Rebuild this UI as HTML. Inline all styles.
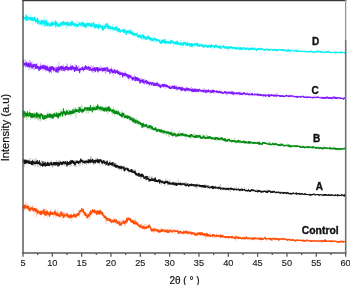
<!DOCTYPE html>
<html><head><meta charset="utf-8"><style>
html,body{margin:0;padding:0;background:#fff;width:350px;height:285px;overflow:hidden}
svg{position:absolute;left:0;top:0;display:block;will-change:transform}
.lbl{font-family:"Liberation Sans",sans-serif;font-weight:bold;fill:#111;stroke:#111;stroke-width:0.35px}
</style></head><body>
<svg width="350" height="285" viewBox="0 0 350 285">
<g fill="none" stroke-width="0.85" stroke-linejoin="round">
<path d="M23.0 14.3L23.2 11.6 23.5 17.8 23.8 18.5 24.0 16.3 24.2 18.2 24.5 21.6 24.8 20.3 25.0 19.5 25.2 19.7 25.5 16.4 25.8 20.6 26.0 14.2 26.2 17.2 26.5 16.9 26.8 13.9 27.0 17.6 27.2 21.8 27.5 17.3 27.8 15.3 28.0 18.0 28.2 20.3 28.5 19.3 28.8 18.9 29.0 15.7 29.2 20.2 29.5 19.8 29.8 21.6 30.0 22.1 30.2 20.1 30.5 14.6 30.8 15.3 31.0 15.9 31.2 19.1 31.5 16.7 31.8 21.7 32.0 19.8 32.2 20.6 32.5 22.0 32.8 21.3 33.0 17.4 33.2 25.8 33.5 23.1 33.8 22.9 34.0 17.6 34.2 14.8 34.5 15.6 34.8 16.5 35.0 20.7 35.2 20.8 35.5 22.2 35.8 23.8 36.0 20.8 36.2 20.8 36.5 19.9 36.8 20.4 37.0 18.9 37.2 22.8 37.5 22.5 37.8 21.2 38.0 20.5 38.2 23.4 38.5 25.5 38.8 23.0 39.0 23.4 39.2 21.6 39.5 22.2 39.8 22.0 40.0 22.1 40.2 21.1 40.5 23.2 40.8 25.0 41.0 20.3 41.2 26.0 41.5 22.3 41.8 22.9 42.0 19.6 42.2 19.5 42.5 26.4 42.8 22.1 43.0 26.1 43.2 24.3 43.5 24.7 43.8 26.5 44.0 23.5 44.2 16.4 44.5 19.6 44.8 25.4 45.0 27.6 45.2 23.3 45.5 22.3 45.8 21.2 46.0 25.7 46.2 20.8 46.5 22.3 46.8 25.1 47.0 24.8 47.2 23.8 47.5 26.9 47.8 22.1 48.0 22.3 48.2 23.9 48.5 24.7 48.8 23.8 49.0 28.3 49.2 22.5 49.5 25.1 49.8 22.2 50.0 24.3 50.2 22.9 50.5 22.7 50.8 26.7 51.0 22.3 51.2 26.8 51.5 21.8 51.8 22.9 52.0 26.6 52.2 19.4 52.5 21.3 52.8 24.7 53.0 25.5 53.2 25.5 53.5 23.5 53.8 20.9 54.0 25.9 54.2 24.9 54.5 21.7 54.8 24.7 55.0 28.1 55.2 24.4 55.5 21.5 55.8 23.4 56.0 23.7 56.2 25.1 56.5 26.2 56.8 22.3 57.0 22.9 57.2 26.3 57.5 25.5 57.8 27.0 58.0 21.2 58.2 22.4 58.5 26.7 58.8 22.8 59.0 25.8 59.2 25.3 59.5 23.9 59.8 28.4 60.0 25.2 60.2 24.0 60.5 25.0 60.8 25.6 61.0 21.6 61.2 23.4 61.5 22.5 61.8 21.1 62.0 27.8 62.2 28.8 62.5 28.3 62.8 21.9 63.0 25.9 63.2 26.2 63.5 23.3 63.8 25.9 64.0 21.4 64.2 21.5 64.5 22.0 64.8 22.4 65.0 22.4 65.2 27.0 65.5 22.8 65.8 24.4 66.0 24.0 66.2 29.8 66.5 23.2 66.8 25.7 67.0 28.2 67.2 21.6 67.5 22.3 67.8 23.1 68.0 21.2 68.2 26.5 68.5 22.8 68.8 26.2 69.0 25.4 69.2 24.4 69.5 26.5 69.8 24.3 70.0 26.9 70.2 22.1 70.5 23.1 70.8 26.9 71.0 20.1 71.2 25.1 71.5 23.1 71.8 22.6 72.0 22.3 72.2 26.3 72.5 20.7 72.8 25.7 73.0 25.0 73.2 23.3 73.5 24.2 73.8 25.9 74.0 23.5 74.2 21.7 74.5 25.4 74.8 23.3 75.0 24.5 75.2 25.5 75.5 26.9 75.8 29.0 76.0 25.9 76.2 25.3 76.5 26.4 76.8 25.0 77.0 20.6 77.2 22.7 77.5 21.3 77.8 25.2 78.0 26.2 78.2 24.5 78.5 21.8 78.8 25.7 79.0 22.2 79.2 24.8 79.5 22.0 79.8 21.5 80.0 21.6 80.2 24.4 80.5 23.3 80.8 25.6 81.0 22.3 81.2 25.5 81.5 23.3 81.8 27.0 82.0 26.4 82.2 23.9 82.5 24.5 82.8 24.8 83.0 25.4 83.2 24.2 83.5 27.2 83.8 24.2 84.0 21.6 84.2 25.8 84.5 25.1 84.8 27.0 85.0 26.3 85.2 25.3 85.5 25.1 85.8 25.1 86.0 23.5 86.2 22.6 86.5 23.2 86.8 24.4 87.0 20.3 87.2 23.8 87.5 23.1 87.8 25.0 88.0 23.5 88.2 25.2 88.5 24.8 88.8 27.6 89.0 24.5 89.2 24.8 89.5 25.5 89.8 21.9 90.0 23.2 90.2 27.9 90.5 26.0 90.8 25.0 91.0 26.9 91.2 24.8 91.5 24.9 91.8 24.7 92.0 22.1 92.2 27.5 92.5 25.3 92.8 25.4 93.0 25.0 93.2 24.4 93.5 21.1 93.8 25.8 94.0 29.4 94.2 27.2 94.5 24.9 94.8 23.7 95.0 25.7 95.2 26.5 95.5 25.8 95.8 27.8 96.0 24.2 96.2 28.0 96.5 26.5 96.8 25.3 97.0 25.9 97.2 26.9 97.5 27.6 97.8 26.2 98.0 27.0 98.2 30.2 98.5 22.8 98.8 22.0 99.0 26.0 99.2 24.0 99.5 26.1 99.8 23.1 100.0 26.4 100.2 28.8 100.5 28.7 100.8 24.7 101.0 26.7 101.2 29.0 101.5 30.5 101.8 25.4 102.0 25.4 102.2 29.0 102.5 26.0 102.8 24.7 103.0 28.4 103.2 23.5 103.5 25.2 103.8 28.2 104.0 25.3 104.2 28.0 104.5 24.2 104.8 27.5 105.0 26.7 105.2 28.5 105.5 24.9 105.8 24.6 106.0 25.1 106.2 27.4 106.5 24.5 106.8 25.6 107.0 29.6 107.2 27.5 107.5 27.5 107.8 25.3 108.0 28.0 108.2 24.7 108.5 24.3 108.8 25.6 109.0 30.4 109.2 28.5 109.5 26.7 109.8 28.1 110.0 29.6 110.2 30.9 110.5 25.7 110.8 30.6 111.0 29.4 111.2 26.1 111.5 26.3 111.8 27.9 112.0 26.6 112.2 27.5 112.5 25.5 112.8 24.4 113.0 32.2 113.2 28.4 113.5 28.8 113.8 29.6 114.0 31.1 114.2 30.6 114.5 27.3 114.8 28.8 115.0 29.0 115.2 30.1 115.5 27.6 115.8 29.6 116.0 29.5 116.2 31.7 116.5 25.0 116.8 29.8 117.0 30.5 117.2 30.9 117.5 29.6 117.8 28.2 118.0 31.0 118.2 30.6 118.5 28.5 118.8 27.6 119.0 31.1 119.2 28.3 119.5 30.9 119.8 32.3 120.0 30.0 120.2 30.0 120.5 29.8 120.8 32.2 121.0 32.3 121.2 30.1 121.5 31.3 121.8 30.2 122.0 29.3 122.2 31.8 122.5 30.7 122.8 29.5 123.0 28.7 123.2 33.2 123.5 30.0 123.8 29.6 124.0 31.0 124.2 32.6 124.5 28.2 124.8 32.4 125.0 32.1 125.2 29.3 125.5 29.5 125.8 31.1 126.0 35.0 126.2 31.4 126.5 33.9 126.8 33.8 127.0 29.9 127.2 32.6 127.5 34.7 127.8 32.5 128.0 35.2 128.2 31.4 128.5 30.5 128.8 32.2 129.0 33.9 129.2 32.0 129.5 34.1 129.8 29.6 130.0 31.0 130.2 34.2 130.5 27.8 130.8 32.7 131.0 30.7 131.2 31.1 131.5 32.1 131.8 30.4 132.0 34.6 132.2 34.4 132.5 35.5 132.8 34.0 133.0 32.5 133.2 35.2 133.5 32.2 133.8 32.9 134.0 37.6 134.2 35.8 134.5 34.3 134.8 35.8 135.0 32.9 135.2 34.5 135.5 32.4 135.8 33.1 136.0 34.0 136.2 36.1 136.5 32.6 136.8 35.7 137.0 34.3 137.2 31.8 137.5 31.9 137.8 34.2 138.0 37.4 138.2 36.1 138.5 38.6 138.8 35.8 139.0 37.7 139.2 35.6 139.5 33.6 139.8 36.5 140.0 34.2 140.2 33.0 140.5 34.3 140.8 35.3 141.0 36.7 141.2 38.1 141.5 37.8 141.8 40.2 142.0 33.7 142.2 36.5 142.5 40.8 142.8 36.1 143.0 34.5 143.2 35.5 143.5 35.3 143.8 36.4 144.0 40.1 144.2 35.2 144.5 36.4 144.8 39.6 145.0 37.5 145.2 37.7 145.5 36.5 145.8 38.4 146.0 35.3 146.2 38.3 146.5 36.8 146.8 36.4 147.0 35.9 147.2 38.4 147.5 38.0 147.8 37.2 148.0 38.3 148.2 36.6 148.5 40.4 148.8 40.7 149.0 40.5 149.2 39.2 149.5 39.7 149.8 36.8 150.0 38.6 150.2 39.0 150.5 39.2 150.8 40.5 151.0 39.1 151.2 38.9 151.5 42.1 151.8 40.1 152.0 39.7 152.2 37.6 152.5 38.6 152.8 40.5 153.0 41.3 153.2 38.2 153.5 41.1 153.8 41.6 154.0 40.3 154.2 41.3 154.5 43.2 154.8 39.8 155.0 38.0 155.2 39.8 155.5 39.0 155.8 40.4 156.0 41.4 156.2 41.8 156.5 41.0 156.8 42.6 157.0 41.0 157.2 42.1 157.5 41.0 157.8 40.9 158.0 39.8 158.2 40.5 158.5 39.7 158.8 40.5 159.0 41.3 159.2 43.1 159.5 41.3 159.8 42.9 160.0 40.2 160.2 41.7 160.5 43.9 160.8 42.3 161.0 38.9 161.2 41.3 161.5 41.1 161.8 39.7 162.0 39.0 162.2 40.2 162.5 40.2 162.8 42.8 163.0 42.6 163.2 42.9 163.5 43.6 163.8 38.7 164.0 41.6 164.2 42.6 164.5 41.1 164.8 41.0 165.0 40.5 165.2 41.8 165.5 41.6 165.8 43.6 166.0 42.4 166.2 42.3 166.5 41.8 166.8 40.8 167.0 42.1 167.2 43.0 167.5 42.4 167.8 40.0 168.0 39.5 168.2 42.7 168.5 42.4 168.8 42.7 169.0 41.0 169.2 43.3 169.5 43.1 169.8 41.6 170.0 42.8 170.2 40.5 170.5 41.6 170.8 38.6 171.0 41.1 171.2 45.1 171.5 42.4 171.8 43.9 172.0 42.5 172.2 42.2 172.5 42.4 172.8 41.7 173.0 43.5 173.2 41.6 173.5 42.7 173.8 47.2 174.0 43.3 174.2 41.9 174.5 44.1 174.8 43.1 175.0 42.0 175.2 41.0 175.5 42.4 175.8 42.2 176.0 43.0 176.2 43.6 176.5 43.9 176.8 42.2 177.0 44.4 177.2 44.3 177.5 41.7 177.8 44.1 178.0 43.6 178.2 44.4 178.5 42.4 178.8 43.8 179.0 44.1 179.2 42.8 179.5 45.0 179.8 43.7 180.0 44.5 180.2 42.2 180.5 41.3 180.8 41.5 181.0 39.9 181.2 41.8 181.5 43.6 181.8 45.1 182.0 44.8 182.2 45.3 182.5 45.5 182.8 46.9 183.0 44.3 183.2 45.2 183.5 44.6 183.8 39.7 184.0 43.4 184.2 43.1 184.5 43.4 184.8 42.3 185.0 42.2 185.2 42.8 185.5 45.0 185.8 44.8 186.0 46.3 186.2 42.6 186.5 45.8 186.8 46.8 187.0 43.0 187.2 44.2 187.5 42.1 187.8 40.6 188.0 42.6 188.2 44.8 188.5 45.2 188.8 44.4 189.0 45.8 189.2 45.5 189.5 47.8 189.8 43.3 190.0 44.0 190.2 44.3 190.5 44.3 190.8 44.3 191.0 48.2 191.2 44.6 191.5 45.9 191.8 43.1 192.0 44.2 192.2 46.4 192.5 46.4 192.8 42.7 193.0 47.7 193.2 45.4 193.5 43.7 193.8 45.5 194.0 43.8 194.2 42.8 194.5 45.1 194.8 46.0 195.0 46.5 195.2 42.9 195.5 43.7 195.8 44.7 196.0 46.5 196.2 46.9 196.5 44.7 196.8 43.6 197.0 45.9 197.2 44.5 197.5 45.8 197.8 46.7 198.0 45.9 198.2 43.7 198.5 43.5 198.8 43.1 199.0 46.2 199.2 46.6 199.5 43.5 199.8 44.1 200.0 43.4 200.2 44.5 200.5 43.7 200.8 43.7 201.0 46.5 201.2 46.1 201.5 45.0 201.8 46.7 202.0 44.6 202.2 46.0 202.5 44.3 202.8 44.4 203.0 46.6 203.2 43.7 203.5 44.7 203.8 43.8 204.0 43.8 204.2 45.6 204.5 45.7 204.8 43.7 205.0 48.4 205.2 47.6 205.5 44.5 205.8 46.4 206.0 46.0 206.2 44.9 206.5 44.1 206.8 45.7 207.0 45.5 207.2 47.5 207.5 46.1 207.8 44.9 208.0 45.5 208.2 46.4 208.5 47.6 208.8 44.8 209.0 46.5 209.2 47.5 209.5 44.2 209.8 47.9 210.0 45.5 210.2 46.2 210.5 45.6 210.8 46.7 211.0 46.9 211.2 47.1 211.5 49.9 211.8 43.5 212.0 46.1 212.2 45.0 212.5 46.5 212.8 46.0 213.0 46.7 213.2 47.1 213.5 46.5 213.8 48.7 214.0 45.7 214.2 47.1 214.5 47.7 214.8 49.2 215.0 45.7 215.2 45.7 215.5 47.6 215.8 46.9 216.0 45.0 216.2 48.2 216.5 47.1 216.8 46.5 217.0 46.5 217.2 47.1 217.5 46.7 217.8 47.4 218.0 47.2 218.2 45.6 218.5 44.9 218.8 48.7 219.0 46.3 219.2 49.0 219.5 47.2 219.8 43.9 220.0 47.5 220.2 46.2 220.5 44.7 220.8 47.5 221.0 46.2 221.2 47.2 221.5 49.0 221.8 48.5 222.0 47.7 222.2 47.7 222.5 47.4 222.8 46.4 223.0 45.9 223.2 46.5 223.5 47.3 223.8 46.4 224.0 47.0 224.2 47.3 224.5 46.3 224.8 48.7 225.0 48.9 225.2 47.6 225.5 46.2 225.8 45.1 226.0 44.3 226.2 48.5 226.5 47.6 226.8 46.8 227.0 45.9 227.2 47.5 227.5 48.9 227.8 48.5 228.0 47.1 228.2 51.6 228.5 48.6 228.8 46.3 229.0 48.1 229.2 48.0 229.5 48.2 229.8 47.4 230.0 45.6 230.2 47.4 230.5 46.1 230.8 47.0 231.0 46.9 231.2 47.9 231.5 47.4 231.8 46.9 232.0 50.4 232.2 47.3 232.5 47.6 232.8 48.7 233.0 48.9 233.2 49.5 233.5 46.7 233.8 47.6 234.0 49.5 234.2 48.5 234.5 48.4 234.8 46.6 235.0 46.6 235.2 47.2 235.5 48.4 235.8 49.1 236.0 49.3 236.2 46.2 236.5 48.2 236.8 48.6 237.0 48.2 237.2 48.2 237.5 47.5 237.8 48.2 238.0 45.9 238.2 49.7 238.5 48.6 238.8 50.0 239.0 47.6 239.2 46.7 239.5 50.6 239.8 46.4 240.0 47.4 240.2 49.5 240.5 50.2 240.8 47.8 241.0 48.4 241.2 48.3 241.5 49.2 241.8 47.6 242.0 49.0 242.2 49.5 242.5 48.3 242.8 48.4 243.0 50.8 243.2 48.7 243.5 48.0 243.8 49.6 244.0 49.6 244.2 47.5 244.5 47.0 244.8 49.5 245.0 49.4 245.2 49.6 245.5 50.1 245.8 47.4 246.0 47.0 246.2 49.7 246.5 49.7 246.8 48.9 247.0 49.3 247.2 47.8 247.5 47.4 247.8 48.5 248.0 49.1 248.2 49.3 248.5 48.4 248.8 49.0 249.0 49.8 249.2 49.2 249.5 48.3 249.8 50.5 250.0 47.5 250.2 48.8 250.5 50.4 250.8 51.0 251.0 50.2 251.2 48.1 251.5 46.8 251.8 48.1 252.0 48.6 252.2 48.8 252.5 47.9 252.8 48.3 253.0 49.2 253.2 49.1 253.5 50.4 253.8 49.8 254.0 49.7 254.2 48.6 254.5 49.2 254.8 47.3 255.0 48.8 255.2 47.5 255.5 49.1 255.8 49.3 256.0 48.8 256.2 50.2 256.5 48.2 256.8 48.9 257.0 48.6 257.2 48.8 257.5 50.3 257.8 47.9 258.0 50.6 258.2 50.4 258.5 49.6 258.8 48.7 259.0 49.2 259.2 48.6 259.5 50.4 259.8 48.0 260.0 48.1 260.2 49.2 260.5 46.9 260.8 50.6 261.0 49.0 261.2 50.1 261.5 49.6 261.8 47.8 262.0 49.4 262.2 49.8 262.5 48.3 262.8 48.4 263.0 48.4 263.2 50.0 263.5 48.3 263.8 48.7 264.0 49.5 264.2 49.8 264.5 49.1 264.8 51.0 265.0 51.0 265.2 48.3 265.5 50.9 265.8 49.7 266.0 50.0 266.2 49.9 266.5 47.9 266.8 48.1 267.0 49.6 267.2 48.6 267.5 51.7 267.8 49.1 268.0 50.3 268.2 48.6 268.5 51.4 268.8 51.2 269.0 48.4 269.2 50.0 269.5 49.8 269.8 51.2 270.0 47.7 270.2 49.7 270.5 50.7 270.8 49.6 271.0 49.2 271.2 48.5 271.5 50.2 271.8 49.6 272.0 48.6 272.2 49.9 272.5 49.3 272.8 49.9 273.0 50.2 273.2 50.5 273.5 49.9 273.8 48.7 274.0 49.5 274.2 49.4 274.5 50.6 274.8 49.0 275.0 50.8 275.2 49.5 275.5 50.1 275.8 49.2 276.0 50.7 276.2 49.1 276.5 50.9 276.8 49.8 277.0 50.1 277.2 49.9 277.5 48.8 277.8 50.7 278.0 48.4 278.2 49.8 278.5 50.4 278.8 50.8 279.0 49.5 279.2 49.7 279.5 49.9 279.8 49.4 280.0 50.1 280.2 49.6 280.5 50.9 280.8 50.4 281.0 49.9 281.2 50.1 281.5 50.9 281.8 50.2 282.0 49.7 282.2 49.9 282.5 50.8 282.8 49.2 283.0 50.7 283.2 51.3 283.5 50.3 283.8 50.4 284.0 49.5 284.2 49.8 284.5 50.2 284.8 50.9 285.0 50.2 285.2 49.7 285.5 50.0 285.8 49.5 286.0 51.8 286.2 50.1 286.5 51.8 286.8 49.4 287.0 49.8 287.2 51.7 287.5 50.4 287.8 52.2 288.0 51.2 288.2 51.6 288.5 49.4 288.8 50.8 289.0 50.4 289.2 51.9 289.5 50.4 289.8 50.8 290.0 50.3 290.2 49.8 290.5 51.6 290.8 51.0 291.0 51.6 291.2 50.5 291.5 51.2 291.8 50.7 292.0 51.0 292.2 51.5 292.5 51.1 292.8 51.9 293.0 50.5 293.2 51.1 293.5 52.4 293.8 50.8 294.0 50.0 294.2 52.2 294.5 51.2 294.8 50.6 295.0 50.6 295.2 52.0 295.5 50.8 295.8 50.5 296.0 52.1 296.2 51.9 296.5 52.1 296.8 51.3 297.0 51.9 297.2 50.9 297.5 51.2 297.8 51.5 298.0 51.6 298.2 52.0 298.5 51.6 298.8 50.4 299.0 50.6 299.2 51.5 299.5 51.8 299.8 51.3 300.0 50.6 300.2 51.1 300.5 51.8 300.8 52.0 301.0 50.8 301.2 50.6 301.5 51.4 301.8 50.9 302.0 51.4 302.2 50.8 302.5 51.6 302.8 51.7 303.0 52.3 303.2 52.2 303.5 51.5 303.8 50.8 304.0 52.0 304.2 51.0 304.5 50.5 304.8 51.3 305.0 50.5 305.2 52.8 305.5 52.3 305.8 52.6 306.0 51.4 306.2 51.8 306.5 52.0 306.8 51.7 307.0 52.0 307.2 52.2 307.5 51.5 307.8 51.9 308.0 53.0 308.2 52.3 308.5 51.0 308.8 51.7 309.0 51.7 309.2 51.8 309.5 52.2 309.8 51.4 310.0 53.0 310.2 51.8 310.5 52.3 310.8 51.3 311.0 50.4 311.2 52.1 311.5 52.2 311.8 52.3 312.0 51.5 312.2 51.8 312.5 51.1 312.8 50.8 313.0 52.1 313.2 52.4 313.5 52.4 313.8 52.5 314.0 52.5 314.2 52.4 314.5 52.4 314.8 52.0 315.0 51.5 315.2 50.5 315.5 52.0 315.8 52.8 316.0 52.1 316.2 53.1 316.5 52.3 316.8 50.4 317.0 52.5 317.2 51.1 317.5 51.6 317.8 51.4 318.0 51.5 318.2 52.6 318.5 52.3 318.8 50.5 319.0 51.9 319.2 51.1 319.5 52.5 319.8 52.8 320.0 51.5 320.2 52.6 320.5 52.7 320.8 52.5 321.0 52.9 321.2 52.2 321.5 52.6 321.8 52.3 322.0 52.3 322.2 52.2 322.5 50.8 322.8 52.1 323.0 53.0 323.2 51.4 323.5 51.9 323.8 50.2 324.0 52.5 324.2 52.3 324.5 52.8 324.8 53.2 325.0 51.5 325.2 51.5 325.5 52.3 325.8 51.7 326.0 52.6 326.2 51.0 326.5 52.0 326.8 51.5 327.0 51.3 327.2 52.4 327.5 51.7 327.8 52.0 328.0 52.1 328.2 50.4 328.5 52.9 328.8 52.7 329.0 52.6 329.2 52.3 329.5 53.5 329.8 52.8 330.0 51.9 330.2 52.9 330.5 53.4 330.8 52.4 331.0 52.3 331.2 52.7 331.5 52.8 331.8 52.6 332.0 52.0 332.2 52.8 332.5 52.1 332.8 52.0 333.0 53.0 333.2 52.1 333.5 51.7 333.8 52.6 334.0 51.6 334.2 53.1 334.5 52.3 334.8 53.1 335.0 52.5 335.2 51.8 335.5 50.5 335.8 51.8 336.0 53.3 336.2 52.1 336.5 53.1 336.8 53.2 337.0 51.3 337.2 52.1 337.5 52.3 337.8 53.4 338.0 53.4 338.2 51.7 338.5 52.5 338.8 52.4 339.0 51.4 339.2 52.9 339.5 53.4 339.8 51.4 340.0 52.6 340.2 51.8 340.5 53.0 340.8 53.2 341.0 52.2 341.2 52.5 341.5 53.8 341.8 52.5 342.0 53.4 342.2 51.4 342.5 51.5 342.8 53.2 343.0 52.6 343.2 52.2 343.5 51.7 343.8 52.6 344.0 51.5 344.2 52.4 344.5 53.0 344.8 52.4 345.0 51.5 345.2 51.4 345.5 52.2" stroke="#00eef2" stroke-width="0.5" opacity="0.3"/>
<path d="M23.0 64.6L23.2 68.2 23.5 65.7 23.8 61.1 24.0 62.4 24.2 65.9 24.5 63.6 24.8 66.4 25.0 59.0 25.2 68.3 25.5 67.5 25.8 59.7 26.0 62.6 26.2 62.1 26.5 62.4 26.8 65.3 27.0 61.9 27.2 61.0 27.5 65.5 27.8 67.0 28.0 63.6 28.2 65.7 28.5 61.5 28.8 67.3 29.0 70.5 29.2 66.5 29.5 65.1 29.8 60.2 30.0 64.1 30.2 60.1 30.5 67.4 30.8 69.8 31.0 69.1 31.2 66.3 31.5 67.3 31.8 65.0 32.0 67.7 32.2 68.0 32.5 67.5 32.8 61.6 33.0 68.6 33.2 69.3 33.5 66.7 33.8 69.7 34.0 70.5 34.2 63.3 34.5 70.2 34.8 66.5 35.0 64.7 35.2 67.2 35.5 64.4 35.8 65.0 36.0 63.7 36.2 64.5 36.5 63.4 36.8 65.1 37.0 63.5 37.2 62.8 37.5 68.5 37.8 66.2 38.0 67.8 38.2 71.7 38.5 69.7 38.8 68.8 39.0 66.5 39.2 70.8 39.5 69.8 39.8 70.7 40.0 67.4 40.2 66.8 40.5 62.6 40.8 68.7 41.0 63.9 41.2 66.8 41.5 69.2 41.8 68.2 42.0 68.1 42.2 69.5 42.5 64.4 42.8 68.5 43.0 71.1 43.2 70.7 43.5 64.6 43.8 70.1 44.0 68.9 44.2 65.7 44.5 64.8 44.8 67.9 45.0 71.6 45.2 69.5 45.5 66.4 45.8 69.0 46.0 71.4 46.2 68.7 46.5 68.0 46.8 70.0 47.0 64.2 47.2 70.0 47.5 65.8 47.8 68.8 48.0 69.8 48.2 68.6 48.5 67.1 48.8 68.1 49.0 70.7 49.2 65.7 49.5 66.8 49.8 69.7 50.0 71.0 50.2 69.2 50.5 68.2 50.8 71.1 51.0 68.5 51.2 74.0 51.5 72.3 51.8 73.4 52.0 66.7 52.2 67.6 52.5 68.1 52.8 66.1 53.0 67.8 53.2 71.1 53.5 66.7 53.8 68.2 54.0 72.5 54.2 69.9 54.5 70.4 54.8 69.0 55.0 67.5 55.2 68.0 55.5 68.9 55.8 66.7 56.0 68.4 56.2 67.2 56.5 68.2 56.8 72.4 57.0 70.3 57.2 65.8 57.5 68.3 57.8 72.6 58.0 72.2 58.2 65.4 58.5 68.8 58.8 67.6 59.0 61.9 59.2 68.1 59.5 72.1 59.8 66.1 60.0 66.8 60.2 69.5 60.5 66.7 60.8 66.9 61.0 68.4 61.2 64.9 61.5 69.4 61.8 65.2 62.0 68.4 62.2 70.2 62.5 72.0 62.8 66.6 63.0 68.9 63.2 68.8 63.5 64.0 63.8 67.5 64.0 68.1 64.2 68.7 64.5 71.9 64.8 67.9 65.0 67.5 65.2 67.8 65.5 67.8 65.8 68.7 66.0 71.2 66.2 65.5 66.5 67.9 66.8 62.9 67.0 64.7 67.2 69.1 67.5 64.1 67.8 69.5 68.0 71.5 68.2 67.1 68.5 67.6 68.8 69.4 69.0 68.1 69.2 69.2 69.5 67.5 69.8 70.6 70.0 69.4 70.2 68.2 70.5 63.4 70.8 66.9 71.0 68.5 71.2 69.9 71.5 67.2 71.8 70.0 72.0 70.6 72.2 67.4 72.5 70.3 72.8 68.4 73.0 66.5 73.2 68.4 73.5 70.8 73.8 68.6 74.0 68.1 74.2 69.8 74.5 70.0 74.8 69.3 75.0 65.0 75.2 63.7 75.5 65.4 75.8 71.8 76.0 69.6 76.2 64.8 76.5 69.5 76.8 65.0 77.0 68.7 77.2 70.3 77.5 68.4 77.8 70.4 78.0 70.5 78.2 65.1 78.5 68.6 78.8 69.9 79.0 67.5 79.2 65.7 79.5 71.4 79.8 68.9 80.0 67.4 80.2 67.1 80.5 69.3 80.8 72.1 81.0 68.6 81.2 70.6 81.5 70.4 81.8 69.2 82.0 69.5 82.2 69.7 82.5 67.6 82.8 66.4 83.0 70.4 83.2 71.9 83.5 70.1 83.8 67.2 84.0 68.9 84.2 67.7 84.5 65.8 84.8 66.4 85.0 67.1 85.2 68.9 85.5 65.1 85.8 69.3 86.0 67.0 86.2 69.1 86.5 68.4 86.8 66.9 87.0 66.8 87.2 67.1 87.5 67.1 87.8 68.1 88.0 70.4 88.2 68.1 88.5 70.2 88.8 68.9 89.0 66.5 89.2 68.3 89.5 68.7 89.8 69.0 90.0 66.3 90.2 68.7 90.5 65.3 90.8 66.3 91.0 67.9 91.2 67.4 91.5 65.9 91.8 65.4 92.0 67.3 92.2 67.3 92.5 73.0 92.8 66.6 93.0 66.0 93.2 72.9 93.5 65.3 93.8 67.4 94.0 69.5 94.2 68.4 94.5 68.9 94.8 71.3 95.0 72.8 95.2 69.0 95.5 69.2 95.8 67.7 96.0 67.5 96.2 67.6 96.5 68.8 96.8 67.7 97.0 69.2 97.2 67.9 97.5 67.0 97.8 68.6 98.0 68.7 98.2 68.5 98.5 68.6 98.8 70.2 99.0 66.8 99.2 71.2 99.5 68.1 99.8 69.2 100.0 71.7 100.2 71.0 100.5 65.6 100.8 69.5 101.0 71.2 101.2 66.6 101.5 67.5 101.8 71.0 102.0 66.3 102.2 72.5 102.5 67.0 102.8 68.4 103.0 69.1 103.2 69.1 103.5 71.4 103.8 71.0 104.0 70.4 104.2 70.5 104.5 67.4 104.8 69.4 105.0 73.0 105.2 68.9 105.5 74.1 105.8 71.3 106.0 69.6 106.2 73.2 106.5 73.1 106.8 70.1 107.0 70.0 107.2 69.0 107.5 69.1 107.8 65.7 108.0 68.3 108.2 71.9 108.5 68.3 108.8 69.7 109.0 70.6 109.2 69.8 109.5 68.6 109.8 68.7 110.0 68.7 110.2 70.4 110.5 68.8 110.8 70.6 111.0 72.3 111.2 69.9 111.5 66.6 111.8 70.3 112.0 69.5 112.2 69.4 112.5 68.9 112.8 69.7 113.0 76.1 113.2 75.8 113.5 73.2 113.8 68.4 114.0 70.3 114.2 71.8 114.5 69.4 114.8 71.2 115.0 72.3 115.2 73.2 115.5 71.1 115.8 71.2 116.0 70.2 116.2 70.0 116.5 70.8 116.8 70.5 117.0 72.4 117.2 71.9 117.5 71.3 117.8 74.5 118.0 71.5 118.2 73.4 118.5 73.3 118.8 71.5 119.0 72.5 119.2 73.1 119.5 71.8 119.8 70.7 120.0 77.8 120.2 72.1 120.5 72.7 120.8 72.9 121.0 73.3 121.2 75.0 121.5 74.7 121.8 72.2 122.0 74.1 122.2 74.7 122.5 73.3 122.8 76.0 123.0 74.9 123.2 76.3 123.5 73.0 123.8 78.0 124.0 74.9 124.2 73.5 124.5 73.5 124.8 73.7 125.0 75.6 125.2 71.0 125.5 73.4 125.8 77.1 126.0 77.5 126.2 73.7 126.5 76.3 126.8 76.6 127.0 76.1 127.2 75.7 127.5 78.2 127.8 76.4 128.0 77.1 128.2 77.9 128.5 74.9 128.8 75.0 129.0 80.4 129.2 75.0 129.5 79.0 129.8 79.4 130.0 77.7 130.2 77.4 130.5 77.8 130.8 76.8 131.0 78.1 131.2 77.6 131.5 76.9 131.8 77.2 132.0 78.9 132.2 77.8 132.5 77.3 132.8 80.9 133.0 77.6 133.2 78.8 133.5 76.5 133.8 76.4 134.0 79.3 134.2 80.4 134.5 73.9 134.8 80.3 135.0 80.7 135.2 79.5 135.5 80.8 135.8 77.9 136.0 80.6 136.2 78.0 136.5 79.4 136.8 79.2 137.0 80.2 137.2 77.6 137.5 80.6 137.8 80.8 138.0 82.1 138.2 79.3 138.5 81.0 138.8 79.1 139.0 81.0 139.2 78.9 139.5 78.1 139.8 79.0 140.0 82.4 140.2 82.2 140.5 79.9 140.8 80.0 141.0 80.5 141.2 77.5 141.5 83.2 141.8 78.6 142.0 78.3 142.2 79.7 142.5 78.5 142.8 81.0 143.0 81.9 143.2 80.5 143.5 81.5 143.8 80.5 144.0 78.7 144.2 79.6 144.5 85.0 144.8 81.6 145.0 78.8 145.2 80.0 145.5 80.6 145.8 83.4 146.0 82.4 146.2 84.7 146.5 85.4 146.8 83.0 147.0 82.9 147.2 84.2 147.5 81.7 147.8 81.9 148.0 79.6 148.2 83.8 148.5 81.4 148.8 83.5 149.0 87.2 149.2 81.6 149.5 83.3 149.8 82.6 150.0 82.7 150.2 85.7 150.5 81.9 150.8 85.0 151.0 84.7 151.2 86.1 151.5 81.7 151.8 82.7 152.0 86.0 152.2 81.5 152.5 84.6 152.8 86.1 153.0 82.1 153.2 82.8 153.5 85.9 153.8 82.5 154.0 85.8 154.2 86.3 154.5 84.4 154.8 84.4 155.0 84.2 155.2 83.1 155.5 85.5 155.8 85.3 156.0 84.3 156.2 85.1 156.5 82.5 156.8 83.6 157.0 82.0 157.2 84.6 157.5 87.2 157.8 86.4 158.0 85.1 158.2 85.4 158.5 85.2 158.8 87.4 159.0 83.8 159.2 87.3 159.5 86.1 159.8 82.9 160.0 86.2 160.2 86.7 160.5 85.2 160.8 88.7 161.0 84.7 161.2 85.4 161.5 86.4 161.8 86.8 162.0 85.9 162.2 87.7 162.5 85.2 162.8 87.1 163.0 86.1 163.2 86.0 163.5 84.4 163.8 85.4 164.0 83.0 164.2 83.0 164.5 84.9 164.8 86.4 165.0 83.9 165.2 86.4 165.5 89.4 165.8 87.1 166.0 87.5 166.2 86.5 166.5 83.9 166.8 86.2 167.0 86.6 167.2 84.8 167.5 86.8 167.8 85.2 168.0 87.6 168.2 86.7 168.5 86.9 168.8 87.2 169.0 86.4 169.2 88.9 169.5 84.9 169.8 85.3 170.0 86.5 170.2 86.9 170.5 84.7 170.8 88.3 171.0 86.7 171.2 88.1 171.5 86.6 171.8 86.9 172.0 88.4 172.2 87.3 172.5 87.1 172.8 88.5 173.0 89.1 173.2 87.5 173.5 88.6 173.8 86.6 174.0 88.4 174.2 86.7 174.5 88.3 174.8 86.5 175.0 88.4 175.2 89.5 175.5 88.3 175.8 85.8 176.0 90.4 176.2 87.4 176.5 85.2 176.8 91.0 177.0 87.3 177.2 89.1 177.5 88.4 177.8 90.6 178.0 90.1 178.2 85.4 178.5 88.3 178.8 86.4 179.0 87.9 179.2 87.7 179.5 88.1 179.8 86.7 180.0 89.6 180.2 90.0 180.5 90.2 180.8 92.0 181.0 89.0 181.2 88.2 181.5 89.6 181.8 85.9 182.0 89.1 182.2 87.7 182.5 87.9 182.8 87.6 183.0 87.8 183.2 89.9 183.5 87.3 183.8 88.1 184.0 89.5 184.2 89.1 184.5 91.3 184.8 89.6 185.0 92.1 185.2 90.5 185.5 87.9 185.8 89.3 186.0 91.7 186.2 87.7 186.5 88.1 186.8 86.9 187.0 89.1 187.2 90.7 187.5 91.0 187.8 89.4 188.0 88.0 188.2 90.2 188.5 89.9 188.8 91.5 189.0 90.8 189.2 91.9 189.5 89.1 189.8 89.7 190.0 89.3 190.2 88.8 190.5 90.0 190.8 87.1 191.0 87.5 191.2 86.3 191.5 89.8 191.8 91.0 192.0 90.6 192.2 92.0 192.5 89.8 192.8 88.3 193.0 89.7 193.2 89.4 193.5 89.3 193.8 90.6 194.0 87.9 194.2 88.3 194.5 89.3 194.8 91.2 195.0 88.8 195.2 91.8 195.5 92.0 195.8 89.9 196.0 89.6 196.2 90.4 196.5 88.6 196.8 92.6 197.0 90.9 197.2 92.3 197.5 90.1 197.8 91.0 198.0 90.5 198.2 92.7 198.5 88.9 198.8 91.6 199.0 90.0 199.2 89.9 199.5 87.9 199.8 90.1 200.0 90.0 200.2 91.3 200.5 89.9 200.8 89.6 201.0 91.8 201.2 90.7 201.5 89.8 201.8 90.5 202.0 90.9 202.2 90.2 202.5 90.4 202.8 92.6 203.0 90.7 203.2 88.1 203.5 92.0 203.8 92.8 204.0 92.5 204.2 92.3 204.5 88.3 204.8 89.8 205.0 91.0 205.2 91.1 205.5 91.0 205.8 89.5 206.0 90.1 206.2 90.6 206.5 92.3 206.8 93.9 207.0 89.3 207.2 91.2 207.5 89.8 207.8 92.0 208.0 91.2 208.2 91.3 208.5 90.7 208.8 89.7 209.0 89.7 209.2 90.5 209.5 92.3 209.8 93.7 210.0 92.7 210.2 91.1 210.5 93.4 210.8 91.9 211.0 91.6 211.2 91.5 211.5 90.2 211.8 89.6 212.0 90.5 212.2 91.2 212.5 92.0 212.8 90.4 213.0 91.8 213.2 90.0 213.5 93.8 213.8 91.5 214.0 90.8 214.2 92.8 214.5 91.9 214.8 90.5 215.0 93.9 215.2 90.9 215.5 92.4 215.8 91.2 216.0 92.7 216.2 92.9 216.5 91.0 216.8 91.0 217.0 93.2 217.2 92.1 217.5 92.7 217.8 92.1 218.0 92.9 218.2 92.4 218.5 91.0 218.8 93.5 219.0 91.8 219.2 92.0 219.5 92.2 219.8 93.5 220.0 91.3 220.2 92.4 220.5 92.3 220.8 92.4 221.0 91.6 221.2 89.7 221.5 92.1 221.8 94.1 222.0 92.9 222.2 92.5 222.5 92.8 222.8 93.9 223.0 92.7 223.2 92.6 223.5 93.6 223.8 94.2 224.0 93.2 224.2 93.1 224.5 91.0 224.8 90.9 225.0 92.7 225.2 91.9 225.5 91.9 225.8 92.6 226.0 93.2 226.2 95.6 226.5 91.5 226.8 92.9 227.0 95.5 227.2 92.2 227.5 93.8 227.8 92.0 228.0 94.5 228.2 92.4 228.5 93.7 228.8 93.8 229.0 92.5 229.2 91.2 229.5 91.9 229.8 93.2 230.0 93.7 230.2 94.1 230.5 92.1 230.8 94.7 231.0 93.7 231.2 93.1 231.5 92.5 231.8 91.9 232.0 90.3 232.2 92.0 232.5 92.5 232.8 94.2 233.0 93.3 233.2 91.2 233.5 93.4 233.8 91.8 234.0 95.5 234.2 96.2 234.5 94.0 234.8 93.1 235.0 95.3 235.2 94.2 235.5 94.3 235.8 93.9 236.0 92.7 236.2 94.0 236.5 94.5 236.8 93.5 237.0 93.0 237.2 93.0 237.5 94.3 237.8 94.8 238.0 93.4 238.2 92.5 238.5 94.3 238.8 93.5 239.0 94.0 239.2 95.9 239.5 95.3 239.8 91.8 240.0 92.8 240.2 93.9 240.5 92.1 240.8 91.9 241.0 93.5 241.2 93.6 241.5 93.8 241.8 94.4 242.0 93.6 242.2 94.2 242.5 94.2 242.8 95.5 243.0 92.5 243.2 95.0 243.5 92.6 243.8 93.1 244.0 95.0 244.2 95.1 244.5 95.1 244.8 94.7 245.0 94.7 245.2 93.9 245.5 94.9 245.8 95.9 246.0 92.4 246.2 93.9 246.5 93.4 246.8 92.5 247.0 93.9 247.2 94.2 247.5 91.7 247.8 92.4 248.0 94.7 248.2 94.7 248.5 96.4 248.8 94.5 249.0 96.0 249.2 94.3 249.5 93.4 249.8 94.7 250.0 94.1 250.2 94.2 250.5 91.7 250.8 94.5 251.0 94.0 251.2 94.6 251.5 94.9 251.8 96.3 252.0 94.7 252.2 94.7 252.5 95.8 252.8 96.0 253.0 95.1 253.2 94.4 253.5 94.1 253.8 93.9 254.0 93.8 254.2 95.3 254.5 94.1 254.8 95.2 255.0 93.9 255.2 95.6 255.5 94.7 255.8 96.0 256.0 95.4 256.2 95.1 256.5 94.3 256.8 94.6 257.0 94.9 257.2 95.0 257.5 94.5 257.8 95.6 258.0 95.7 258.2 94.8 258.5 96.6 258.8 95.1 259.0 93.9 259.2 95.1 259.5 95.5 259.8 95.0 260.0 95.5 260.2 94.3 260.5 95.1 260.8 95.0 261.0 95.4 261.2 94.6 261.5 94.4 261.8 94.9 262.0 95.4 262.2 95.0 262.5 95.2 262.8 94.3 263.0 96.7 263.2 94.4 263.5 97.7 263.8 94.9 264.0 96.3 264.2 94.6 264.5 95.4 264.8 95.3 265.0 94.7 265.2 93.8 265.5 94.4 265.8 93.7 266.0 96.3 266.2 94.3 266.5 96.8 266.8 95.3 267.0 93.9 267.2 97.1 267.5 96.3 267.8 94.9 268.0 94.7 268.2 94.5 268.5 96.0 268.8 94.0 269.0 94.8 269.2 96.3 269.5 97.1 269.8 94.9 270.0 95.1 270.2 94.8 270.5 96.2 270.8 94.5 271.0 94.9 271.2 95.5 271.5 95.7 271.8 95.9 272.0 94.5 272.2 95.5 272.5 95.7 272.8 96.1 273.0 96.6 273.2 96.1 273.5 94.6 273.8 95.4 274.0 94.2 274.2 96.5 274.5 95.1 274.8 95.1 275.0 95.5 275.2 94.9 275.5 96.0 275.8 96.2 276.0 95.9 276.2 95.8 276.5 93.1 276.8 95.5 277.0 96.4 277.2 96.3 277.5 93.0 277.8 96.5 278.0 96.7 278.2 95.4 278.5 95.2 278.8 96.1 279.0 95.2 279.2 95.1 279.5 95.0 279.8 97.1 280.0 96.1 280.2 95.5 280.5 95.1 280.8 96.6 281.0 95.7 281.2 95.8 281.5 95.9 281.8 95.7 282.0 96.3 282.2 96.8 282.5 94.9 282.8 95.3 283.0 96.3 283.2 95.2 283.5 95.9 283.8 97.0 284.0 96.2 284.2 96.6 284.5 96.6 284.8 96.5 285.0 95.9 285.2 96.9 285.5 95.2 285.8 95.3 286.0 96.2 286.2 94.9 286.5 95.7 286.8 95.3 287.0 96.7 287.2 96.4 287.5 97.0 287.8 95.8 288.0 95.0 288.2 97.3 288.5 97.6 288.8 95.8 289.0 95.4 289.2 94.8 289.5 96.8 289.8 95.1 290.0 96.3 290.2 96.3 290.5 95.7 290.8 95.9 291.0 95.8 291.2 96.8 291.5 97.1 291.8 97.1 292.0 95.0 292.2 95.4 292.5 95.9 292.8 96.7 293.0 97.0 293.2 95.0 293.5 96.6 293.8 97.1 294.0 96.6 294.2 96.6 294.5 95.4 294.8 97.8 295.0 97.1 295.2 96.5 295.5 96.5 295.8 97.4 296.0 97.6 296.2 96.4 296.5 95.6 296.8 96.9 297.0 96.0 297.2 96.3 297.5 96.4 297.8 95.8 298.0 97.5 298.2 95.6 298.5 97.5 298.8 95.8 299.0 96.3 299.2 96.3 299.5 96.6 299.8 95.7 300.0 97.7 300.2 96.3 300.5 97.6 300.8 97.1 301.0 96.4 301.2 96.0 301.5 96.8 301.8 96.8 302.0 96.0 302.2 96.6 302.5 97.1 302.8 97.5 303.0 96.8 303.2 96.9 303.5 96.6 303.8 96.3 304.0 97.9 304.2 97.4 304.5 97.0 304.8 98.0 305.0 97.8 305.2 95.9 305.5 95.5 305.8 97.2 306.0 96.7 306.2 97.7 306.5 96.2 306.8 97.5 307.0 97.4 307.2 96.3 307.5 98.7 307.8 96.7 308.0 97.3 308.2 96.9 308.5 96.9 308.8 96.5 309.0 96.7 309.2 97.5 309.5 96.1 309.8 97.1 310.0 97.2 310.2 97.3 310.5 97.2 310.8 98.5 311.0 97.0 311.2 96.8 311.5 96.4 311.8 97.9 312.0 97.9 312.2 96.3 312.5 96.4 312.8 96.6 313.0 98.2 313.2 97.7 313.5 98.1 313.8 97.0 314.0 97.6 314.2 97.6 314.5 98.3 314.8 96.9 315.0 95.4 315.2 97.0 315.5 97.9 315.8 98.6 316.0 95.8 316.2 97.8 316.5 98.0 316.8 97.6 317.0 97.1 317.2 97.7 317.5 97.2 317.8 98.3 318.0 96.7 318.2 98.4 318.5 97.2 318.8 96.7 319.0 97.8 319.2 97.0 319.5 97.6 319.8 97.4 320.0 96.7 320.2 96.8 320.5 98.6 320.8 96.4 321.0 97.7 321.2 98.3 321.5 97.9 321.8 98.4 322.0 96.8 322.2 98.0 322.5 98.3 322.8 96.4 323.0 97.9 323.2 97.3 323.5 97.2 323.8 98.3 324.0 98.1 324.2 98.8 324.5 98.2 324.8 96.6 325.0 97.5 325.2 98.2 325.5 98.3 325.8 97.4 326.0 98.2 326.2 97.2 326.5 98.7 326.8 98.0 327.0 98.3 327.2 96.1 327.5 98.0 327.8 98.2 328.0 97.5 328.2 97.6 328.5 98.6 328.8 97.7 329.0 98.3 329.2 96.7 329.5 98.7 329.8 96.9 330.0 96.9 330.2 98.4 330.5 97.8 330.8 97.4 331.0 98.6 331.2 98.2 331.5 99.4 331.8 98.4 332.0 99.2 332.2 97.6 332.5 98.3 332.8 100.1 333.0 98.3 333.2 97.3 333.5 97.4 333.8 97.5 334.0 98.1 334.2 96.3 334.5 98.5 334.8 98.3 335.0 97.8 335.2 98.7 335.5 96.4 335.8 99.3 336.0 98.0 336.2 98.5 336.5 97.1 336.8 98.0 337.0 97.7 337.2 98.5 337.5 97.0 337.8 99.5 338.0 98.3 338.2 99.2 338.5 98.2 338.8 98.1 339.0 98.1 339.2 98.7 339.5 98.5 339.8 97.3 340.0 97.6 340.2 98.4 340.5 97.3 340.8 98.5 341.0 97.8 341.2 99.0 341.5 98.6 341.8 98.6 342.0 98.0 342.2 99.0 342.5 97.9 342.8 99.2 343.0 97.3 343.2 98.2 343.5 97.7 343.8 99.0 344.0 98.5 344.2 98.5 344.5 97.5 344.8 98.0 345.0 97.4 345.2 97.7 345.5 99.4" stroke="#8018ff" stroke-width="0.5" opacity="0.3"/>
<path d="M23.0 117.2L23.2 111.6 23.5 116.6 23.8 112.2 24.0 117.8 24.2 111.7 24.5 113.6 24.8 114.0 25.0 110.6 25.2 117.8 25.5 112.0 25.8 112.8 26.0 114.3 26.2 117.5 26.5 113.3 26.8 120.2 27.0 115.1 27.2 114.7 27.5 116.3 27.8 114.5 28.0 112.1 28.2 112.8 28.5 114.4 28.8 117.7 29.0 114.8 29.2 115.6 29.5 109.6 29.8 114.6 30.0 115.4 30.2 119.8 30.5 119.5 30.8 115.7 31.0 116.7 31.2 115.3 31.5 113.9 31.8 116.0 32.0 115.1 32.2 116.6 32.5 117.3 32.8 115.3 33.0 118.5 33.2 113.2 33.5 116.0 33.8 116.3 34.0 111.7 34.2 117.4 34.5 117.6 34.8 120.0 35.0 116.2 35.2 117.6 35.5 117.6 35.8 112.2 36.0 116.6 36.2 112.6 36.5 116.5 36.8 117.5 37.0 116.8 37.2 111.6 37.5 120.0 37.8 117.4 38.0 119.0 38.2 115.1 38.5 115.2 38.8 120.9 39.0 115.4 39.2 114.9 39.5 115.1 39.8 118.4 40.0 112.1 40.2 114.9 40.5 113.5 40.8 121.5 41.0 118.0 41.2 115.5 41.5 115.8 41.8 114.8 42.0 114.2 42.2 114.9 42.5 119.9 42.8 115.2 43.0 115.5 43.2 117.1 43.5 120.2 43.8 118.1 44.0 114.7 44.2 117.5 44.5 117.5 44.8 114.4 45.0 115.6 45.2 118.2 45.5 116.3 45.8 121.0 46.0 117.5 46.2 115.5 46.5 116.1 46.8 113.7 47.0 114.2 47.2 117.6 47.5 115.7 47.8 111.4 48.0 112.9 48.2 117.4 48.5 113.5 48.8 115.1 49.0 118.2 49.2 115.0 49.5 114.7 49.8 114.6 50.0 118.2 50.2 114.4 50.5 113.1 50.8 115.8 51.0 119.3 51.2 116.1 51.5 118.6 51.8 118.0 52.0 112.6 52.2 115.5 52.5 115.2 52.8 115.7 53.0 118.3 53.2 118.6 53.5 116.9 53.8 118.2 54.0 113.9 54.2 117.1 54.5 112.8 54.8 114.1 55.0 111.8 55.2 117.2 55.5 113.4 55.8 116.2 56.0 111.6 56.2 115.2 56.5 116.8 56.8 115.2 57.0 115.6 57.2 115.4 57.5 114.8 57.8 113.5 58.0 112.4 58.2 116.3 58.5 114.2 58.8 114.3 59.0 114.8 59.2 111.5 59.5 111.0 59.8 111.0 60.0 117.9 60.2 113.0 60.5 114.9 60.8 109.2 61.0 112.7 61.2 113.9 61.5 112.5 61.8 116.4 62.0 113.3 62.2 114.0 62.5 116.5 62.8 117.7 63.0 115.0 63.2 113.3 63.5 113.4 63.8 116.5 64.0 111.3 64.2 111.1 64.5 111.0 64.8 115.1 65.0 113.6 65.2 110.9 65.5 111.5 65.8 113.3 66.0 112.2 66.2 111.3 66.5 111.8 66.8 113.0 67.0 112.0 67.2 113.0 67.5 112.3 67.8 111.6 68.0 114.2 68.2 114.2 68.5 108.9 68.8 113.8 69.0 111.9 69.2 110.7 69.5 114.4 69.8 113.2 70.0 113.9 70.2 111.3 70.5 116.2 70.8 113.3 71.0 110.6 71.2 115.6 71.5 109.8 71.8 114.7 72.0 110.7 72.2 110.0 72.5 109.8 72.8 109.2 73.0 109.1 73.2 112.3 73.5 111.1 73.8 107.5 74.0 111.7 74.2 108.1 74.5 112.8 74.8 110.6 75.0 111.1 75.2 114.1 75.5 107.2 75.8 116.2 76.0 118.0 76.2 113.8 76.5 112.3 76.8 109.5 77.0 112.7 77.2 109.7 77.5 109.1 77.8 107.6 78.0 112.3 78.2 111.0 78.5 106.4 78.8 109.7 79.0 107.1 79.2 111.7 79.5 107.8 79.8 109.8 80.0 110.7 80.2 108.9 80.5 106.5 80.8 108.0 81.0 106.0 81.2 111.5 81.5 110.4 81.8 104.4 82.0 105.9 82.2 113.4 82.5 110.3 82.8 108.7 83.0 111.5 83.2 110.2 83.5 111.1 83.8 108.6 84.0 112.9 84.2 110.0 84.5 106.6 84.8 108.9 85.0 108.6 85.2 110.3 85.5 110.4 85.8 110.3 86.0 108.5 86.2 111.0 86.5 109.1 86.8 113.9 87.0 108.0 87.2 109.6 87.5 109.1 87.8 108.3 88.0 111.5 88.2 111.3 88.5 111.1 88.8 113.5 89.0 108.8 89.2 110.6 89.5 109.7 89.8 109.7 90.0 106.1 90.2 105.9 90.5 109.9 90.8 105.6 91.0 110.2 91.2 111.0 91.5 106.8 91.8 108.4 92.0 108.0 92.2 110.4 92.5 111.7 92.8 108.8 93.0 108.8 93.2 109.6 93.5 105.1 93.8 107.1 94.0 109.2 94.2 106.4 94.5 110.8 94.8 105.7 95.0 107.6 95.2 108.7 95.5 110.0 95.8 106.8 96.0 108.1 96.2 109.5 96.5 108.9 96.8 110.1 97.0 107.3 97.2 106.9 97.5 103.5 97.8 106.5 98.0 108.1 98.2 106.3 98.5 108.1 98.8 110.6 99.0 107.8 99.2 110.5 99.5 110.2 99.8 108.7 100.0 110.1 100.2 110.4 100.5 105.9 100.8 112.1 101.0 105.3 101.2 109.5 101.5 107.8 101.8 108.1 102.0 109.7 102.2 108.8 102.5 109.1 102.8 109.6 103.0 108.0 103.2 110.1 103.5 107.8 103.8 110.6 104.0 107.0 104.2 109.6 104.5 108.0 104.8 111.9 105.0 107.0 105.2 111.2 105.5 107.9 105.8 105.5 106.0 111.3 106.2 110.4 106.5 111.8 106.8 107.4 107.0 110.1 107.2 111.3 107.5 108.9 107.8 114.5 108.0 108.8 108.2 111.4 108.5 107.9 108.8 108.6 109.0 109.4 109.2 110.2 109.5 111.0 109.8 111.7 110.0 106.8 110.2 111.1 110.5 110.1 110.8 107.9 111.0 110.2 111.2 113.3 111.5 113.1 111.8 109.3 112.0 111.1 112.2 111.5 112.5 114.9 112.8 111.6 113.0 110.7 113.2 112.0 113.5 107.1 113.8 112.1 114.0 113.8 114.2 112.8 114.5 108.6 114.8 116.6 115.0 113.2 115.2 112.0 115.5 112.1 115.8 113.8 116.0 111.9 116.2 111.6 116.5 113.0 116.8 109.7 117.0 113.1 117.2 109.9 117.5 112.9 117.8 114.5 118.0 113.7 118.2 114.6 118.5 112.6 118.8 112.1 119.0 115.6 119.2 113.4 119.5 112.1 119.8 112.7 120.0 112.1 120.2 115.0 120.5 115.0 120.8 116.5 121.0 112.1 121.2 114.2 121.5 113.9 121.8 110.4 122.0 114.2 122.2 115.6 122.5 112.9 122.8 111.9 123.0 118.8 123.2 112.0 123.5 117.3 123.8 114.9 124.0 115.1 124.2 113.4 124.5 112.6 124.8 117.4 125.0 118.5 125.2 113.8 125.5 117.8 125.8 116.3 126.0 118.0 126.2 116.5 126.5 115.8 126.8 114.4 127.0 114.2 127.2 117.1 127.5 117.3 127.8 115.8 128.0 115.1 128.2 116.8 128.5 119.1 128.8 120.1 129.0 120.3 129.2 118.5 129.5 119.7 129.8 116.1 130.0 121.3 130.2 119.1 130.5 117.6 130.8 117.4 131.0 117.1 131.2 118.3 131.5 120.2 131.8 117.6 132.0 120.7 132.2 119.7 132.5 116.6 132.8 118.0 133.0 118.6 133.2 119.5 133.5 123.4 133.8 124.3 134.0 120.7 134.2 120.8 134.5 118.9 134.8 122.4 135.0 119.0 135.2 119.9 135.5 121.1 135.8 122.5 136.0 121.8 136.2 117.5 136.5 122.4 136.8 121.2 137.0 122.7 137.2 124.5 137.5 119.5 137.8 122.8 138.0 124.2 138.2 120.2 138.5 125.4 138.8 124.4 139.0 123.8 139.2 122.1 139.5 124.4 139.8 125.1 140.0 122.8 140.2 123.0 140.5 122.7 140.8 124.9 141.0 125.0 141.2 126.4 141.5 125.6 141.8 124.3 142.0 125.0 142.2 123.6 142.5 126.9 142.8 123.6 143.0 123.8 143.2 125.5 143.5 122.3 143.8 126.3 144.0 127.9 144.2 127.0 144.5 127.2 144.8 126.9 145.0 126.0 145.2 126.0 145.5 124.0 145.8 126.3 146.0 127.0 146.2 128.7 146.5 125.0 146.8 126.6 147.0 127.0 147.2 125.8 147.5 126.0 147.8 126.2 148.0 126.6 148.2 129.6 148.5 124.2 148.8 125.1 149.0 124.9 149.2 127.6 149.5 128.0 149.8 125.6 150.0 129.0 150.2 125.9 150.5 130.3 150.8 128.2 151.0 129.9 151.2 126.0 151.5 129.7 151.8 128.5 152.0 127.5 152.2 126.1 152.5 130.2 152.8 130.3 153.0 128.6 153.2 130.8 153.5 130.8 153.8 131.0 154.0 127.3 154.2 129.9 154.5 129.1 154.8 127.8 155.0 129.0 155.2 128.0 155.5 130.7 155.8 128.7 156.0 129.7 156.2 130.7 156.5 132.5 156.8 130.4 157.0 127.6 157.2 132.2 157.5 130.4 157.8 132.1 158.0 130.6 158.2 130.0 158.5 128.4 158.8 130.9 159.0 132.1 159.2 129.9 159.5 129.8 159.8 129.6 160.0 130.6 160.2 131.1 160.5 132.3 160.8 130.5 161.0 131.1 161.2 129.1 161.5 132.4 161.8 131.1 162.0 128.8 162.2 129.7 162.5 131.1 162.8 133.3 163.0 131.7 163.2 134.1 163.5 132.1 163.8 130.1 164.0 130.1 164.2 134.3 164.5 130.7 164.8 131.0 165.0 131.1 165.2 130.7 165.5 134.2 165.8 134.5 166.0 131.4 166.2 135.6 166.5 134.3 166.8 132.3 167.0 130.6 167.2 132.2 167.5 132.4 167.8 134.1 168.0 132.4 168.2 134.5 168.5 136.8 168.8 131.8 169.0 132.3 169.2 135.4 169.5 136.7 169.8 131.2 170.0 133.5 170.2 131.9 170.5 135.0 170.8 134.5 171.0 132.9 171.2 134.5 171.5 135.9 171.8 129.1 172.0 131.7 172.2 133.2 172.5 134.3 172.8 135.1 173.0 134.6 173.2 137.2 173.5 134.6 173.8 133.3 174.0 133.3 174.2 131.6 174.5 134.5 174.8 135.7 175.0 133.1 175.2 136.2 175.5 132.9 175.8 136.0 176.0 134.7 176.2 137.5 176.5 135.3 176.8 135.0 177.0 134.0 177.2 133.0 177.5 133.6 177.8 132.8 178.0 132.0 178.2 136.0 178.5 135.7 178.8 135.0 179.0 135.3 179.2 132.4 179.5 130.4 179.8 135.5 180.0 135.6 180.2 135.8 180.5 136.3 180.8 136.0 181.0 133.8 181.2 135.8 181.5 135.6 181.8 137.0 182.0 135.5 182.2 134.8 182.5 134.9 182.8 133.5 183.0 134.4 183.2 136.4 183.5 132.4 183.8 133.8 184.0 136.5 184.2 134.4 184.5 133.1 184.8 136.2 185.0 136.4 185.2 136.1 185.5 135.9 185.8 133.4 186.0 139.7 186.2 134.5 186.5 134.6 186.8 136.8 187.0 136.8 187.2 136.1 187.5 136.4 187.8 137.1 188.0 136.6 188.2 134.9 188.5 136.0 188.8 136.2 189.0 136.0 189.2 135.4 189.5 134.1 189.8 136.6 190.0 137.1 190.2 136.8 190.5 134.1 190.8 137.3 191.0 139.0 191.2 137.4 191.5 136.2 191.8 137.2 192.0 136.5 192.2 136.0 192.5 137.2 192.8 136.7 193.0 135.1 193.2 138.6 193.5 137.5 193.8 133.8 194.0 136.2 194.2 136.5 194.5 133.0 194.8 135.0 195.0 138.3 195.2 136.7 195.5 137.2 195.8 136.8 196.0 136.8 196.2 136.0 196.5 134.7 196.8 134.0 197.0 135.4 197.2 137.6 197.5 137.6 197.8 138.3 198.0 136.1 198.2 135.1 198.5 138.2 198.8 137.3 199.0 136.4 199.2 136.2 199.5 134.9 199.8 137.5 200.0 133.6 200.2 135.8 200.5 137.5 200.8 136.9 201.0 139.1 201.2 137.5 201.5 136.1 201.8 136.0 202.0 134.1 202.2 138.9 202.5 137.6 202.8 138.4 203.0 136.0 203.2 136.3 203.5 138.4 203.8 136.7 204.0 137.0 204.2 138.9 204.5 137.1 204.8 136.9 205.0 136.6 205.2 135.6 205.5 137.5 205.8 136.7 206.0 139.6 206.2 137.3 206.5 134.1 206.8 135.9 207.0 135.4 207.2 138.6 207.5 136.5 207.8 135.1 208.0 136.3 208.2 138.3 208.5 138.0 208.8 137.4 209.0 137.6 209.2 135.8 209.5 137.0 209.8 137.3 210.0 136.6 210.2 138.1 210.5 136.4 210.8 139.3 211.0 137.2 211.2 137.1 211.5 137.0 211.8 138.3 212.0 139.5 212.2 139.5 212.5 138.3 212.8 139.6 213.0 138.0 213.2 139.0 213.5 139.8 213.8 139.0 214.0 137.8 214.2 137.4 214.5 138.7 214.8 138.4 215.0 136.1 215.2 137.3 215.5 138.3 215.8 139.0 216.0 138.7 216.2 140.8 216.5 137.8 216.8 141.3 217.0 139.0 217.2 140.0 217.5 138.9 217.8 139.4 218.0 137.0 218.2 140.7 218.5 138.0 218.8 138.5 219.0 135.8 219.2 138.5 219.5 138.0 219.8 139.9 220.0 139.7 220.2 138.7 220.5 137.7 220.8 141.1 221.0 139.1 221.2 140.7 221.5 140.7 221.8 141.1 222.0 137.6 222.2 137.8 222.5 138.8 222.8 138.4 223.0 140.1 223.2 139.6 223.5 140.1 223.8 139.3 224.0 139.5 224.2 139.6 224.5 139.3 224.8 138.6 225.0 140.9 225.2 139.3 225.5 138.1 225.8 138.0 226.0 141.1 226.2 140.1 226.5 140.1 226.8 139.0 227.0 140.8 227.2 141.6 227.5 140.8 227.8 139.2 228.0 140.3 228.2 140.6 228.5 139.1 228.8 138.9 229.0 139.0 229.2 142.6 229.5 141.9 229.8 140.1 230.0 140.6 230.2 141.8 230.5 141.6 230.8 141.2 231.0 139.2 231.2 138.9 231.5 139.8 231.8 140.6 232.0 140.7 232.2 140.2 232.5 139.6 232.8 142.5 233.0 139.7 233.2 140.9 233.5 141.1 233.8 141.3 234.0 142.3 234.2 138.5 234.5 137.7 234.8 141.8 235.0 142.6 235.2 142.6 235.5 142.5 235.8 141.6 236.0 141.4 236.2 143.9 236.5 140.7 236.8 142.8 237.0 141.2 237.2 141.4 237.5 140.2 237.8 141.1 238.0 140.8 238.2 139.8 238.5 140.5 238.8 139.6 239.0 142.9 239.2 140.7 239.5 141.5 239.8 143.9 240.0 142.8 240.2 141.5 240.5 143.1 240.8 142.3 241.0 142.6 241.2 141.0 241.5 142.9 241.8 142.3 242.0 141.8 242.2 141.2 242.5 142.1 242.8 141.6 243.0 142.7 243.2 142.8 243.5 141.7 243.8 144.1 244.0 143.6 244.2 141.1 244.5 144.1 244.8 141.5 245.0 140.5 245.2 142.0 245.5 143.1 245.8 143.4 246.0 141.1 246.2 142.0 246.5 141.8 246.8 143.2 247.0 142.6 247.2 142.3 247.5 142.1 247.8 141.9 248.0 141.8 248.2 141.4 248.5 140.9 248.8 143.3 249.0 142.1 249.2 142.4 249.5 142.2 249.8 143.1 250.0 142.2 250.2 143.3 250.5 142.7 250.8 144.2 251.0 140.9 251.2 144.2 251.5 143.0 251.8 141.6 252.0 143.2 252.2 142.2 252.5 143.0 252.8 142.4 253.0 142.9 253.2 142.8 253.5 142.6 253.8 142.2 254.0 143.6 254.2 143.6 254.5 143.6 254.8 142.4 255.0 142.9 255.2 143.1 255.5 143.1 255.8 142.9 256.0 143.4 256.2 142.3 256.5 143.2 256.8 141.5 257.0 142.4 257.2 142.3 257.5 142.4 257.8 144.0 258.0 141.7 258.2 142.8 258.5 143.1 258.8 143.8 259.0 142.3 259.2 142.0 259.5 142.4 259.8 142.9 260.0 143.2 260.2 144.4 260.5 144.5 260.8 143.5 261.0 143.1 261.2 143.8 261.5 143.5 261.8 142.9 262.0 142.8 262.2 144.9 262.5 143.7 262.8 142.7 263.0 144.6 263.2 142.6 263.5 143.2 263.8 143.7 264.0 143.3 264.2 143.2 264.5 142.8 264.8 142.6 265.0 142.2 265.2 143.6 265.5 144.4 265.8 142.6 266.0 144.1 266.2 144.5 266.5 142.7 266.8 145.0 267.0 144.9 267.2 144.1 267.5 143.4 267.8 144.5 268.0 144.3 268.2 143.3 268.5 141.6 268.8 145.2 269.0 141.6 269.2 144.0 269.5 141.8 269.8 143.8 270.0 143.7 270.2 144.3 270.5 144.8 270.8 145.0 271.0 143.4 271.2 145.0 271.5 144.8 271.8 143.1 272.0 144.2 272.2 143.1 272.5 144.0 272.8 142.9 273.0 144.5 273.2 145.5 273.5 144.1 273.8 144.8 274.0 146.5 274.2 147.3 274.5 143.8 274.8 144.5 275.0 142.7 275.2 143.3 275.5 146.1 275.8 144.0 276.0 144.0 276.2 143.9 276.5 145.2 276.8 143.1 277.0 143.7 277.2 144.1 277.5 143.7 277.8 144.5 278.0 145.7 278.2 143.9 278.5 144.6 278.8 145.9 279.0 144.7 279.2 143.7 279.5 145.2 279.8 145.2 280.0 145.9 280.2 144.4 280.5 145.5 280.8 145.8 281.0 142.9 281.2 144.5 281.5 146.6 281.8 144.1 282.0 146.1 282.2 144.8 282.5 143.9 282.8 143.1 283.0 144.8 283.2 144.4 283.5 147.2 283.8 143.5 284.0 146.4 284.2 145.3 284.5 146.3 284.8 144.2 285.0 145.8 285.2 144.7 285.5 146.1 285.8 146.8 286.0 145.8 286.2 145.4 286.5 146.0 286.8 145.9 287.0 144.7 287.2 143.5 287.5 145.1 287.8 143.7 288.0 144.9 288.2 147.8 288.5 147.0 288.8 145.2 289.0 146.0 289.2 147.1 289.5 145.7 289.8 144.2 290.0 144.3 290.2 146.9 290.5 146.8 290.8 146.6 291.0 146.0 291.2 145.9 291.5 145.9 291.8 145.4 292.0 146.2 292.2 146.5 292.5 145.1 292.8 147.7 293.0 146.6 293.2 146.9 293.5 145.6 293.8 146.2 294.0 145.9 294.2 145.3 294.5 145.7 294.8 148.1 295.0 146.5 295.2 146.8 295.5 146.4 295.8 146.5 296.0 145.8 296.2 146.7 296.5 145.6 296.8 146.6 297.0 145.1 297.2 145.5 297.5 146.0 297.8 146.8 298.0 145.6 298.2 146.6 298.5 146.7 298.8 146.9 299.0 146.4 299.2 146.5 299.5 146.4 299.8 145.5 300.0 146.9 300.2 146.2 300.5 146.8 300.8 147.9 301.0 147.2 301.2 146.8 301.5 146.4 301.8 146.1 302.0 145.5 302.2 146.5 302.5 147.6 302.8 146.8 303.0 145.7 303.2 147.3 303.5 145.9 303.8 146.2 304.0 147.8 304.2 147.6 304.5 148.5 304.8 146.4 305.0 147.4 305.2 147.3 305.5 146.9 305.8 146.8 306.0 145.4 306.2 146.8 306.5 146.0 306.8 147.1 307.0 146.4 307.2 148.0 307.5 147.7 307.8 147.4 308.0 147.6 308.2 147.1 308.5 148.5 308.8 147.8 309.0 147.5 309.2 147.4 309.5 147.4 309.8 147.5 310.0 147.2 310.2 146.5 310.5 146.0 310.8 146.4 311.0 148.3 311.2 146.9 311.5 148.0 311.8 148.7 312.0 147.7 312.2 147.4 312.5 147.7 312.8 148.5 313.0 147.2 313.2 148.3 313.5 149.5 313.8 148.5 314.0 148.3 314.2 148.3 314.5 147.9 314.8 147.0 315.0 148.7 315.2 148.7 315.5 146.8 315.8 147.8 316.0 148.7 316.2 148.4 316.5 148.3 316.8 147.1 317.0 147.0 317.2 147.8 317.5 148.6 317.8 147.2 318.0 149.1 318.2 146.8 318.5 147.2 318.8 148.7 319.0 146.6 319.2 148.4 319.5 148.3 319.8 148.4 320.0 148.0 320.2 148.1 320.5 147.4 320.8 148.3 321.0 148.1 321.2 147.3 321.5 147.5 321.8 149.0 322.0 148.0 322.2 147.7 322.5 148.2 322.8 146.8 323.0 148.7 323.2 148.8 323.5 149.7 323.8 147.9 324.0 148.8 324.2 147.6 324.5 147.6 324.8 147.7 325.0 148.4 325.2 148.0 325.5 148.5 325.8 147.9 326.0 147.7 326.2 149.1 326.5 147.4 326.8 148.1 327.0 149.3 327.2 148.4 327.5 148.6 327.8 148.0 328.0 147.6 328.2 149.1 328.5 148.3 328.8 148.5 329.0 149.1 329.2 147.9 329.5 148.7 329.8 146.1 330.0 149.9 330.2 149.6 330.5 147.5 330.8 148.9 331.0 148.7 331.2 147.5 331.5 148.3 331.8 148.0 332.0 147.9 332.2 148.3 332.5 148.9 332.8 148.0 333.0 148.1 333.2 148.0 333.5 147.2 333.8 148.5 334.0 149.8 334.2 149.2 334.5 147.4 334.8 148.6 335.0 147.7 335.2 149.2 335.5 147.0 335.8 149.5 336.0 147.3 336.2 149.0 336.5 149.7 336.8 148.9 337.0 150.1 337.2 148.7 337.5 150.2 337.8 148.4 338.0 148.8 338.2 149.1 338.5 150.6 338.8 148.0 339.0 147.9 339.2 149.7 339.5 148.8 339.8 148.2 340.0 148.7 340.2 149.7 340.5 148.4 340.8 148.3 341.0 149.3 341.2 149.6 341.5 148.6 341.8 148.9 342.0 150.0 342.2 148.1 342.5 148.2 342.8 150.1 343.0 149.7 343.2 150.3 343.5 149.3 343.8 149.2 344.0 149.5 344.2 147.8 344.5 148.2 344.8 149.6 345.0 149.6 345.2 149.8 345.5 149.7" stroke="#008a10" stroke-width="0.5" opacity="0.3"/>
<path d="M23.0 163.8L23.2 163.9 23.5 161.8 23.8 163.1 24.0 163.0 24.2 162.8 24.5 166.8 24.8 161.5 25.0 161.2 25.2 160.5 25.5 163.2 25.8 160.1 26.0 160.8 26.2 162.8 26.5 162.6 26.8 159.1 27.0 164.6 27.2 161.7 27.5 162.8 27.8 161.6 28.0 164.1 28.2 160.1 28.5 159.6 28.8 161.5 29.0 163.5 29.2 160.7 29.5 162.4 29.8 163.7 30.0 158.0 30.2 163.8 30.5 163.5 30.8 160.7 31.0 161.7 31.2 160.9 31.5 163.5 31.8 161.0 32.0 163.5 32.2 165.1 32.5 159.3 32.8 163.5 33.0 162.4 33.2 161.6 33.5 163.2 33.8 162.0 34.0 159.3 34.2 161.0 34.5 161.9 34.8 160.5 35.0 159.6 35.2 166.6 35.5 164.6 35.8 164.3 36.0 162.1 36.2 158.2 36.5 161.7 36.8 163.3 37.0 161.7 37.2 161.7 37.5 163.7 37.8 167.0 38.0 163.5 38.2 163.2 38.5 161.6 38.8 165.8 39.0 163.5 39.2 163.0 39.5 162.6 39.8 162.3 40.0 163.8 40.2 167.3 40.5 163.5 40.8 164.2 41.0 161.5 41.2 163.5 41.5 160.4 41.8 166.0 42.0 162.6 42.2 164.8 42.5 164.3 42.8 166.9 43.0 165.7 43.2 166.0 43.5 161.9 43.8 162.9 44.0 162.7 44.2 162.7 44.5 162.9 44.8 166.1 45.0 164.4 45.2 164.6 45.5 163.2 45.8 163.2 46.0 162.5 46.2 166.8 46.5 165.0 46.8 166.0 47.0 165.1 47.2 163.0 47.5 164.7 47.8 160.9 48.0 166.1 48.2 164.6 48.5 164.9 48.8 164.8 49.0 166.0 49.2 164.5 49.5 165.1 49.8 163.6 50.0 163.9 50.2 164.8 50.5 165.4 50.8 162.9 51.0 161.1 51.2 160.4 51.5 163.4 51.8 162.9 52.0 165.7 52.2 167.7 52.5 163.4 52.8 167.3 53.0 167.1 53.2 163.1 53.5 163.9 53.8 165.6 54.0 162.3 54.2 161.8 54.5 164.6 54.8 162.0 55.0 161.8 55.2 163.9 55.5 162.9 55.8 163.2 56.0 165.4 56.2 165.2 56.5 160.2 56.8 165.1 57.0 163.6 57.2 164.5 57.5 165.5 57.8 167.3 58.0 165.4 58.2 163.5 58.5 164.2 58.8 160.6 59.0 164.2 59.2 163.2 59.5 160.6 59.8 160.2 60.0 160.2 60.2 161.2 60.5 163.8 60.8 162.5 61.0 161.5 61.2 162.2 61.5 164.7 61.8 162.0 62.0 161.1 62.2 166.3 62.5 160.8 62.8 163.1 63.0 163.9 63.2 162.8 63.5 162.2 63.8 164.8 64.0 162.9 64.2 164.0 64.5 162.9 64.8 166.1 65.0 162.0 65.2 161.5 65.5 162.3 65.8 163.7 66.0 163.5 66.2 164.0 66.5 162.6 66.8 164.2 67.0 160.7 67.2 160.7 67.5 162.5 67.8 161.8 68.0 161.7 68.2 162.4 68.5 162.4 68.8 164.3 69.0 165.4 69.2 166.4 69.5 164.7 69.8 163.1 70.0 162.2 70.2 162.0 70.5 161.0 70.8 164.7 71.0 166.6 71.2 163.5 71.5 163.8 71.8 159.5 72.0 163.1 72.2 161.9 72.5 162.9 72.8 161.2 73.0 161.4 73.2 161.1 73.5 161.6 73.8 166.1 74.0 163.8 74.2 160.3 74.5 162.4 74.8 162.4 75.0 166.6 75.2 160.2 75.5 164.3 75.8 164.8 76.0 166.9 76.2 166.0 76.5 163.1 76.8 160.6 77.0 161.4 77.2 161.9 77.5 162.3 77.8 161.7 78.0 160.5 78.2 163.7 78.5 163.0 78.8 162.1 79.0 161.9 79.2 161.4 79.5 160.4 79.8 166.0 80.0 160.8 80.2 160.3 80.5 163.8 80.8 160.5 81.0 161.7 81.2 159.7 81.5 160.8 81.8 158.5 82.0 162.2 82.2 164.9 82.5 162.3 82.8 162.4 83.0 163.7 83.2 163.7 83.5 160.3 83.8 160.4 84.0 161.1 84.2 163.6 84.5 159.5 84.8 160.5 85.0 161.2 85.2 161.6 85.5 161.9 85.8 161.0 86.0 163.6 86.2 160.2 86.5 164.9 86.8 162.1 87.0 163.0 87.2 159.8 87.5 162.2 87.8 159.5 88.0 159.1 88.2 163.0 88.5 161.9 88.8 160.2 89.0 158.9 89.2 163.6 89.5 162.4 89.8 163.6 90.0 163.6 90.2 163.8 90.5 157.9 90.8 155.9 91.0 162.1 91.2 157.7 91.5 162.5 91.8 161.2 92.0 160.4 92.2 160.4 92.5 158.2 92.8 160.9 93.0 161.2 93.2 162.3 93.5 164.8 93.8 160.8 94.0 162.7 94.2 164.6 94.5 160.6 94.8 160.2 95.0 160.3 95.2 159.3 95.5 158.4 95.8 161.8 96.0 163.1 96.2 161.7 96.5 159.9 96.8 160.0 97.0 161.6 97.2 160.0 97.5 161.1 97.8 160.4 98.0 162.8 98.2 162.2 98.5 161.3 98.8 159.3 99.0 160.1 99.2 162.0 99.5 163.6 99.8 160.0 100.0 164.9 100.2 159.9 100.5 159.6 100.8 160.6 101.0 159.0 101.2 160.1 101.5 160.3 101.8 159.6 102.0 160.2 102.2 162.0 102.5 163.4 102.8 165.5 103.0 162.6 103.2 160.2 103.5 162.2 103.8 160.5 104.0 163.2 104.2 162.1 104.5 163.7 104.8 162.7 105.0 163.2 105.2 162.8 105.5 166.0 105.8 160.5 106.0 164.8 106.2 164.7 106.5 163.6 106.8 162.9 107.0 163.0 107.2 161.8 107.5 161.0 107.8 164.1 108.0 164.0 108.2 164.6 108.5 162.7 108.8 164.8 109.0 164.2 109.2 166.2 109.5 163.4 109.8 160.1 110.0 161.8 110.2 164.1 110.5 161.7 110.8 165.3 111.0 163.3 111.2 164.8 111.5 165.4 111.8 163.8 112.0 165.9 112.2 167.2 112.5 164.3 112.8 164.7 113.0 164.4 113.2 166.4 113.5 167.0 113.8 164.4 114.0 164.5 114.2 166.2 114.5 164.9 114.8 167.6 115.0 165.1 115.2 164.3 115.5 163.5 115.8 164.3 116.0 162.7 116.2 166.1 116.5 168.4 116.8 163.8 117.0 164.4 117.2 164.9 117.5 166.8 117.8 165.7 118.0 168.6 118.2 168.8 118.5 166.2 118.8 167.0 119.0 166.5 119.2 168.7 119.5 170.3 119.8 166.0 120.0 166.8 120.2 165.8 120.5 168.0 120.8 168.2 121.0 166.4 121.2 167.2 121.5 170.9 121.8 170.8 122.0 166.3 122.2 167.8 122.5 167.3 122.8 168.6 123.0 166.2 123.2 168.8 123.5 169.5 123.8 169.8 124.0 165.7 124.2 170.9 124.5 167.0 124.8 166.4 125.0 170.3 125.2 169.9 125.5 168.7 125.8 170.2 126.0 170.0 126.2 169.4 126.5 167.4 126.8 168.2 127.0 168.8 127.2 170.5 127.5 170.9 127.8 168.5 128.0 168.1 128.2 168.0 128.5 170.8 128.8 168.8 129.0 173.1 129.2 170.3 129.5 170.4 129.8 171.2 130.0 170.3 130.2 169.1 130.5 170.6 130.8 171.0 131.0 169.9 131.2 170.6 131.5 171.0 131.8 168.7 132.0 170.5 132.2 171.5 132.5 170.4 132.8 172.9 133.0 173.0 133.2 169.2 133.5 171.5 133.8 172.9 134.0 171.6 134.2 172.7 134.5 172.7 134.8 169.7 135.0 172.5 135.2 171.1 135.5 169.4 135.8 174.0 136.0 172.4 136.2 173.7 136.5 175.3 136.8 175.8 137.0 174.1 137.2 173.1 137.5 173.3 137.8 175.8 138.0 173.8 138.2 176.7 138.5 176.4 138.8 173.3 139.0 177.1 139.2 174.1 139.5 175.0 139.8 175.4 140.0 174.4 140.2 176.2 140.5 177.2 140.8 179.6 141.0 178.4 141.2 175.8 141.5 176.9 141.8 178.3 142.0 176.5 142.2 175.6 142.5 176.7 142.8 175.2 143.0 177.0 143.2 176.3 143.5 179.0 143.8 177.1 144.0 175.7 144.2 178.6 144.5 177.5 144.8 177.0 145.0 178.7 145.2 177.4 145.5 176.1 145.8 176.9 146.0 180.0 146.2 180.7 146.5 178.0 146.8 179.1 147.0 176.3 147.2 179.8 147.5 178.6 147.8 179.6 148.0 178.3 148.2 178.5 148.5 176.1 148.8 179.0 149.0 177.9 149.2 179.1 149.5 181.1 149.8 175.6 150.0 180.6 150.2 179.7 150.5 179.8 150.8 180.6 151.0 178.8 151.2 176.8 151.5 178.5 151.8 178.8 152.0 176.1 152.2 180.0 152.5 179.8 152.8 177.6 153.0 179.2 153.2 179.4 153.5 179.4 153.8 179.3 154.0 180.7 154.2 179.6 154.5 182.1 154.8 179.7 155.0 181.3 155.2 181.4 155.5 177.5 155.8 179.8 156.0 180.1 156.2 180.4 156.5 180.5 156.8 181.7 157.0 181.3 157.2 180.2 157.5 182.2 157.8 180.6 158.0 181.5 158.2 180.2 158.5 179.2 158.8 179.4 159.0 182.7 159.2 181.7 159.5 179.9 159.8 181.7 160.0 179.5 160.2 179.9 160.5 178.9 160.8 180.8 161.0 182.3 161.2 184.8 161.5 181.3 161.8 182.3 162.0 182.6 162.2 183.4 162.5 181.3 162.8 180.7 163.0 183.3 163.2 180.5 163.5 183.1 163.8 182.1 164.0 183.2 164.2 184.0 164.5 181.1 164.8 186.3 165.0 181.6 165.2 181.7 165.5 183.5 165.8 178.5 166.0 181.3 166.2 182.6 166.5 181.6 166.8 181.8 167.0 181.7 167.2 181.8 167.5 182.1 167.8 185.3 168.0 183.6 168.2 181.6 168.5 182.5 168.8 184.1 169.0 184.6 169.2 181.0 169.5 182.5 169.8 179.4 170.0 181.6 170.2 184.8 170.5 183.9 170.8 183.0 171.0 182.3 171.2 183.8 171.5 184.2 171.8 184.5 172.0 184.9 172.2 184.1 172.5 181.4 172.8 182.8 173.0 183.1 173.2 182.2 173.5 185.5 173.8 182.2 174.0 184.4 174.2 184.2 174.5 184.0 174.8 183.6 175.0 182.4 175.2 183.3 175.5 184.0 175.8 181.5 176.0 184.7 176.2 182.3 176.5 184.4 176.8 183.0 177.0 185.4 177.2 185.5 177.5 185.6 177.8 186.2 178.0 183.3 178.2 179.7 178.5 181.8 178.8 182.3 179.0 184.9 179.2 185.0 179.5 182.5 179.8 184.8 180.0 183.4 180.2 183.4 180.5 184.5 180.8 182.6 181.0 185.3 181.2 185.0 181.5 186.3 181.8 185.3 182.0 184.6 182.2 185.5 182.5 183.8 182.8 184.1 183.0 182.4 183.2 182.9 183.5 183.7 183.8 185.0 184.0 185.7 184.2 185.9 184.5 183.4 184.8 183.9 185.0 182.9 185.2 182.1 185.5 185.1 185.8 182.1 186.0 184.5 186.2 183.0 186.5 183.5 186.8 185.1 187.0 183.1 187.2 184.9 187.5 183.3 187.8 184.5 188.0 184.5 188.2 184.9 188.5 183.1 188.8 184.3 189.0 184.9 189.2 183.4 189.5 185.1 189.8 185.1 190.0 184.5 190.2 184.1 190.5 184.9 190.8 183.9 191.0 185.4 191.2 185.0 191.5 186.4 191.8 184.8 192.0 183.5 192.2 185.2 192.5 184.4 192.8 186.7 193.0 183.9 193.2 184.4 193.5 184.7 193.8 184.7 194.0 185.1 194.2 187.9 194.5 184.9 194.8 186.5 195.0 184.4 195.2 184.7 195.5 185.5 195.8 187.6 196.0 186.2 196.2 186.5 196.5 185.4 196.8 185.8 197.0 188.9 197.2 184.7 197.5 183.7 197.8 185.9 198.0 184.8 198.2 184.5 198.5 183.7 198.8 186.7 199.0 186.2 199.2 185.7 199.5 187.1 199.8 187.4 200.0 186.4 200.2 187.2 200.5 184.8 200.8 186.9 201.0 185.3 201.2 186.2 201.5 188.0 201.8 186.2 202.0 188.4 202.2 187.7 202.5 187.3 202.8 185.1 203.0 186.6 203.2 187.0 203.5 187.5 203.8 186.5 204.0 184.9 204.2 187.6 204.5 184.7 204.8 185.6 205.0 184.1 205.2 186.3 205.5 187.1 205.8 187.1 206.0 184.9 206.2 186.7 206.5 186.5 206.8 186.9 207.0 187.5 207.2 186.9 207.5 188.5 207.8 185.2 208.0 187.1 208.2 186.8 208.5 185.1 208.8 186.6 209.0 186.0 209.2 185.0 209.5 186.7 209.8 186.0 210.0 187.3 210.2 186.0 210.5 188.1 210.8 187.1 211.0 186.9 211.2 187.5 211.5 188.7 211.8 186.5 212.0 186.8 212.2 186.7 212.5 187.1 212.8 185.0 213.0 188.9 213.2 189.4 213.5 189.4 213.8 188.0 214.0 186.4 214.2 187.1 214.5 188.3 214.8 187.6 215.0 186.3 215.2 187.2 215.5 185.9 215.8 186.3 216.0 188.1 216.2 186.9 216.5 186.4 216.8 186.7 217.0 186.8 217.2 188.1 217.5 188.4 217.8 188.2 218.0 187.0 218.2 187.2 218.5 189.7 218.8 187.9 219.0 187.2 219.2 188.4 219.5 186.2 219.8 188.9 220.0 189.1 220.2 188.1 220.5 184.2 220.8 187.8 221.0 188.3 221.2 188.1 221.5 190.5 221.8 187.0 222.0 187.2 222.2 188.8 222.5 188.0 222.8 189.2 223.0 188.3 223.2 187.8 223.5 187.3 223.8 188.4 224.0 188.3 224.2 189.8 224.5 189.4 224.8 187.1 225.0 190.0 225.2 188.4 225.5 187.5 225.8 190.7 226.0 188.4 226.2 188.7 226.5 189.1 226.8 187.3 227.0 188.6 227.2 188.8 227.5 187.9 227.8 189.0 228.0 189.5 228.2 189.0 228.5 186.8 228.8 188.6 229.0 189.3 229.2 190.6 229.5 189.8 229.8 189.6 230.0 188.1 230.2 190.0 230.5 191.9 230.8 189.6 231.0 189.2 231.2 189.5 231.5 189.9 231.8 188.8 232.0 189.4 232.2 188.3 232.5 189.1 232.8 189.2 233.0 188.7 233.2 188.2 233.5 190.8 233.8 189.1 234.0 189.7 234.2 187.5 234.5 188.9 234.8 188.8 235.0 191.1 235.2 190.0 235.5 189.1 235.8 189.9 236.0 189.4 236.2 189.7 236.5 187.7 236.8 187.0 237.0 189.0 237.2 189.0 237.5 188.9 237.8 190.4 238.0 189.0 238.2 189.5 238.5 189.1 238.8 188.1 239.0 189.0 239.2 189.4 239.5 189.9 239.8 191.6 240.0 190.5 240.2 190.1 240.5 188.7 240.8 191.1 241.0 190.0 241.2 188.0 241.5 190.4 241.8 190.4 242.0 190.5 242.2 190.5 242.5 189.7 242.8 190.3 243.0 189.5 243.2 190.0 243.5 190.4 243.8 190.3 244.0 188.9 244.2 190.9 244.5 189.3 244.8 187.5 245.0 190.9 245.2 190.6 245.5 191.0 245.8 189.7 246.0 189.5 246.2 189.1 246.5 190.5 246.8 190.6 247.0 190.7 247.2 190.9 247.5 189.5 247.8 190.5 248.0 191.0 248.2 190.5 248.5 192.2 248.8 188.6 249.0 190.9 249.2 190.2 249.5 190.5 249.8 190.4 250.0 190.2 250.2 190.5 250.5 190.4 250.8 189.3 251.0 191.3 251.2 191.3 251.5 189.7 251.8 191.2 252.0 190.7 252.2 191.1 252.5 190.7 252.8 189.9 253.0 191.0 253.2 189.1 253.5 192.0 253.8 189.9 254.0 189.9 254.2 191.0 254.5 190.5 254.8 191.2 255.0 192.3 255.2 191.3 255.5 190.6 255.8 190.0 256.0 191.0 256.2 190.3 256.5 191.4 256.8 188.7 257.0 190.6 257.2 190.7 257.5 190.3 257.8 191.7 258.0 191.9 258.2 189.4 258.5 192.2 258.8 190.7 259.0 191.3 259.2 191.6 259.5 190.8 259.8 191.3 260.0 191.9 260.2 190.8 260.5 191.6 260.8 192.2 261.0 191.2 261.2 191.1 261.5 191.0 261.8 190.9 262.0 191.2 262.2 190.3 262.5 191.4 262.8 190.8 263.0 191.6 263.2 192.8 263.5 192.3 263.8 191.2 264.0 192.0 264.2 191.5 264.5 190.8 264.8 191.9 265.0 192.4 265.2 191.9 265.5 191.3 265.8 190.4 266.0 190.9 266.2 191.7 266.5 191.5 266.8 192.0 267.0 191.0 267.2 189.4 267.5 192.4 267.8 192.3 268.0 193.0 268.2 193.0 268.5 192.5 268.8 191.3 269.0 190.5 269.2 191.2 269.5 191.0 269.8 190.7 270.0 191.4 270.2 192.6 270.5 191.4 270.8 192.1 271.0 192.7 271.2 191.5 271.5 192.0 271.8 191.6 272.0 190.9 272.2 192.5 272.5 192.6 272.8 192.6 273.0 192.0 273.2 191.3 273.5 193.0 273.8 190.5 274.0 192.1 274.2 191.7 274.5 191.0 274.8 192.7 275.0 193.2 275.2 191.8 275.5 191.8 275.8 192.3 276.0 191.9 276.2 193.8 276.5 191.4 276.8 191.6 277.0 192.7 277.2 191.9 277.5 192.0 277.8 192.2 278.0 192.4 278.2 193.4 278.5 191.8 278.8 193.2 279.0 191.8 279.2 191.7 279.5 193.0 279.8 192.8 280.0 193.1 280.2 193.1 280.5 191.9 280.8 191.6 281.0 192.5 281.2 191.5 281.5 192.2 281.8 193.5 282.0 191.2 282.2 191.5 282.5 193.1 282.8 193.4 283.0 192.8 283.2 193.2 283.5 192.8 283.8 192.8 284.0 193.3 284.2 193.6 284.5 191.9 284.8 191.6 285.0 192.8 285.2 192.2 285.5 193.1 285.8 192.6 286.0 192.4 286.2 192.7 286.5 194.9 286.8 192.8 287.0 192.4 287.2 191.7 287.5 193.2 287.8 193.9 288.0 193.0 288.2 193.0 288.5 193.0 288.8 193.3 289.0 193.0 289.2 193.5 289.5 193.5 289.8 193.3 290.0 194.3 290.2 192.6 290.5 192.8 290.8 192.5 291.0 192.9 291.2 193.2 291.5 194.3 291.8 193.0 292.0 193.1 292.2 193.3 292.5 192.6 292.8 193.2 293.0 191.8 293.2 193.6 293.5 193.5 293.8 193.6 294.0 194.2 294.2 193.7 294.5 194.1 294.8 193.9 295.0 193.6 295.2 193.8 295.5 194.1 295.8 194.0 296.0 192.6 296.2 192.8 296.5 193.1 296.8 192.9 297.0 193.4 297.2 193.3 297.5 193.3 297.8 194.0 298.0 194.9 298.2 195.0 298.5 195.1 298.8 194.9 299.0 192.2 299.2 194.9 299.5 194.0 299.8 192.9 300.0 193.3 300.2 193.5 300.5 193.3 300.8 194.6 301.0 193.9 301.2 195.4 301.5 195.2 301.8 192.9 302.0 193.8 302.2 194.8 302.5 194.5 302.8 194.2 303.0 194.3 303.2 194.0 303.5 194.0 303.8 194.7 304.0 194.4 304.2 193.8 304.5 193.1 304.8 194.5 305.0 194.3 305.2 192.7 305.5 194.6 305.8 193.7 306.0 194.6 306.2 194.3 306.5 195.0 306.8 193.5 307.0 195.3 307.2 194.2 307.5 195.6 307.8 194.5 308.0 194.2 308.2 193.6 308.5 195.4 308.8 195.1 309.0 194.3 309.2 193.8 309.5 193.6 309.8 193.8 310.0 194.1 310.2 193.6 310.5 193.9 310.8 194.5 311.0 194.0 311.2 194.1 311.5 195.2 311.8 195.5 312.0 194.9 312.2 194.8 312.5 194.6 312.8 194.4 313.0 194.5 313.2 194.8 313.5 193.9 313.8 193.7 314.0 194.0 314.2 194.1 314.5 195.0 314.8 195.3 315.0 194.8 315.2 194.0 315.5 194.0 315.8 193.7 316.0 194.8 316.2 195.2 316.5 194.3 316.8 194.5 317.0 194.9 317.2 194.8 317.5 195.2 317.8 194.7 318.0 194.8 318.2 194.8 318.5 195.7 318.8 194.9 319.0 195.6 319.2 194.8 319.5 195.7 319.8 195.0 320.0 194.3 320.2 194.1 320.5 195.6 320.8 194.3 321.0 194.7 321.2 193.8 321.5 194.9 321.8 194.1 322.0 195.8 322.2 194.3 322.5 195.3 322.8 196.6 323.0 195.9 323.2 195.6 323.5 194.4 323.8 196.0 324.0 196.2 324.2 194.9 324.5 195.0 324.8 194.7 325.0 194.4 325.2 194.9 325.5 195.2 325.8 195.2 326.0 195.6 326.2 195.3 326.5 195.1 326.8 195.8 327.0 194.4 327.2 195.0 327.5 195.3 327.8 195.6 328.0 194.4 328.2 195.9 328.5 194.3 328.8 194.8 329.0 196.0 329.2 193.9 329.5 195.0 329.8 196.1 330.0 195.6 330.2 195.1 330.5 194.9 330.8 195.2 331.0 193.8 331.2 195.8 331.5 194.4 331.8 194.2 332.0 195.3 332.2 195.1 332.5 194.9 332.8 195.2 333.0 195.0 333.2 194.2 333.5 193.9 333.8 195.8 334.0 195.8 334.2 195.3 334.5 196.2 334.8 194.9 335.0 194.8 335.2 195.7 335.5 194.7 335.8 194.7 336.0 195.3 336.2 194.9 336.5 195.5 336.8 195.9 337.0 194.7 337.2 195.4 337.5 195.8 337.8 195.0 338.0 195.4 338.2 196.0 338.5 194.7 338.8 195.7 339.0 196.9 339.2 195.0 339.5 194.2 339.8 194.6 340.0 194.9 340.2 196.0 340.5 195.6 340.8 195.0 341.0 193.7 341.2 194.9 341.5 196.4 341.8 194.2 342.0 195.3 342.2 195.5 342.5 195.7 342.8 195.7 343.0 196.0 343.2 196.3 343.5 195.8 343.8 195.7 344.0 195.2 344.2 195.3 344.5 194.8 344.8 196.2 345.0 193.7 345.2 196.2 345.5 194.6" stroke="#111111" stroke-width="0.5" opacity="0.3"/>
<path d="M23.0 208.7L23.2 211.3 23.5 212.9 23.8 208.0 24.0 207.3 24.2 210.0 24.5 207.4 24.8 208.8 25.0 210.3 25.2 208.0 25.5 209.0 25.8 201.5 26.0 209.2 26.2 206.7 26.5 205.0 26.8 206.9 27.0 204.7 27.2 204.7 27.5 203.0 27.8 206.5 28.0 205.2 28.2 207.0 28.5 210.4 28.8 209.0 29.0 206.1 29.2 209.9 29.5 211.0 29.8 208.5 30.0 208.2 30.2 207.7 30.5 205.6 30.8 209.7 31.0 208.4 31.2 207.4 31.5 207.8 31.8 207.4 32.0 211.4 32.2 207.9 32.5 205.0 32.8 209.3 33.0 211.2 33.2 210.9 33.5 208.9 33.8 206.5 34.0 214.7 34.2 207.9 34.5 210.5 34.8 210.0 35.0 209.0 35.2 209.5 35.5 208.4 35.8 209.2 36.0 210.5 36.2 211.5 36.5 217.1 36.8 210.3 37.0 214.8 37.2 212.7 37.5 211.8 37.8 209.6 38.0 212.4 38.2 210.0 38.5 212.5 38.8 212.6 39.0 209.1 39.2 214.2 39.5 211.2 39.8 211.8 40.0 212.3 40.2 210.8 40.5 213.6 40.8 214.9 41.0 211.6 41.2 213.2 41.5 215.1 41.8 212.6 42.0 211.0 42.2 214.0 42.5 211.7 42.8 211.3 43.0 208.8 43.2 212.7 43.5 210.8 43.8 213.3 44.0 208.7 44.2 211.1 44.5 217.1 44.8 217.9 45.0 215.2 45.2 214.9 45.5 209.2 45.8 214.8 46.0 212.1 46.2 208.8 46.5 211.1 46.8 210.8 47.0 214.3 47.2 213.4 47.5 218.3 47.8 216.5 48.0 213.6 48.2 214.4 48.5 211.1 48.8 215.5 49.0 212.9 49.2 214.1 49.5 214.5 49.8 214.0 50.0 213.1 50.2 215.8 50.5 215.8 50.8 208.7 51.0 212.6 51.2 213.1 51.5 212.1 51.8 213.6 52.0 214.8 52.2 213.3 52.5 212.6 52.8 215.2 53.0 213.9 53.2 214.1 53.5 217.7 53.8 215.5 54.0 211.1 54.2 215.8 54.5 211.5 54.8 213.4 55.0 208.9 55.2 215.0 55.5 209.6 55.8 214.3 56.0 218.0 56.2 215.2 56.5 214.2 56.8 212.1 57.0 213.7 57.2 215.9 57.5 209.2 57.8 211.5 58.0 216.3 58.2 212.7 58.5 216.0 58.8 215.2 59.0 212.0 59.2 213.5 59.5 216.4 59.8 212.6 60.0 213.2 60.2 214.2 60.5 211.5 60.8 212.1 61.0 214.0 61.2 212.9 61.5 213.8 61.8 215.3 62.0 218.1 62.2 214.8 62.5 213.7 62.8 221.3 63.0 217.4 63.2 211.6 63.5 214.4 63.8 211.9 64.0 216.5 64.2 212.4 64.5 213.7 64.8 218.2 65.0 213.3 65.2 214.6 65.5 215.4 65.8 216.8 66.0 216.8 66.2 217.9 66.5 213.5 66.8 216.0 67.0 211.6 67.2 215.0 67.5 214.9 67.8 218.8 68.0 215.8 68.2 214.6 68.5 214.8 68.8 214.0 69.0 215.0 69.2 214.6 69.5 216.2 69.8 215.3 70.0 216.9 70.2 219.0 70.5 215.0 70.8 215.7 71.0 214.6 71.2 221.5 71.5 220.8 71.8 218.5 72.0 217.4 72.2 215.4 72.5 219.1 72.8 217.2 73.0 218.0 73.2 217.1 73.5 211.1 73.8 213.4 74.0 215.6 74.2 217.5 74.5 214.2 74.8 216.2 75.0 214.9 75.2 213.5 75.5 217.0 75.8 213.5 76.0 213.2 76.2 218.8 76.5 218.0 76.8 215.5 77.0 217.3 77.2 213.3 77.5 213.9 77.8 215.1 78.0 214.7 78.2 214.8 78.5 210.6 78.8 214.5 79.0 210.2 79.2 212.1 79.5 217.2 79.8 213.8 80.0 210.7 80.2 212.3 80.5 210.3 80.8 210.3 81.0 209.8 81.2 210.2 81.5 210.8 81.8 211.5 82.0 214.4 82.2 211.2 82.5 211.0 82.8 208.2 83.0 213.0 83.2 210.8 83.5 214.0 83.8 211.6 84.0 215.2 84.2 211.4 84.5 212.5 84.8 213.7 85.0 214.2 85.2 215.8 85.5 216.0 85.8 212.1 86.0 213.9 86.2 214.9 86.5 217.5 86.8 216.0 87.0 217.8 87.2 217.8 87.5 216.7 87.8 212.6 88.0 220.2 88.2 217.6 88.5 215.3 88.8 216.6 89.0 214.6 89.2 215.5 89.5 213.4 89.8 218.8 90.0 214.0 90.2 215.1 90.5 212.5 90.8 215.1 91.0 216.0 91.2 213.3 91.5 210.9 91.8 212.5 92.0 211.4 92.2 213.1 92.5 212.1 92.8 212.1 93.0 211.0 93.2 210.8 93.5 211.6 93.8 214.2 94.0 212.0 94.2 213.2 94.5 211.5 94.8 211.8 95.0 210.4 95.2 212.5 95.5 211.9 95.8 209.2 96.0 211.7 96.2 210.6 96.5 213.0 96.8 212.7 97.0 215.6 97.2 213.4 97.5 211.8 97.8 211.6 98.0 211.3 98.2 210.9 98.5 212.3 98.8 210.2 99.0 211.6 99.2 212.8 99.5 210.1 99.8 211.2 100.0 214.4 100.2 212.2 100.5 210.7 100.8 212.7 101.0 211.4 101.2 210.8 101.5 214.1 101.8 211.3 102.0 212.3 102.2 213.6 102.5 215.8 102.8 216.0 103.0 214.2 103.2 215.5 103.5 215.4 103.8 217.8 104.0 217.0 104.2 215.7 104.5 218.7 104.8 215.3 105.0 217.2 105.2 214.9 105.5 220.3 105.8 218.6 106.0 220.2 106.2 224.2 106.5 220.2 106.8 220.3 107.0 219.0 107.2 220.4 107.5 219.0 107.8 220.6 108.0 220.1 108.2 219.6 108.5 218.7 108.8 218.9 109.0 219.3 109.2 219.1 109.5 220.3 109.8 218.3 110.0 219.2 110.2 220.4 110.5 222.9 110.8 220.7 111.0 220.0 111.2 220.2 111.5 223.3 111.8 219.6 112.0 219.7 112.2 220.4 112.5 219.2 112.8 220.0 113.0 221.4 113.2 220.3 113.5 217.4 113.8 221.1 114.0 221.6 114.2 219.4 114.5 223.3 114.8 220.4 115.0 220.6 115.2 217.9 115.5 224.3 115.8 223.8 116.0 222.7 116.2 223.4 116.5 219.6 116.8 220.3 117.0 222.1 117.2 221.9 117.5 220.0 117.8 222.4 118.0 223.3 118.2 221.7 118.5 224.8 118.8 222.9 119.0 221.6 119.2 220.6 119.5 220.0 119.8 223.4 120.0 219.6 120.2 223.0 120.5 223.4 120.8 220.6 121.0 224.0 121.2 223.2 121.5 226.1 121.8 223.5 122.0 222.0 122.2 222.6 122.5 223.5 122.8 219.5 123.0 219.5 123.2 222.0 123.5 224.2 123.8 219.1 124.0 224.2 124.2 223.2 124.5 224.1 124.8 224.0 125.0 222.4 125.2 222.0 125.5 226.3 125.8 220.1 126.0 222.0 126.2 224.0 126.5 220.7 126.8 221.6 127.0 219.7 127.2 217.7 127.5 219.4 127.8 218.1 128.0 217.0 128.2 219.3 128.5 217.7 128.8 218.7 129.0 217.7 129.2 221.0 129.5 220.1 129.8 219.2 130.0 218.5 130.2 218.7 130.5 219.0 130.8 218.2 131.0 222.3 131.2 218.9 131.5 222.1 131.8 222.2 132.0 220.8 132.2 221.3 132.5 219.4 132.8 221.3 133.0 220.6 133.2 223.3 133.5 221.0 133.8 221.3 134.0 223.6 134.2 220.0 134.5 222.1 134.8 225.3 135.0 223.3 135.2 224.8 135.5 218.6 135.8 222.2 136.0 223.0 136.2 221.0 136.5 224.6 136.8 221.1 137.0 222.7 137.2 224.2 137.5 224.1 137.8 223.8 138.0 223.1 138.2 225.0 138.5 223.8 138.8 227.5 139.0 224.9 139.2 224.3 139.5 227.7 139.8 229.0 140.0 227.0 140.2 225.5 140.5 224.0 140.8 225.3 141.0 227.7 141.2 227.2 141.5 223.5 141.8 226.7 142.0 223.7 142.2 227.4 142.5 229.3 142.8 226.6 143.0 228.6 143.2 226.1 143.5 226.9 143.8 228.8 144.0 229.3 144.2 227.2 144.5 230.2 144.8 228.3 145.0 223.6 145.2 229.4 145.5 229.3 145.8 223.8 146.0 227.9 146.2 229.3 146.5 228.5 146.8 227.1 147.0 226.7 147.2 228.1 147.5 227.5 147.8 228.6 148.0 227.6 148.2 229.4 148.5 225.8 148.8 227.1 149.0 227.1 149.2 226.4 149.5 227.4 149.8 223.8 150.0 226.0 150.2 229.6 150.5 228.0 150.8 227.5 151.0 229.5 151.2 227.8 151.5 226.5 151.8 229.0 152.0 230.3 152.2 228.9 152.5 231.9 152.8 230.0 153.0 229.8 153.2 229.0 153.5 233.0 153.8 233.2 154.0 227.8 154.2 229.4 154.5 228.5 154.8 231.6 155.0 229.8 155.2 231.6 155.5 229.9 155.8 228.4 156.0 232.0 156.2 229.9 156.5 229.6 156.8 228.5 157.0 230.3 157.2 231.6 157.5 229.3 157.8 233.1 158.0 232.3 158.2 230.2 158.5 230.8 158.8 229.6 159.0 231.1 159.2 228.5 159.5 228.3 159.8 233.3 160.0 230.0 160.2 230.8 160.5 228.7 160.8 230.7 161.0 230.0 161.2 227.2 161.5 229.9 161.8 230.6 162.0 230.4 162.2 232.2 162.5 231.8 162.8 229.1 163.0 230.2 163.2 231.0 163.5 231.4 163.8 231.4 164.0 229.3 164.2 231.7 164.5 231.1 164.8 228.5 165.0 228.7 165.2 229.9 165.5 230.7 165.8 229.9 166.0 230.2 166.2 229.5 166.5 230.7 166.8 231.9 167.0 231.7 167.2 228.6 167.5 231.9 167.8 232.3 168.0 229.1 168.2 232.7 168.5 230.2 168.8 228.5 169.0 232.2 169.2 230.1 169.5 229.8 169.8 233.2 170.0 232.5 170.2 230.0 170.5 229.5 170.8 230.4 171.0 231.0 171.2 232.0 171.5 227.3 171.8 231.6 172.0 231.5 172.2 230.7 172.5 231.6 172.8 232.5 173.0 229.2 173.2 229.4 173.5 231.0 173.8 230.9 174.0 231.1 174.2 231.5 174.5 233.8 174.8 230.2 175.0 231.0 175.2 231.8 175.5 230.3 175.8 230.1 176.0 231.1 176.2 231.4 176.5 229.7 176.8 231.7 177.0 231.5 177.2 231.5 177.5 232.4 177.8 229.1 178.0 232.3 178.2 230.7 178.5 231.3 178.8 231.3 179.0 230.5 179.2 232.5 179.5 234.7 179.8 232.2 180.0 233.6 180.2 230.9 180.5 230.9 180.8 231.8 181.0 231.0 181.2 230.8 181.5 232.7 181.8 232.3 182.0 233.0 182.2 232.3 182.5 232.1 182.8 231.9 183.0 233.7 183.2 232.0 183.5 233.7 183.8 233.3 184.0 234.7 184.2 231.4 184.5 233.9 184.8 230.8 185.0 234.0 185.2 233.1 185.5 233.9 185.8 229.8 186.0 234.3 186.2 232.1 186.5 232.1 186.8 230.5 187.0 231.5 187.2 234.4 187.5 235.0 187.8 233.6 188.0 232.2 188.2 234.1 188.5 231.3 188.8 233.2 189.0 232.5 189.2 234.8 189.5 231.2 189.8 232.6 190.0 233.6 190.2 234.0 190.5 231.6 190.8 232.6 191.0 230.6 191.2 234.5 191.5 232.9 191.8 233.0 192.0 232.9 192.2 235.6 192.5 233.5 192.8 232.4 193.0 235.0 193.2 234.3 193.5 233.5 193.8 232.3 194.0 233.6 194.2 234.2 194.5 233.5 194.8 233.6 195.0 235.0 195.2 232.7 195.5 234.7 195.8 233.4 196.0 232.2 196.2 234.8 196.5 234.6 196.8 232.7 197.0 232.8 197.2 235.3 197.5 234.2 197.8 231.9 198.0 233.2 198.2 234.8 198.5 233.5 198.8 235.2 199.0 233.5 199.2 234.5 199.5 233.7 199.8 233.9 200.0 233.9 200.2 233.7 200.5 232.1 200.8 235.2 201.0 233.2 201.2 232.6 201.5 236.1 201.8 233.6 202.0 236.3 202.2 232.1 202.5 235.3 202.8 235.0 203.0 234.3 203.2 236.4 203.5 233.8 203.8 235.2 204.0 234.4 204.2 236.2 204.5 234.0 204.8 235.8 205.0 235.7 205.2 233.1 205.5 239.4 205.8 235.8 206.0 236.0 206.2 236.2 206.5 234.6 206.8 234.3 207.0 232.2 207.2 234.2 207.5 234.8 207.8 235.6 208.0 234.9 208.2 235.3 208.5 235.2 208.8 235.4 209.0 235.4 209.2 235.2 209.5 235.9 209.8 232.8 210.0 234.3 210.2 235.7 210.5 234.8 210.8 233.9 211.0 234.8 211.2 235.1 211.5 235.5 211.8 237.8 212.0 237.1 212.2 234.8 212.5 235.6 212.8 237.6 213.0 234.9 213.2 236.5 213.5 235.4 213.8 234.8 214.0 235.8 214.2 236.2 214.5 237.7 214.8 235.3 215.0 237.8 215.2 235.9 215.5 235.9 215.8 234.8 216.0 233.5 216.2 235.9 216.5 234.9 216.8 236.0 217.0 235.7 217.2 233.9 217.5 235.7 217.8 236.4 218.0 236.4 218.2 236.7 218.5 236.6 218.8 235.5 219.0 236.4 219.2 235.8 219.5 236.4 219.8 236.4 220.0 236.3 220.2 238.5 220.5 235.0 220.8 234.1 221.0 236.7 221.2 235.5 221.5 236.3 221.8 235.8 222.0 236.5 222.2 235.7 222.5 235.6 222.8 238.4 223.0 237.8 223.2 235.3 223.5 236.1 223.8 238.0 224.0 236.9 224.2 235.7 224.5 237.4 224.8 237.8 225.0 236.5 225.2 237.0 225.5 236.2 225.8 238.3 226.0 239.1 226.2 237.0 226.5 236.3 226.8 237.7 227.0 237.0 227.2 236.9 227.5 235.8 227.8 236.0 228.0 235.6 228.2 236.0 228.5 236.7 228.8 236.5 229.0 239.2 229.2 237.0 229.5 236.7 229.8 237.1 230.0 238.2 230.2 238.4 230.5 236.1 230.8 236.2 231.0 236.2 231.2 237.1 231.5 237.4 231.8 239.2 232.0 239.0 232.2 236.7 232.5 235.0 232.8 236.0 233.0 236.7 233.2 237.5 233.5 238.0 233.8 236.1 234.0 238.4 234.2 238.7 234.5 235.4 234.8 236.5 235.0 239.8 235.2 237.4 235.5 237.6 235.8 241.4 236.0 237.8 236.2 237.4 236.5 235.2 236.8 237.4 237.0 238.0 237.2 236.6 237.5 238.9 237.8 236.3 238.0 238.6 238.2 237.4 238.5 236.7 238.8 237.9 239.0 238.9 239.2 238.0 239.5 236.0 239.8 238.3 240.0 237.1 240.2 238.5 240.5 238.5 240.8 237.7 241.0 238.9 241.2 237.2 241.5 239.2 241.8 237.6 242.0 238.8 242.2 238.1 242.5 237.3 242.8 239.3 243.0 236.4 243.2 239.0 243.5 237.6 243.8 238.1 244.0 238.1 244.2 237.5 244.5 238.6 244.8 237.1 245.0 235.4 245.2 238.2 245.5 236.8 245.8 239.2 246.0 238.1 246.2 238.3 246.5 237.2 246.8 239.4 247.0 237.6 247.2 237.2 247.5 236.8 247.8 237.2 248.0 239.2 248.2 238.7 248.5 238.4 248.8 238.1 249.0 238.6 249.2 240.2 249.5 239.2 249.8 239.1 250.0 240.3 250.2 238.4 250.5 238.6 250.8 236.9 251.0 237.8 251.2 237.9 251.5 238.2 251.8 238.7 252.0 237.8 252.2 239.0 252.5 239.7 252.8 238.6 253.0 239.3 253.2 239.9 253.5 238.2 253.8 240.8 254.0 239.1 254.2 239.5 254.5 237.6 254.8 239.3 255.0 239.0 255.2 238.1 255.5 237.2 255.8 238.4 256.0 236.7 256.2 238.9 256.5 239.0 256.8 239.0 257.0 239.5 257.2 238.1 257.5 238.5 257.8 238.9 258.0 238.7 258.2 237.2 258.5 237.9 258.8 237.4 259.0 238.1 259.2 238.2 259.5 239.0 259.8 239.0 260.0 239.4 260.2 238.1 260.5 240.0 260.8 239.4 261.0 241.5 261.2 239.0 261.5 236.4 261.8 240.0 262.0 237.3 262.2 238.4 262.5 238.2 262.8 238.4 263.0 240.1 263.2 239.3 263.5 239.1 263.8 238.3 264.0 238.4 264.2 238.7 264.5 238.8 264.8 238.5 265.0 237.1 265.2 239.1 265.5 238.9 265.8 238.3 266.0 239.6 266.2 239.9 266.5 238.8 266.8 241.4 267.0 238.2 267.2 239.0 267.5 239.3 267.8 239.1 268.0 240.0 268.2 238.4 268.5 238.0 268.8 240.4 269.0 238.5 269.2 238.9 269.5 239.1 269.8 239.2 270.0 238.7 270.2 237.4 270.5 238.0 270.8 238.4 271.0 238.9 271.2 239.7 271.5 237.8 271.8 239.0 272.0 239.0 272.2 239.3 272.5 237.4 272.8 238.1 273.0 238.9 273.2 238.4 273.5 238.7 273.8 238.8 274.0 239.7 274.2 238.1 274.5 238.2 274.8 238.6 275.0 240.2 275.2 238.7 275.5 240.6 275.8 240.3 276.0 239.8 276.2 238.6 276.5 239.6 276.8 239.4 277.0 238.9 277.2 237.9 277.5 238.4 277.8 238.2 278.0 238.3 278.2 239.0 278.5 238.3 278.8 238.1 279.0 240.3 279.2 239.4 279.5 240.7 279.8 239.9 280.0 238.6 280.2 239.4 280.5 239.1 280.8 239.2 281.0 239.4 281.2 238.9 281.5 239.6 281.8 239.7 282.0 237.3 282.2 239.3 282.5 239.3 282.8 238.4 283.0 240.0 283.2 239.0 283.5 239.8 283.8 240.0 284.0 239.9 284.2 238.6 284.5 238.9 284.8 238.8 285.0 238.0 285.2 238.7 285.5 239.5 285.8 237.9 286.0 239.7 286.2 238.4 286.5 238.4 286.8 239.8 287.0 238.8 287.2 240.4 287.5 240.3 287.8 240.0 288.0 239.2 288.2 239.8 288.5 240.9 288.8 241.3 289.0 239.5 289.2 238.5 289.5 239.9 289.8 240.1 290.0 240.2 290.2 240.5 290.5 239.1 290.8 239.0 291.0 238.8 291.2 240.1 291.5 239.5 291.8 240.2 292.0 240.1 292.2 240.3 292.5 239.9 292.8 240.4 293.0 239.9 293.2 240.5 293.5 240.3 293.8 240.4 294.0 240.4 294.2 240.4 294.5 240.1 294.8 240.1 295.0 240.0 295.2 239.1 295.5 240.9 295.8 241.3 296.0 239.1 296.2 241.7 296.5 241.2 296.8 240.6 297.0 240.3 297.2 240.3 297.5 239.8 297.8 239.9 298.0 240.2 298.2 240.8 298.5 239.4 298.8 240.3 299.0 240.1 299.2 240.4 299.5 239.9 299.8 240.4 300.0 240.8 300.2 239.9 300.5 241.1 300.8 240.9 301.0 240.4 301.2 241.4 301.5 240.0 301.8 240.4 302.0 239.7 302.2 239.3 302.5 241.8 302.8 240.3 303.0 239.7 303.2 240.4 303.5 240.6 303.8 239.6 304.0 240.2 304.2 241.4 304.5 240.9 304.8 240.2 305.0 239.3 305.2 241.5 305.5 241.4 305.8 240.3 306.0 240.3 306.2 241.2 306.5 241.5 306.8 241.6 307.0 241.0 307.2 240.7 307.5 240.9 307.8 240.6 308.0 241.2 308.2 241.9 308.5 240.4 308.8 240.0 309.0 240.5 309.2 241.1 309.5 239.7 309.8 240.5 310.0 240.0 310.2 239.8 310.5 241.6 310.8 240.8 311.0 240.4 311.2 240.9 311.5 240.7 311.8 241.0 312.0 241.6 312.2 240.4 312.5 241.6 312.8 240.6 313.0 241.0 313.2 240.0 313.5 240.0 313.8 241.0 314.0 240.8 314.2 240.6 314.5 241.0 314.8 240.2 315.0 241.8 315.2 242.4 315.5 241.1 315.8 241.5 316.0 240.8 316.2 241.5 316.5 240.8 316.8 240.6 317.0 240.9 317.2 240.4 317.5 240.7 317.8 241.2 318.0 240.2 318.2 241.3 318.5 240.6 318.8 241.2 319.0 240.2 319.2 240.2 319.5 241.4 319.8 240.8 320.0 241.3 320.2 242.3 320.5 241.8 320.8 240.9 321.0 242.3 321.2 240.4 321.5 239.5 321.8 242.5 322.0 240.3 322.2 241.3 322.5 240.1 322.8 241.2 323.0 240.8 323.2 242.7 323.5 240.5 323.8 241.8 324.0 241.0 324.2 241.4 324.5 241.0 324.8 240.8 325.0 239.7 325.2 241.1 325.5 239.4 325.8 240.7 326.0 241.4 326.2 240.8 326.5 241.4 326.8 241.9 327.0 241.8 327.2 241.1 327.5 241.0 327.8 241.7 328.0 241.3 328.2 241.0 328.5 240.6 328.8 241.1 329.0 241.2 329.2 240.7 329.5 241.6 329.8 241.5 330.0 240.3 330.2 240.4 330.5 241.7 330.8 241.8 331.0 241.8 331.2 241.3 331.5 241.2 331.8 240.7 332.0 241.5 332.2 240.3 332.5 239.8 332.8 241.2 333.0 241.1 333.2 242.3 333.5 240.7 333.8 240.9 334.0 241.0 334.2 240.9 334.5 242.1 334.8 242.0 335.0 242.4 335.2 241.3 335.5 241.8 335.8 242.4 336.0 241.4 336.2 240.9 336.5 240.1 336.8 241.9 337.0 241.5 337.2 240.5 337.5 241.9 337.8 242.7 338.0 243.1 338.2 241.3 338.5 242.4 338.8 241.9 339.0 242.1 339.2 241.6 339.5 240.2 339.8 242.6 340.0 242.0 340.2 241.5 340.5 241.6 340.8 241.8 341.0 242.2 341.2 242.2 341.5 240.4 341.8 241.5 342.0 241.3 342.2 242.0 342.5 241.4 342.8 241.8 343.0 240.6 343.2 241.6 343.5 241.6 343.8 242.8 344.0 242.8 344.2 243.0 344.5 241.2 344.8 241.6 345.0 241.7 345.2 242.3 345.5 241.7" stroke="#ff4d00" stroke-width="0.5" opacity="0.3"/>
<path d="M23.0 18.1L23.1 18.7 23.2 18.0 23.4 15.9 23.5 18.9 23.6 18.4 23.7 17.2 23.8 18.7 24.0 18.5 24.1 18.5 24.2 18.1 24.3 18.9 24.4 17.4 24.6 18.1 24.7 17.7 24.8 19.1 24.9 18.4 25.0 18.1 25.2 17.4 25.3 18.1 25.4 18.4 25.5 18.0 25.6 20.0 25.8 19.6 25.9 14.8 26.0 15.7 26.1 17.9 26.2 17.6 26.4 18.4 26.5 18.4 26.6 20.8 26.7 16.7 26.8 17.7 27.0 20.8 27.1 19.0 27.2 19.1 27.3 17.6 27.4 16.2 27.6 18.6 27.7 18.5 27.8 16.9 27.9 17.6 28.0 18.5 28.2 17.5 28.3 18.7 28.4 19.0 28.5 18.9 28.6 18.2 28.8 19.6 28.9 20.0 29.0 19.2 29.1 17.8 29.2 19.8 29.4 18.2 29.5 19.9 29.6 17.4 29.7 20.0 29.8 18.9 30.0 17.3 30.1 18.5 30.2 19.0 30.3 19.4 30.4 17.8 30.6 17.7 30.7 19.4 30.8 18.5 30.9 19.4 31.0 20.1 31.2 17.0 31.3 19.3 31.4 20.5 31.5 18.6 31.6 18.0 31.8 20.0 31.9 19.4 32.0 20.3 32.1 18.8 32.2 17.3 32.4 19.2 32.5 18.8 32.6 20.4 32.7 19.6 32.8 17.4 33.0 18.0 33.1 20.6 33.2 20.3 33.3 18.7 33.4 19.6 33.6 20.2 33.7 20.2 33.8 20.8 33.9 20.0 34.0 19.6 34.2 19.4 34.3 21.0 34.4 16.9 34.5 19.5 34.6 19.7 34.8 17.9 34.9 20.0 35.0 18.7 35.1 20.6 35.2 19.5 35.4 20.5 35.5 21.1 35.6 20.2 35.7 18.8 35.8 18.1 36.0 22.3 36.1 20.1 36.2 19.6 36.3 20.7 36.4 20.5 36.6 21.9 36.7 20.9 36.8 21.0 36.9 20.2 37.0 21.6 37.2 19.7 37.3 21.9 37.4 22.9 37.5 19.1 37.6 17.9 37.8 21.7 37.9 24.1 38.0 19.7 38.1 19.5 38.2 21.8 38.4 20.1 38.5 20.6 38.6 20.9 38.7 22.1 38.8 21.1 39.0 22.1 39.1 21.6 39.2 20.9 39.3 21.7 39.4 21.1 39.6 22.4 39.7 21.2 39.8 21.3 39.9 24.5 40.0 22.8 40.2 22.8 40.3 23.4 40.4 22.3 40.5 22.5 40.6 23.2 40.8 23.0 40.9 21.2 41.0 23.6 41.1 21.7 41.2 21.1 41.4 21.3 41.5 21.9 41.6 24.4 41.7 20.9 41.8 22.6 42.0 19.7 42.1 22.3 42.2 23.4 42.3 21.9 42.4 21.4 42.6 22.3 42.7 22.8 42.8 22.8 42.9 24.4 43.0 22.2 43.2 21.2 43.3 21.8 43.4 21.9 43.5 22.0 43.6 21.9 43.8 22.2 43.9 20.0 44.0 23.1 44.1 21.5 44.2 20.9 44.4 23.2 44.5 24.1 44.6 23.1 44.7 22.8 44.8 21.6 45.0 26.3 45.1 24.0 45.2 21.6 45.3 22.1 45.4 23.2 45.6 21.3 45.7 23.4 45.8 22.6 45.9 24.7 46.0 24.4 46.2 19.9 46.3 23.3 46.4 21.3 46.5 24.6 46.6 23.6 46.8 24.1 46.9 22.1 47.0 25.7 47.1 26.0 47.2 22.3 47.4 24.1 47.5 22.9 47.6 23.8 47.7 22.4 47.8 26.2 48.0 22.8 48.1 23.6 48.2 24.6 48.3 23.3 48.4 23.9 48.6 23.7 48.7 24.3 48.8 23.1 48.9 24.2 49.0 24.5 49.2 24.6 49.3 25.2 49.4 24.9 49.5 26.2 49.6 25.0 49.8 25.4 49.9 24.8 50.0 25.0 50.1 24.1 50.2 26.2 50.4 24.2 50.5 24.7 50.6 25.9 50.7 25.9 50.8 24.8 51.0 22.7 51.1 25.5 51.2 25.1 51.3 23.0 51.4 25.4 51.6 23.5 51.7 22.8 51.8 24.2 51.9 23.7 52.0 24.1 52.2 21.9 52.3 26.0 52.4 23.1 52.5 22.0 52.6 24.6 52.8 23.4 52.9 24.3 53.0 23.6 53.1 24.0 53.2 24.5 53.4 23.3 53.5 25.0 53.6 23.6 53.7 23.2 53.8 24.3 54.0 24.8 54.1 24.0 54.2 23.2 54.3 24.9 54.4 22.1 54.6 22.9 54.7 24.1 54.8 22.3 54.9 23.9 55.0 23.7 55.2 24.8 55.3 22.6 55.4 22.9 55.5 23.9 55.6 20.6 55.8 27.1 55.9 22.7 56.0 22.7 56.1 24.7 56.2 23.7 56.4 21.7 56.5 24.7 56.6 25.2 56.7 23.8 56.8 24.2 57.0 25.3 57.1 23.8 57.2 25.4 57.3 25.2 57.4 24.2 57.6 23.4 57.7 24.8 57.8 24.1 57.9 26.2 58.0 25.2 58.2 25.9 58.3 25.1 58.4 25.3 58.5 24.0 58.6 25.6 58.8 27.0 58.9 24.4 59.0 24.0 59.1 24.5 59.2 24.1 59.4 23.8 59.5 24.8 59.6 24.3 59.7 26.3 59.8 24.7 60.0 25.0 60.1 25.7 60.2 24.1 60.3 26.1 60.4 23.6 60.6 23.4 60.7 23.8 60.8 24.1 60.9 22.5 61.0 23.9 61.2 22.0 61.3 25.5 61.4 23.8 61.5 23.0 61.6 22.7 61.8 23.2 61.9 23.3 62.0 22.3 62.1 22.4 62.2 23.2 62.4 22.8 62.5 24.4 62.6 24.6 62.7 23.3 62.8 23.8 63.0 21.7 63.1 24.0 63.2 23.3 63.3 23.9 63.4 25.3 63.6 20.9 63.7 24.0 63.8 22.5 63.9 24.6 64.0 22.5 64.2 23.6 64.3 24.4 64.4 25.0 64.5 24.3 64.6 23.4 64.8 23.6 64.9 25.2 65.0 24.0 65.1 22.0 65.2 24.9 65.4 24.3 65.5 24.7 65.6 23.2 65.7 24.5 65.8 22.2 66.0 24.1 66.1 22.8 66.2 24.1 66.3 24.5 66.4 22.5 66.6 23.3 66.7 23.4 66.8 24.8 66.9 24.3 67.0 22.1 67.2 24.1 67.3 24.4 67.4 26.0 67.5 21.7 67.6 23.0 67.8 25.1 67.9 22.1 68.0 22.3 68.1 24.3 68.2 24.9 68.4 23.0 68.5 24.4 68.6 24.0 68.7 25.7 68.8 24.1 69.0 25.3 69.1 23.2 69.2 24.1 69.3 24.2 69.4 25.7 69.6 25.1 69.7 23.5 69.8 25.2 69.9 25.2 70.0 24.2 70.2 23.9 70.3 23.9 70.4 22.0 70.5 24.0 70.6 24.0 70.8 22.7 70.9 24.5 71.0 22.0 71.1 23.0 71.2 23.1 71.4 25.9 71.5 21.9 71.6 24.4 71.7 24.8 71.8 24.1 72.0 25.0 72.1 22.6 72.2 21.1 72.3 24.5 72.4 22.2 72.6 23.2 72.7 22.2 72.8 24.7 72.9 24.5 73.0 22.7 73.2 24.6 73.3 23.8 73.4 23.6 73.5 24.0 73.6 23.7 73.8 24.7 73.9 24.5 74.0 23.9 74.1 25.5 74.2 23.8 74.4 24.8 74.5 25.0 74.6 26.2 74.7 24.0 74.8 26.4 75.0 24.7 75.1 24.3 75.2 23.7 75.3 25.0 75.4 24.4 75.6 23.1 75.7 23.1 75.8 23.7 75.9 23.6 76.0 25.6 76.2 25.9 76.3 25.4 76.4 24.9 76.5 24.1 76.6 24.7 76.8 25.7 76.9 27.1 77.0 25.7 77.1 24.5 77.2 24.8 77.4 24.3 77.5 24.0 77.6 24.6 77.7 25.0 77.8 26.7 78.0 24.7 78.1 26.1 78.2 26.5 78.3 24.5 78.4 26.2 78.6 25.1 78.7 23.8 78.8 24.6 78.9 24.3 79.0 24.0 79.2 24.0 79.3 24.5 79.4 24.9 79.5 23.5 79.6 24.5 79.8 22.8 79.9 24.8 80.0 25.1 80.1 24.5 80.2 24.6 80.4 24.8 80.5 23.4 80.6 23.7 80.7 24.4 80.8 24.8 81.0 24.1 81.1 26.4 81.2 23.4 81.3 24.6 81.4 24.9 81.6 23.3 81.7 22.6 81.8 22.3 81.9 23.9 82.0 25.0 82.2 24.1 82.3 24.2 82.4 23.6 82.5 24.7 82.6 21.8 82.8 24.5 82.9 24.4 83.0 22.9 83.1 26.8 83.2 22.9 83.4 23.3 83.5 23.1 83.6 25.7 83.7 23.6 83.8 25.2 84.0 25.2 84.1 25.0 84.2 23.4 84.3 24.2 84.4 26.7 84.6 23.6 84.7 24.2 84.8 25.1 84.9 26.2 85.0 25.7 85.2 26.3 85.3 24.3 85.4 26.6 85.5 26.3 85.6 23.9 85.8 27.4 85.9 28.2 86.0 24.8 86.1 25.6 86.2 27.1 86.4 23.9 86.5 23.2 86.6 23.9 86.7 24.6 86.8 24.4 87.0 25.6 87.1 25.1 87.2 23.3 87.3 25.0 87.4 26.3 87.6 25.5 87.7 25.2 87.8 24.2 87.9 25.2 88.0 23.1 88.2 24.9 88.3 24.1 88.4 25.5 88.5 24.9 88.6 23.3 88.8 24.7 88.9 26.0 89.0 23.5 89.1 24.1 89.2 23.9 89.4 23.1 89.5 25.7 89.6 26.2 89.7 25.7 89.8 25.1 90.0 24.8 90.1 25.1 90.2 24.1 90.3 25.8 90.4 26.0 90.6 25.9 90.7 24.3 90.8 24.9 90.9 24.7 91.0 26.8 91.2 25.2 91.3 22.9 91.4 25.4 91.5 27.1 91.6 25.8 91.8 26.0 91.9 25.2 92.0 23.0 92.1 23.2 92.2 23.8 92.4 25.0 92.5 25.6 92.6 26.0 92.7 24.9 92.8 26.2 93.0 25.0 93.1 24.6 93.2 26.3 93.3 24.5 93.4 22.7 93.6 24.7 93.7 26.1 93.8 22.8 93.9 25.8 94.0 26.0 94.2 25.0 94.3 25.1 94.4 26.2 94.5 26.1 94.6 28.0 94.8 27.0 94.9 24.8 95.0 25.5 95.1 27.0 95.2 28.2 95.4 26.5 95.5 26.4 95.6 27.9 95.7 25.9 95.8 25.5 96.0 24.2 96.1 25.1 96.2 27.9 96.3 24.1 96.4 25.6 96.6 24.2 96.7 25.8 96.8 26.6 96.9 25.4 97.0 26.5 97.2 26.4 97.3 26.2 97.4 27.5 97.5 26.5 97.6 25.4 97.8 25.0 97.9 25.0 98.0 26.5 98.1 25.7 98.2 29.1 98.4 28.2 98.5 26.1 98.6 26.0 98.7 28.1 98.8 24.4 99.0 25.8 99.1 27.3 99.2 25.2 99.3 25.7 99.4 25.8 99.6 26.7 99.7 26.2 99.8 26.5 99.9 26.8 100.0 26.3 100.2 27.5 100.3 25.7 100.4 25.0 100.5 24.7 100.6 24.9 100.8 26.0 100.9 27.8 101.0 27.1 101.1 26.3 101.2 25.9 101.4 26.6 101.5 26.8 101.6 26.7 101.7 25.9 101.8 27.0 102.0 28.6 102.1 25.5 102.2 27.6 102.3 25.9 102.4 28.4 102.6 27.6 102.7 26.4 102.8 28.8 102.9 30.7 103.0 29.0 103.2 30.1 103.3 28.9 103.4 26.7 103.5 29.4 103.6 28.3 103.8 27.1 103.9 29.2 104.0 28.5 104.1 27.4 104.2 28.7 104.4 26.7 104.5 28.1 104.6 26.3 104.7 27.6 104.8 25.9 105.0 28.4 105.1 27.1 105.2 28.2 105.3 25.7 105.4 26.0 105.6 27.4 105.7 23.6 105.8 25.3 105.9 27.3 106.0 26.6 106.2 27.2 106.3 25.9 106.4 26.7 106.5 25.5 106.6 24.9 106.8 24.6 106.9 25.9 107.0 25.9 107.1 25.9 107.2 23.0 107.4 24.6 107.5 26.2 107.6 27.1 107.7 26.3 107.8 26.1 108.0 24.7 108.1 29.0 108.2 25.9 108.3 28.6 108.4 28.5 108.6 27.2 108.7 26.4 108.8 27.1 108.9 25.7 109.0 27.2 109.2 26.9 109.3 27.5 109.4 28.0 109.5 28.8 109.6 26.8 109.8 28.3 109.9 26.4 110.0 26.4 110.1 26.7 110.2 26.5 110.4 28.6 110.5 28.6 110.6 29.1 110.7 27.9 110.8 28.2 111.0 27.5 111.1 27.1 111.2 28.8 111.3 28.7 111.4 27.4 111.6 29.1 111.7 26.8 111.8 28.3 111.9 27.9 112.0 27.9 112.2 27.4 112.3 29.4 112.4 28.9 112.5 29.5 112.6 28.3 112.8 26.8 112.9 27.8 113.0 26.9 113.1 28.6 113.2 29.4 113.4 28.6 113.5 27.7 113.6 28.1 113.7 28.7 113.8 27.2 114.0 28.9 114.1 29.1 114.2 28.4 114.3 28.6 114.4 29.2 114.6 28.2 114.7 28.2 114.8 29.8 114.9 29.3 115.0 30.7 115.2 28.0 115.3 27.1 115.4 29.8 115.5 29.7 115.6 28.0 115.8 27.2 115.9 28.6 116.0 27.0 116.1 28.4 116.2 26.6 116.4 28.6 116.5 26.7 116.6 28.6 116.7 30.4 116.8 28.7 117.0 29.8 117.1 28.5 117.2 28.3 117.3 27.8 117.4 30.4 117.6 29.4 117.7 31.2 117.8 28.6 117.9 29.6 118.0 30.0 118.2 31.4 118.3 31.9 118.4 29.5 118.5 29.2 118.6 28.6 118.8 31.7 118.9 30.3 119.0 29.9 119.1 30.5 119.2 28.1 119.4 29.1 119.5 31.7 119.6 31.3 119.7 31.1 119.8 30.0 120.0 31.5 120.1 32.7 120.2 29.8 120.3 31.0 120.4 30.5 120.6 31.2 120.7 30.8 120.8 30.7 120.9 29.9 121.0 30.7 121.2 30.1 121.3 30.5 121.4 30.6 121.5 31.3 121.6 30.0 121.8 30.3 121.9 31.5 122.0 30.2 122.1 30.2 122.2 31.3 122.4 30.8 122.5 30.7 122.6 30.8 122.7 29.5 122.8 31.2 123.0 32.1 123.1 31.4 123.2 29.5 123.3 31.4 123.4 30.3 123.6 31.0 123.7 31.5 123.8 30.2 123.9 32.7 124.0 31.5 124.2 32.4 124.3 32.2 124.4 32.9 124.5 32.8 124.6 30.1 124.8 31.5 124.9 29.4 125.0 30.9 125.1 32.0 125.2 32.1 125.4 32.4 125.5 30.8 125.6 31.5 125.7 31.3 125.8 32.4 126.0 32.7 126.1 30.9 126.2 34.9 126.3 31.4 126.4 31.1 126.6 32.1 126.7 32.3 126.8 32.1 126.9 31.0 127.0 33.0 127.2 31.7 127.3 33.0 127.4 32.8 127.5 30.1 127.6 30.3 127.8 30.3 127.9 31.4 128.0 31.2 128.1 31.3 128.2 30.3 128.4 31.5 128.5 32.5 128.6 30.0 128.7 31.1 128.8 31.6 129.0 31.3 129.1 31.2 129.2 33.2 129.3 32.8 129.4 32.4 129.6 30.9 129.7 33.7 129.8 32.0 129.9 31.1 130.0 31.4 130.2 31.3 130.3 33.8 130.4 32.0 130.5 32.0 130.6 30.1 130.8 33.0 130.9 31.4 131.0 31.5 131.1 33.3 131.2 32.0 131.4 33.8 131.5 34.1 131.6 31.4 131.7 33.0 131.8 31.7 132.0 33.2 132.1 34.1 132.2 32.0 132.3 35.1 132.4 33.2 132.6 32.4 132.7 33.5 132.8 34.4 132.9 32.5 133.0 33.8 133.2 32.6 133.3 35.0 133.4 34.1 133.5 33.6 133.6 35.0 133.8 32.9 133.9 33.7 134.0 35.8 134.1 34.1 134.2 35.4 134.4 34.4 134.5 33.6 134.6 34.2 134.7 34.6 134.8 34.2 135.0 33.9 135.1 33.9 135.2 33.3 135.3 34.8 135.4 35.0 135.6 35.3 135.7 33.0 135.8 35.3 135.9 34.6 136.0 33.3 136.2 34.7 136.3 35.4 136.4 35.2 136.5 35.4 136.6 35.8 136.8 35.8 136.9 35.1 137.0 33.3 137.1 34.6 137.2 35.7 137.4 35.1 137.5 36.2 137.6 36.3 137.7 35.7 137.8 37.5 138.0 34.9 138.1 36.8 138.2 35.7 138.3 35.5 138.4 36.8 138.6 35.8 138.7 37.1 138.8 35.3 138.9 36.4 139.0 35.6 139.2 36.2 139.3 36.0 139.4 35.3 139.5 36.8 139.6 35.0 139.8 35.2 139.9 36.9 140.0 36.9 140.1 36.7 140.2 36.5 140.4 38.3 140.5 35.2 140.6 35.6 140.7 35.4 140.8 37.1 141.0 36.6 141.1 37.4 141.2 37.3 141.3 36.2 141.4 35.7 141.6 35.6 141.7 38.4 141.8 37.3 141.9 37.0 142.0 36.2 142.2 36.4 142.3 36.3 142.4 36.4 142.5 34.5 142.6 36.7 142.8 36.5 142.9 37.1 143.0 37.1 143.1 37.7 143.2 37.0 143.4 37.7 143.5 34.8 143.6 36.2 143.7 38.8 143.8 36.2 144.0 37.1 144.1 38.0 144.2 36.6 144.3 38.2 144.4 36.3 144.6 35.9 144.7 36.4 144.8 36.2 144.9 37.6 145.0 37.4 145.2 37.9 145.3 36.8 145.4 39.9 145.5 37.7 145.6 37.7 145.8 38.2 145.9 37.6 146.0 37.3 146.1 37.8 146.2 38.6 146.4 38.4 146.5 38.6 146.6 37.3 146.7 37.2 146.8 39.6 147.0 37.7 147.1 38.3 147.2 38.5 147.3 39.2 147.4 36.7 147.6 37.5 147.7 37.6 147.8 37.8 147.9 35.9 148.0 38.1 148.2 35.6 148.3 38.4 148.4 38.7 148.5 38.7 148.6 37.2 148.8 39.1 148.9 37.6 149.0 37.3 149.1 37.6 149.2 37.7 149.4 38.7 149.5 39.3 149.6 36.8 149.7 38.2 149.8 39.6 150.0 39.0 150.1 39.3 150.2 37.6 150.3 39.8 150.4 37.7 150.6 39.2 150.7 40.3 150.8 40.7 150.9 39.5 151.0 39.9 151.2 38.6 151.3 38.7 151.4 40.2 151.5 39.2 151.6 39.0 151.8 37.9 151.9 39.3 152.0 39.8 152.1 38.6 152.2 38.9 152.4 40.7 152.5 39.6 152.6 39.3 152.7 38.7 152.8 39.1 153.0 39.5 153.1 40.9 153.2 39.2 153.3 41.3 153.4 39.0 153.6 39.4 153.7 40.4 153.8 39.3 153.9 38.7 154.0 39.2 154.2 39.6 154.3 37.6 154.4 38.8 154.5 38.9 154.6 38.6 154.8 39.5 154.9 38.4 155.0 38.6 155.1 39.0 155.2 39.6 155.4 38.8 155.5 40.3 155.6 38.3 155.7 40.3 155.8 38.5 156.0 39.2 156.1 39.7 156.2 41.2 156.3 40.3 156.4 39.3 156.6 40.8 156.7 39.6 156.8 39.2 156.9 40.3 157.0 40.1 157.2 40.9 157.3 39.6 157.4 40.5 157.5 40.7 157.6 40.4 157.8 40.2 157.9 39.6 158.0 41.0 158.1 40.3 158.2 40.6 158.4 39.9 158.5 40.2 158.6 39.4 158.7 40.4 158.8 41.1 159.0 40.7 159.1 41.5 159.2 41.2 159.3 42.2 159.4 41.1 159.6 40.0 159.7 42.0 159.8 41.6 159.9 41.1 160.0 42.6 160.2 42.3 160.3 42.6 160.4 41.9 160.5 42.4 160.6 42.5 160.8 43.8 160.9 41.7 161.0 42.3 161.1 42.6 161.2 40.8 161.4 40.9 161.5 44.0 161.6 40.6 161.7 42.5 161.8 41.2 162.0 41.3 162.1 40.1 162.2 40.9 162.3 42.2 162.4 40.3 162.6 41.9 162.7 41.6 162.8 43.0 162.9 40.8 163.0 42.2 163.2 41.8 163.3 40.8 163.4 39.7 163.5 42.3 163.6 39.9 163.8 40.6 163.9 41.7 164.0 41.8 164.1 40.3 164.2 41.0 164.4 40.9 164.5 42.1 164.6 43.3 164.7 39.8 164.8 42.1 165.0 39.2 165.1 41.6 165.2 40.8 165.3 43.5 165.4 42.2 165.6 41.5 165.7 41.8 165.8 41.9 165.9 42.6 166.0 42.3 166.2 43.0 166.3 43.8 166.4 43.1 166.5 41.5 166.6 41.2 166.8 41.9 166.9 43.3 167.0 42.1 167.1 41.8 167.2 42.5 167.4 41.1 167.5 41.3 167.6 42.6 167.7 42.0 167.8 41.9 168.0 42.6 168.1 41.9 168.2 41.8 168.3 42.0 168.4 42.9 168.6 42.5 168.7 41.5 168.8 42.2 168.9 43.0 169.0 44.0 169.2 41.4 169.3 42.6 169.4 42.1 169.5 42.9 169.6 42.5 169.8 43.3 169.9 42.5 170.0 41.6 170.1 41.5 170.2 42.3 170.4 42.3 170.5 43.9 170.6 43.2 170.7 40.9 170.8 42.1 171.0 40.7 171.1 40.4 171.2 42.3 171.3 42.1 171.4 40.7 171.6 42.9 171.7 40.8 171.8 40.6 171.9 42.1 172.0 41.9 172.2 41.7 172.3 41.8 172.4 42.2 172.5 42.0 172.6 42.0 172.8 40.7 172.9 41.2 173.0 42.8 173.1 41.8 173.2 42.8 173.4 43.4 173.5 42.1 173.6 42.6 173.7 44.0 173.8 42.9 174.0 43.8 174.1 43.6 174.2 43.0 174.3 42.4 174.4 41.9 174.6 41.7 174.7 43.1 174.8 43.2 174.9 42.8 175.0 43.7 175.2 42.5 175.3 43.9 175.4 43.1 175.5 43.0 175.6 43.0 175.8 42.8 175.9 44.8 176.0 41.6 176.1 42.9 176.2 43.6 176.4 43.1 176.5 42.2 176.6 43.8 176.7 41.6 176.8 41.4 177.0 42.9 177.1 41.3 177.2 40.7 177.3 43.3 177.4 43.3 177.6 43.4 177.7 42.6 177.8 43.3 177.9 42.5 178.0 44.7 178.2 44.0 178.3 44.1 178.4 42.0 178.5 44.3 178.6 44.8 178.8 44.6 178.9 44.3 179.0 43.7 179.1 43.4 179.2 44.2 179.4 44.1 179.5 43.9 179.6 43.5 179.7 45.0 179.8 42.8 180.0 43.7 180.1 43.3 180.2 44.6 180.3 44.8 180.4 44.8 180.6 44.4 180.7 42.8 180.8 45.6 180.9 44.4 181.0 43.8 181.2 43.9 181.3 43.7 181.4 44.3 181.5 44.2 181.6 43.7 181.8 42.0 181.9 44.0 182.0 44.5 182.1 44.6 182.2 44.1 182.4 44.6 182.5 45.0 182.6 43.9 182.7 45.5 182.8 42.9 183.0 43.4 183.1 43.7 183.2 42.5 183.3 43.5 183.4 45.2 183.6 45.1 183.7 44.2 183.8 45.3 183.9 44.0 184.0 43.3 184.2 43.8 184.3 43.4 184.4 43.9 184.5 42.1 184.6 44.0 184.8 42.8 184.9 43.8 185.0 41.9 185.1 42.9 185.2 43.2 185.4 44.0 185.5 42.4 185.6 44.6 185.7 43.8 185.8 43.1 186.0 44.5 186.1 43.8 186.2 44.6 186.3 45.6 186.4 44.5 186.6 43.6 186.7 43.7 186.8 44.5 186.9 44.3 187.0 43.4 187.2 43.6 187.3 44.6 187.4 45.9 187.5 42.2 187.6 44.7 187.8 44.1 187.9 44.8 188.0 45.0 188.1 44.4 188.2 43.6 188.4 43.4 188.5 43.1 188.6 45.4 188.7 44.4 188.8 44.1 189.0 44.4 189.1 43.7 189.2 44.9 189.3 45.7 189.4 45.6 189.6 43.5 189.7 45.7 189.8 44.1 189.9 43.2 190.0 43.8 190.2 43.9 190.3 44.6 190.4 43.8 190.5 43.5 190.6 44.4 190.8 46.0 190.9 44.1 191.0 44.9 191.1 44.7 191.2 46.6 191.4 43.3 191.5 45.5 191.6 43.8 191.7 44.3 191.8 44.7 192.0 47.1 192.1 44.2 192.2 43.4 192.3 45.7 192.4 44.2 192.6 44.6 192.7 44.7 192.8 44.8 192.9 44.6 193.0 44.9 193.2 45.0 193.3 45.4 193.4 44.5 193.5 44.2 193.6 44.0 193.8 45.2 193.9 44.7 194.0 45.1 194.1 45.1 194.2 45.9 194.4 44.8 194.5 45.2 194.6 43.8 194.7 43.9 194.8 44.4 195.0 43.7 195.1 45.1 195.2 43.7 195.3 44.6 195.4 42.8 195.6 43.7 195.7 44.2 195.8 44.2 195.9 43.1 196.0 44.5 196.2 45.0 196.3 44.8 196.4 43.8 196.5 43.9 196.6 43.5 196.8 44.8 196.9 45.5 197.0 44.1 197.1 43.3 197.2 44.8 197.4 45.2 197.5 42.9 197.6 45.0 197.7 46.6 197.8 45.7 198.0 45.6 198.1 45.6 198.2 46.1 198.3 44.7 198.4 44.8 198.6 45.7 198.7 45.0 198.8 45.7 198.9 44.2 199.0 46.1 199.2 46.2 199.3 45.6 199.4 45.8 199.5 46.9 199.6 44.9 199.8 45.0 199.9 44.9 200.0 45.4 200.1 44.9 200.2 45.6 200.4 45.1 200.5 44.5 200.6 44.4 200.7 46.2 200.8 45.3 201.0 45.1 201.1 45.2 201.2 45.2 201.3 45.8 201.4 45.7 201.6 44.9 201.7 44.9 201.8 44.8 201.9 44.7 202.0 46.7 202.2 45.1 202.3 44.4 202.4 45.2 202.5 45.3 202.6 46.1 202.8 45.2 202.9 46.2 203.0 46.1 203.1 46.7 203.2 47.3 203.4 47.8 203.5 46.7 203.6 45.0 203.7 45.5 203.8 45.9 204.0 47.2 204.1 46.3 204.2 46.6 204.3 45.6 204.4 46.1 204.6 46.1 204.7 45.3 204.8 46.2 204.9 46.3 205.0 45.5 205.2 46.3 205.3 46.8 205.4 45.7 205.5 45.6 205.6 45.5 205.8 45.3 205.9 45.9 206.0 45.6 206.1 45.7 206.2 45.4 206.4 44.9 206.5 45.4 206.6 46.4 206.7 45.4 206.8 45.9 207.0 47.5 207.1 47.2 207.2 46.0 207.3 46.9 207.4 46.1 207.6 47.7 207.7 46.1 207.8 46.6 207.9 47.4 208.0 45.9 208.2 47.3 208.3 45.7 208.4 46.3 208.5 45.9 208.6 45.9 208.8 46.0 208.9 45.8 209.0 45.0 209.1 46.3 209.2 46.2 209.4 46.5 209.5 46.5 209.6 44.7 209.7 46.5 209.8 46.6 210.0 45.4 210.1 46.5 210.2 46.9 210.3 45.6 210.4 45.1 210.6 45.8 210.7 48.0 210.8 46.3 210.9 45.3 211.0 46.0 211.2 45.5 211.3 45.9 211.4 46.2 211.5 44.5 211.6 46.4 211.8 47.1 211.9 46.1 212.0 45.9 212.1 46.9 212.2 45.4 212.4 45.4 212.5 45.3 212.6 46.2 212.7 46.5 212.8 46.3 213.0 46.7 213.1 46.9 213.2 46.6 213.3 45.8 213.4 46.2 213.6 47.2 213.7 45.6 213.8 46.1 213.9 46.0 214.0 46.1 214.2 45.5 214.3 45.3 214.4 47.9 214.5 46.8 214.6 45.7 214.8 46.1 214.9 46.6 215.0 45.9 215.1 46.5 215.2 45.7 215.4 45.9 215.5 46.1 215.6 45.9 215.7 44.6 215.8 46.2 216.0 46.4 216.1 46.5 216.2 45.6 216.3 46.4 216.4 46.4 216.6 45.1 216.7 44.8 216.8 46.5 216.9 45.6 217.0 47.0 217.2 47.8 217.3 46.0 217.4 46.0 217.5 46.5 217.6 47.0 217.8 45.9 217.9 47.5 218.0 47.3 218.1 47.2 218.2 46.4 218.4 47.4 218.5 47.3 218.6 46.0 218.7 48.2 218.8 46.7 219.0 47.2 219.1 46.6 219.2 47.3 219.3 47.8 219.4 46.6 219.6 46.0 219.7 46.9 219.8 46.4 219.9 46.8 220.0 47.2 220.2 47.3 220.3 48.2 220.4 46.7 220.5 47.6 220.6 47.0 220.8 48.3 220.9 49.0 221.0 47.5 221.1 48.4 221.2 46.9 221.4 46.2 221.5 46.3 221.6 46.1 221.7 46.4 221.8 46.9 222.0 47.7 222.1 47.3 222.2 47.1 222.3 46.4 222.4 46.2 222.6 46.6 222.7 46.5 222.8 46.6 222.9 46.6 223.0 46.3 223.2 45.1 223.3 45.6 223.4 45.8 223.5 47.5 223.6 46.2 223.8 46.9 223.9 47.4 224.0 46.7 224.1 46.3 224.2 46.4 224.4 46.0 224.5 46.9 224.6 47.5 224.7 47.3 224.8 47.6 225.0 47.7 225.1 48.6 225.2 47.0 225.3 47.6 225.4 48.1 225.6 48.5 225.7 46.3 225.8 47.5 225.9 47.8 226.0 47.3 226.2 48.5 226.3 48.2 226.4 47.8 226.5 47.1 226.6 47.2 226.8 47.4 226.9 48.3 227.0 47.1 227.1 46.6 227.2 47.0 227.4 47.5 227.5 48.8 227.6 49.3 227.7 47.5 227.8 48.3 228.0 48.6 228.1 48.5 228.2 47.6 228.3 46.9 228.4 47.4 228.6 46.5 228.7 47.8 228.8 48.1 228.9 46.5 229.0 47.7 229.2 47.9 229.3 48.5 229.4 48.5 229.5 48.2 229.6 47.2 229.8 47.4 229.9 48.3 230.0 47.1 230.1 47.5 230.2 48.4 230.4 47.5 230.5 46.6 230.6 47.2 230.7 47.8 230.8 47.3 231.0 48.0 231.1 48.1 231.2 46.8 231.3 47.0 231.4 47.2 231.6 46.5 231.7 47.5 231.8 47.3 231.9 47.9 232.0 47.2 232.2 47.0 232.3 48.7 232.4 47.2 232.5 47.4 232.6 47.4 232.8 47.7 232.9 47.4 233.0 48.0 233.1 47.6 233.2 47.7 233.4 48.2 233.5 48.4 233.6 48.3 233.7 47.6 233.8 48.3 234.0 48.0 234.1 48.0 234.2 47.0 234.3 48.4 234.4 47.9 234.6 49.0 234.7 48.3 234.8 47.2 234.9 47.1 235.0 48.5 235.2 47.3 235.3 48.2 235.4 47.6 235.5 49.0 235.6 47.9 235.8 48.8 235.9 48.7 236.0 47.7 236.1 47.9 236.2 49.0 236.4 48.2 236.5 47.7 236.6 49.0 236.7 49.8 236.8 48.3 237.0 49.1 237.1 48.2 237.2 49.1 237.3 48.1 237.4 49.0 237.6 48.5 237.7 48.0 237.8 48.2 237.9 47.7 238.0 47.4 238.2 47.4 238.3 48.0 238.4 47.5 238.5 48.4 238.6 48.5 238.8 48.5 238.9 48.1 239.0 48.5 239.1 48.4 239.2 49.3 239.4 48.1 239.5 48.4 239.6 48.5 239.7 48.6 239.8 48.2 240.0 48.3 240.1 49.2 240.2 48.3 240.3 49.1 240.4 49.8 240.6 49.3 240.7 47.4 240.8 48.9 240.9 48.7 241.0 48.7 241.2 47.4 241.3 48.8 241.4 47.8 241.5 49.1 241.6 49.0 241.8 49.9 241.9 48.3 242.0 47.7 242.1 49.2 242.2 49.1 242.4 48.4 242.5 49.4 242.6 49.0 242.7 47.9 242.8 48.4 243.0 48.3 243.1 48.4 243.2 48.6 243.3 48.0 243.4 48.2 243.6 48.6 243.7 48.2 243.8 48.1 243.9 48.1 244.0 48.2 244.2 47.2 244.3 48.4 244.4 47.8 244.5 48.5 244.6 47.7 244.8 49.1 244.9 48.9 245.0 48.1 245.1 49.1 245.2 48.6 245.4 50.1 245.5 49.4 245.6 48.7 245.7 49.3 245.8 49.2 246.0 49.8 246.1 49.3 246.2 49.3 246.3 48.3 246.4 49.3 246.6 49.9 246.7 49.0 246.8 48.6 246.9 48.6 247.0 47.9 247.2 48.5 247.3 47.7 247.4 48.4 247.5 48.2 247.6 48.0 247.8 48.9 247.9 47.8 248.0 48.7 248.1 48.1 248.2 49.9 248.4 50.0 248.5 49.5 248.6 50.1 248.7 49.4 248.8 49.4 249.0 48.9 249.1 48.6 249.2 49.2 249.3 48.8 249.4 48.9 249.6 49.5 249.7 49.0 249.8 48.3 249.9 49.0 250.0 48.7 250.2 49.0 250.3 48.5 250.4 49.8 250.5 50.1 250.6 48.4 250.8 49.3 250.9 49.3 251.0 48.3 251.1 48.9 251.2 49.6 251.4 49.2 251.5 49.6 251.6 48.1 251.7 48.3 251.8 48.9 252.0 48.9 252.1 48.7 252.2 48.6 252.3 48.6 252.4 48.5 252.6 49.0 252.7 47.4 252.8 49.7 252.9 48.5 253.0 48.0 253.2 49.1 253.3 48.1 253.4 49.1 253.5 48.7 253.6 49.2 253.8 49.4 253.9 49.7 254.0 48.8 254.1 49.0 254.2 49.1 254.4 48.4 254.5 49.5 254.6 49.4 254.7 48.6 254.8 50.0 255.0 50.1 255.1 48.8 255.2 49.8 255.3 50.1 255.4 50.0 255.6 49.0 255.7 48.8 255.8 49.5 255.9 49.3 256.0 49.6 256.2 49.6 256.3 49.9 256.4 49.3 256.5 49.5 256.6 51.1 256.8 49.4 256.9 49.8 257.0 49.4 257.1 49.3 257.2 48.6 257.4 49.2 257.5 48.9 257.6 49.2 257.7 49.8 257.8 48.8 258.0 49.1 258.1 48.2 258.2 48.7 258.3 49.5 258.4 48.6 258.6 48.4 258.7 48.8 258.8 48.7 258.9 48.7 259.0 48.7 259.2 49.9 259.3 48.5 259.4 48.8 259.5 48.7 259.6 49.7 259.8 48.9 259.9 49.8 260.0 49.2 260.1 49.1 260.2 48.4 260.4 49.7 260.5 49.3 260.6 49.3 260.7 49.0 260.8 48.8 261.0 48.4 261.1 49.5 261.2 49.1 261.3 48.8 261.4 48.6 261.6 49.0 261.7 48.9 261.8 49.8 261.9 49.3 262.0 48.6 262.2 48.4 262.3 48.9 262.4 48.6 262.5 49.1 262.6 49.3 262.8 49.5 262.9 49.4 263.0 49.2 263.1 49.7 263.2 49.1 263.4 49.6 263.5 50.1 263.6 49.9 263.7 49.2 263.8 49.3 264.0 49.1 264.1 50.8 264.2 49.1 264.3 49.8 264.4 50.7 264.6 50.3 264.7 50.4 264.8 49.4 264.9 49.9 265.0 51.0 265.2 49.4 265.3 49.6 265.4 49.2 265.5 49.3 265.6 49.5 265.8 50.0 265.9 48.9 266.0 48.6 266.1 49.3 266.2 49.4 266.4 50.0 266.5 49.7 266.6 49.1 266.7 49.7 266.8 50.0 267.0 49.7 267.1 49.4 267.2 50.0 267.3 49.5 267.4 48.8 267.6 50.4 267.7 49.2 267.8 49.7 267.9 49.7 268.0 49.7 268.2 49.7 268.3 49.2 268.4 50.1 268.5 49.8 268.6 49.8 268.8 50.3 268.9 50.3 269.0 50.4 269.1 50.7 269.2 50.0 269.4 49.1 269.5 49.9 269.6 49.8 269.7 49.8 269.8 49.5 270.0 49.3 270.1 50.1 270.2 50.2 270.3 49.2 270.4 50.0 270.6 49.7 270.7 49.6 270.8 50.1 270.9 49.8 271.0 49.6 271.2 49.9 271.3 49.0 271.4 49.7 271.5 49.8 271.6 49.4 271.8 50.1 271.9 50.2 272.0 49.7 272.1 49.9 272.2 50.3 272.4 50.4 272.5 49.5 272.6 49.9 272.7 50.2 272.8 49.7 273.0 49.3 273.1 49.3 273.2 49.6 273.3 49.2 273.4 50.7 273.6 49.4 273.7 49.9 273.8 49.8 273.9 50.0 274.0 49.5 274.2 49.1 274.3 50.5 274.4 49.7 274.5 49.8 274.6 49.8 274.8 50.3 274.9 50.1 275.0 50.3 275.1 50.1 275.2 49.8 275.4 49.9 275.5 49.4 275.6 48.9 275.7 49.7 275.8 49.3 276.0 51.0 276.1 50.6 276.2 50.4 276.3 49.7 276.4 50.9 276.6 49.2 276.7 49.5 276.8 49.8 276.9 49.8 277.0 50.3 277.2 50.4 277.3 51.2 277.4 50.8 277.5 50.9 277.6 50.6 277.8 50.3 277.9 50.0 278.0 49.6 278.1 49.9 278.2 50.0 278.4 50.5 278.5 49.3 278.6 49.5 278.7 50.2 278.8 49.6 279.0 50.2 279.1 49.8 279.2 49.7 279.3 49.4 279.4 49.9 279.6 49.6 279.7 49.6 279.8 49.6 279.9 50.0 280.0 50.0 280.2 49.2 280.3 49.9 280.4 50.2 280.5 50.4 280.6 50.3 280.8 50.1 280.9 49.5 281.0 49.7 281.1 50.5 281.2 49.7 281.4 50.5 281.5 50.6 281.6 49.6 281.7 50.2 281.8 50.0 282.0 50.9 282.1 50.4 282.2 49.7 282.3 50.1 282.4 49.5 282.6 49.9 282.7 50.0 282.8 50.0 282.9 50.1 283.0 49.6 283.2 49.2 283.3 49.9 283.4 49.7 283.5 49.8 283.6 51.0 283.8 50.6 283.9 50.1 284.0 49.6 284.1 49.7 284.2 50.4 284.4 50.7 284.5 50.2 284.6 50.4 284.7 50.5 284.8 50.9 285.0 49.6 285.1 50.5 285.2 50.6 285.3 50.9 285.4 50.6 285.6 50.0 285.7 50.2 285.8 49.9 285.9 50.6 286.0 50.6 286.2 50.8 286.3 50.2 286.4 50.2 286.5 51.3 286.6 50.8 286.8 51.5 286.9 51.0 287.0 50.2 287.1 51.2 287.2 51.3 287.4 50.6 287.5 50.0 287.6 51.0 287.7 50.6 287.8 50.7 288.0 49.5 288.1 50.7 288.2 49.3 288.3 50.1 288.4 50.8 288.6 49.6 288.7 49.6 288.8 50.2 288.9 51.1 289.0 51.1 289.2 50.3 289.3 51.0 289.4 50.9 289.5 50.8 289.6 50.9 289.8 50.5 289.9 51.2 290.0 51.3 290.1 52.0 290.2 51.3 290.4 49.9 290.5 50.3 290.6 50.9 290.7 50.7 290.8 49.9 291.0 50.6 291.1 50.4 291.2 50.5 291.3 50.4 291.4 50.9 291.6 51.1 291.7 50.8 291.8 50.1 291.9 50.2 292.0 50.3 292.2 50.6 292.3 50.5 292.4 50.5 292.5 50.3 292.6 51.0 292.8 51.0 292.9 51.1 293.0 50.7 293.1 50.9 293.2 50.4 293.4 50.3 293.5 50.5 293.6 51.0 293.7 50.7 293.8 50.3 294.0 50.8 294.1 50.9 294.2 50.9 294.3 50.5 294.4 50.8 294.6 50.6 294.7 50.6 294.8 50.7 294.9 51.0 295.0 51.4 295.2 51.3 295.3 50.9 295.4 50.5 295.5 50.5 295.6 50.6 295.8 51.1 295.9 49.6 296.0 50.7 296.1 49.9 296.2 50.6 296.4 51.2 296.5 50.3 296.6 49.8 296.7 51.2 296.8 51.3 297.0 51.0 297.1 51.3 297.2 50.5 297.3 51.3 297.4 51.5 297.6 51.2 297.7 51.1 297.8 51.5 297.9 51.4 298.0 50.7 298.2 51.5 298.3 51.3 298.4 51.1 298.5 51.5 298.6 51.3 298.8 51.2 298.9 50.7 299.0 51.2 299.1 50.5 299.2 50.8 299.4 50.2 299.5 50.2 299.6 51.1 299.7 50.9 299.8 51.0 300.0 51.3 300.1 51.2 300.2 50.8 300.3 51.2 300.4 51.2 300.6 51.0 300.7 51.2 300.8 51.1 300.9 51.0 301.0 51.2 301.2 51.4 301.3 52.2 301.4 51.1 301.5 51.6 301.6 50.9 301.8 52.0 301.9 51.3 302.0 51.5 302.1 51.9 302.2 51.8 302.4 50.9 302.5 51.7 302.6 51.4 302.7 51.7 302.8 51.5 303.0 51.7 303.1 51.6 303.2 51.4 303.3 52.0 303.4 50.9 303.6 51.4 303.7 51.2 303.8 51.5 303.9 51.4 304.0 51.6 304.2 51.4 304.3 51.4 304.4 50.9 304.5 51.5 304.6 51.6 304.8 51.2 304.9 51.2 305.0 51.2 305.1 52.1 305.2 51.5 305.4 51.6 305.5 51.3 305.6 51.3 305.7 51.2 305.8 52.2 306.0 50.9 306.1 51.7 306.2 51.6 306.3 51.5 306.4 51.0 306.6 51.1 306.7 52.0 306.8 51.3 306.9 51.9 307.0 51.8 307.2 51.8 307.3 51.9 307.4 51.1 307.5 51.4 307.6 51.9 307.8 51.2 307.9 52.3 308.0 51.5 308.1 51.7 308.2 51.3 308.4 51.9 308.5 51.5 308.6 51.7 308.7 51.3 308.8 52.2 309.0 51.1 309.1 51.9 309.2 51.8 309.3 51.9 309.4 51.3 309.6 52.2 309.7 52.1 309.8 51.8 309.9 51.9 310.0 51.7 310.2 52.0 310.3 51.5 310.4 52.0 310.5 51.9 310.6 51.2 310.8 50.7 310.9 51.7 311.0 51.7 311.1 52.2 311.2 51.7 311.4 51.5 311.5 51.2 311.6 51.7 311.7 51.6 311.8 51.4 312.0 51.8 312.1 52.3 312.2 52.0 312.3 51.6 312.4 52.2 312.6 51.7 312.7 51.5 312.8 52.4 312.9 52.0 313.0 52.7 313.2 52.4 313.3 51.9 313.4 52.3 313.5 52.7 313.6 52.1 313.8 51.7 313.9 51.8 314.0 51.7 314.1 51.5 314.2 51.5 314.4 52.1 314.5 52.3 314.6 51.8 314.7 52.2 314.8 52.3 315.0 52.6 315.1 51.9 315.2 51.9 315.3 52.2 315.4 52.1 315.6 52.2 315.7 52.6 315.8 52.0 315.9 52.2 316.0 51.7 316.2 52.0 316.3 51.8 316.4 51.7 316.5 51.9 316.6 51.7 316.8 52.0 316.9 52.1 317.0 51.2 317.1 52.2 317.2 50.9 317.4 51.9 317.5 52.0 317.6 51.5 317.7 51.6 317.8 51.4 318.0 52.0 318.1 50.4 318.2 51.2 318.3 50.9 318.4 51.7 318.6 52.2 318.7 52.1 318.8 52.0 318.9 51.8 319.0 51.4 319.2 52.2 319.3 52.0 319.4 51.5 319.5 51.3 319.6 51.5 319.8 52.2 319.9 52.3 320.0 52.4 320.1 51.5 320.2 51.6 320.4 52.3 320.5 51.9 320.6 52.1 320.7 51.2 320.8 51.6 321.0 51.7 321.1 51.6 321.2 51.6 321.3 51.2 321.4 52.5 321.6 51.9 321.7 51.3 321.8 52.3 321.9 51.9 322.0 52.2 322.2 51.8 322.3 51.7 322.4 51.7 322.5 52.2 322.6 52.4 322.8 52.4 322.9 52.5 323.0 52.8 323.1 52.5 323.2 52.8 323.4 52.8 323.5 52.6 323.6 52.4 323.7 52.3 323.8 52.0 324.0 51.8 324.1 52.9 324.2 52.3 324.3 52.1 324.4 52.9 324.6 52.6 324.7 52.2 324.8 52.6 324.9 52.1 325.0 52.3 325.2 52.8 325.3 52.5 325.4 52.0 325.5 52.4 325.6 52.6 325.8 52.1 325.9 52.0 326.0 52.8 326.1 52.0 326.2 51.5 326.4 52.0 326.5 52.8 326.6 52.1 326.7 52.2 326.8 51.0 327.0 51.6 327.1 52.3 327.2 51.7 327.3 52.3 327.4 52.0 327.6 52.0 327.7 52.5 327.8 51.7 327.9 51.7 328.0 51.9 328.2 51.9 328.3 51.2 328.4 52.3 328.5 51.9 328.6 51.8 328.8 52.1 328.9 51.7 329.0 52.4 329.1 51.9 329.2 52.2 329.4 51.6 329.5 51.9 329.6 52.2 329.7 51.7 329.8 51.9 330.0 52.2 330.1 52.7 330.2 52.6 330.3 52.7 330.4 52.5 330.6 52.8 330.7 53.1 330.8 52.6 330.9 52.7 331.0 52.7 331.2 51.8 331.3 52.5 331.4 52.7 331.5 52.8 331.6 52.4 331.8 52.9 331.9 52.3 332.0 52.4 332.1 53.1 332.2 52.0 332.4 52.4 332.5 52.4 332.6 52.4 332.7 52.2 332.8 52.6 333.0 52.0 333.1 51.9 333.2 52.6 333.3 52.0 333.4 52.7 333.6 52.6 333.7 52.4 333.8 52.5 333.9 52.6 334.0 52.9 334.2 52.5 334.3 52.7 334.4 52.3 334.5 52.7 334.6 52.1 334.8 52.8 334.9 52.7 335.0 53.6 335.1 53.3 335.2 52.7 335.4 53.1 335.5 52.8 335.6 52.2 335.7 51.7 335.8 53.0 336.0 52.7 336.1 51.8 336.2 52.8 336.3 52.9 336.4 52.2 336.6 52.8 336.7 51.8 336.8 52.4 336.9 52.5 337.0 52.8 337.2 52.6 337.3 52.5 337.4 52.7 337.5 52.2 337.6 53.1 337.8 52.4 337.9 52.8 338.0 52.5 338.1 52.4 338.2 52.7 338.4 52.6 338.5 53.0 338.6 52.9 338.7 52.2 338.8 52.6 339.0 52.5 339.1 52.1 339.2 52.0 339.3 52.5 339.4 52.2 339.6 51.8 339.7 52.3 339.8 52.5 339.9 52.4 340.0 52.0 340.2 52.2 340.3 53.0 340.4 52.2 340.5 52.3 340.6 53.3 340.8 52.6 340.9 52.2 341.0 51.7 341.1 52.5 341.2 51.9 341.4 52.4 341.5 52.1 341.6 51.7 341.7 53.0 341.8 52.3 342.0 52.7 342.1 52.7 342.2 52.1 342.3 52.4 342.4 52.3 342.6 52.8 342.7 52.6 342.8 52.2 342.9 53.0 343.0 52.6 343.2 52.6 343.3 52.2 343.4 52.7 343.5 52.0 343.6 52.8 343.8 52.3 343.9 52.8 344.0 52.6 344.1 52.9 344.2 52.9 344.4 52.8 344.5 52.8 344.6 52.3 344.7 52.1 344.8 53.3 345.0 53.0 345.1 52.2 345.2 53.5 345.3 52.4 345.4 52.9 345.6 52.9" stroke="#00eef2"/>
<path d="M23.0 62.9L23.1 62.0 23.2 62.2 23.4 59.7 23.5 65.3 23.6 64.6 23.7 62.8 23.8 64.4 24.0 64.0 24.1 63.1 24.2 65.2 24.3 63.6 24.4 63.6 24.6 63.1 24.7 64.7 24.8 64.0 24.9 64.9 25.0 63.4 25.2 64.3 25.3 63.0 25.4 65.2 25.5 64.3 25.6 64.5 25.8 64.6 25.9 62.8 26.0 65.0 26.1 66.7 26.2 62.1 26.4 62.1 26.5 62.4 26.6 65.5 26.7 64.7 26.8 66.1 27.0 65.7 27.1 65.1 27.2 65.2 27.3 64.6 27.4 65.9 27.6 63.4 27.7 64.4 27.8 65.2 27.9 67.2 28.0 64.0 28.2 63.6 28.3 64.3 28.4 66.3 28.5 64.8 28.6 66.9 28.8 62.9 28.9 66.6 29.0 66.3 29.1 63.1 29.2 65.0 29.4 66.2 29.5 64.7 29.6 65.9 29.7 67.6 29.8 64.8 30.0 64.1 30.1 63.5 30.2 65.4 30.3 64.4 30.4 64.5 30.6 64.8 30.7 65.9 30.8 63.8 30.9 63.4 31.0 62.4 31.2 67.0 31.3 65.7 31.4 67.5 31.5 65.8 31.6 65.0 31.8 66.5 31.9 65.9 32.0 64.5 32.1 65.0 32.2 68.4 32.4 66.7 32.5 66.8 32.6 65.9 32.7 65.3 32.8 67.2 33.0 65.8 33.1 64.9 33.2 65.5 33.3 64.5 33.4 65.9 33.6 66.9 33.7 64.4 33.8 67.3 33.9 64.7 34.0 65.8 34.2 64.6 34.3 65.4 34.4 65.8 34.5 65.3 34.6 64.9 34.8 64.9 34.9 64.8 35.0 63.9 35.1 65.6 35.2 66.4 35.4 67.0 35.5 66.7 35.6 69.0 35.7 66.4 35.8 65.5 36.0 68.5 36.1 64.9 36.2 67.5 36.3 65.2 36.4 66.9 36.6 64.1 36.7 67.7 36.8 66.4 36.9 65.5 37.0 68.8 37.2 67.7 37.3 66.9 37.4 66.1 37.5 67.0 37.6 66.9 37.8 68.1 37.9 68.4 38.0 66.7 38.1 67.0 38.2 67.1 38.4 66.2 38.5 67.2 38.6 67.9 38.7 68.9 38.8 69.7 39.0 67.0 39.1 68.7 39.2 67.4 39.3 70.5 39.4 67.9 39.6 68.5 39.7 66.7 39.8 66.9 39.9 68.2 40.0 67.4 40.2 68.3 40.3 65.9 40.4 68.5 40.5 66.6 40.6 69.6 40.8 67.1 40.9 68.7 41.0 65.5 41.1 67.7 41.2 66.1 41.4 66.6 41.5 67.3 41.6 66.9 41.7 67.7 41.8 68.4 42.0 68.5 42.1 67.6 42.2 66.1 42.3 66.8 42.4 67.6 42.6 65.3 42.7 68.8 42.8 67.5 42.9 67.3 43.0 68.8 43.2 68.3 43.3 67.8 43.4 66.2 43.5 67.8 43.6 67.8 43.8 66.3 43.9 68.6 44.0 67.9 44.1 64.9 44.2 67.5 44.4 65.9 44.5 68.9 44.6 68.6 44.7 66.4 44.8 66.7 45.0 67.9 45.1 67.6 45.2 69.7 45.3 68.8 45.4 67.7 45.6 68.7 45.7 65.6 45.8 68.4 45.9 69.1 46.0 67.8 46.2 67.1 46.3 68.7 46.4 70.3 46.5 68.3 46.6 66.8 46.8 69.8 46.9 66.0 47.0 68.8 47.1 67.6 47.2 69.6 47.4 67.6 47.5 70.3 47.6 69.1 47.7 66.8 47.8 66.7 48.0 68.8 48.1 70.8 48.2 69.5 48.3 69.4 48.4 69.1 48.6 70.4 48.7 70.0 48.8 69.9 48.9 68.5 49.0 71.2 49.2 71.4 49.3 68.2 49.4 72.5 49.5 70.4 49.6 68.9 49.8 67.0 49.9 69.9 50.0 69.6 50.1 68.2 50.2 66.7 50.4 70.0 50.5 67.8 50.6 67.9 50.7 71.9 50.8 71.1 51.0 69.7 51.1 68.1 51.2 69.5 51.3 66.0 51.4 68.9 51.6 67.9 51.7 67.3 51.8 66.9 51.9 69.4 52.0 68.9 52.2 68.9 52.3 69.6 52.4 67.5 52.5 67.0 52.6 66.3 52.8 68.0 52.9 69.2 53.0 68.2 53.1 69.1 53.2 67.0 53.4 67.9 53.5 67.7 53.6 67.3 53.7 71.1 53.8 70.0 54.0 68.2 54.1 68.3 54.2 69.3 54.3 67.8 54.4 70.1 54.6 68.3 54.7 69.5 54.8 68.9 54.9 69.7 55.0 68.7 55.2 68.5 55.3 69.2 55.4 69.6 55.5 70.0 55.6 70.5 55.8 72.2 55.9 71.3 56.0 70.1 56.1 71.3 56.2 69.6 56.4 72.2 56.5 71.2 56.6 68.9 56.7 71.3 56.8 71.3 57.0 67.2 57.1 69.3 57.2 69.5 57.3 67.8 57.4 68.7 57.6 68.8 57.7 70.4 57.8 70.0 57.9 72.7 58.0 69.1 58.2 70.8 58.3 69.4 58.4 69.6 58.5 67.8 58.6 66.8 58.8 67.9 58.9 69.5 59.0 70.4 59.1 69.1 59.2 68.8 59.4 67.2 59.5 69.9 59.6 69.6 59.7 67.4 59.8 68.0 60.0 66.8 60.1 69.7 60.2 68.4 60.3 67.9 60.4 68.5 60.6 68.6 60.7 67.6 60.8 66.7 60.9 66.7 61.0 66.2 61.2 68.8 61.3 70.8 61.4 66.2 61.5 68.3 61.6 68.7 61.8 67.1 61.9 68.4 62.0 66.9 62.1 69.5 62.2 67.4 62.4 68.1 62.5 68.7 62.6 67.5 62.7 66.0 62.8 67.5 63.0 69.1 63.1 68.2 63.2 68.6 63.3 67.2 63.4 68.7 63.6 69.5 63.7 68.8 63.8 71.0 63.9 68.7 64.0 67.8 64.2 67.1 64.3 70.3 64.4 68.8 64.5 69.9 64.6 69.1 64.8 70.4 64.9 69.8 65.0 67.8 65.1 68.3 65.2 69.1 65.4 66.3 65.5 69.2 65.6 68.8 65.7 68.5 65.8 67.1 66.0 67.7 66.1 66.2 66.2 67.6 66.3 67.0 66.4 68.0 66.6 67.5 66.7 68.6 66.8 69.7 66.9 67.0 67.0 69.7 67.2 66.6 67.3 66.5 67.4 69.0 67.5 69.2 67.6 69.6 67.8 67.3 67.9 69.1 68.0 69.2 68.1 70.5 68.2 68.9 68.4 69.5 68.5 67.6 68.6 68.5 68.7 68.0 68.8 69.2 69.0 67.2 69.1 67.2 69.2 68.7 69.3 70.0 69.4 68.4 69.6 68.2 69.7 67.4 69.8 69.0 69.9 68.3 70.0 69.6 70.2 68.1 70.3 66.7 70.4 67.1 70.5 66.7 70.6 66.5 70.8 69.5 70.9 69.1 71.0 66.9 71.1 70.3 71.2 68.6 71.4 67.3 71.5 68.9 71.6 68.4 71.7 67.5 71.8 66.1 72.0 68.4 72.1 68.5 72.2 65.3 72.3 68.7 72.4 68.8 72.6 67.6 72.7 68.2 72.8 67.8 72.9 67.1 73.0 67.7 73.2 69.6 73.3 66.5 73.4 68.5 73.5 68.4 73.6 67.5 73.8 67.9 73.9 66.9 74.0 67.5 74.1 68.6 74.2 68.9 74.4 67.6 74.5 71.9 74.6 67.8 74.7 68.6 74.8 68.1 75.0 67.9 75.1 69.8 75.2 67.8 75.3 69.8 75.4 69.5 75.6 67.0 75.7 69.2 75.8 67.4 75.9 71.0 76.0 67.5 76.2 66.9 76.3 65.8 76.4 66.6 76.5 67.4 76.6 67.0 76.8 66.9 76.9 67.6 77.0 68.3 77.1 70.4 77.2 67.0 77.4 68.5 77.5 68.2 77.6 67.7 77.7 68.2 77.8 68.7 78.0 70.6 78.1 69.7 78.2 69.4 78.3 70.7 78.4 70.3 78.6 69.8 78.7 70.4 78.8 69.0 78.9 70.6 79.0 70.4 79.2 69.4 79.3 68.5 79.4 71.4 79.5 69.8 79.6 73.1 79.8 69.0 79.9 70.6 80.0 69.2 80.1 69.8 80.2 70.3 80.4 68.4 80.5 69.1 80.6 69.3 80.7 69.1 80.8 69.6 81.0 70.0 81.1 69.7 81.2 69.1 81.3 68.4 81.4 67.6 81.6 68.1 81.7 68.4 81.8 69.8 81.9 68.7 82.0 67.8 82.2 69.9 82.3 68.4 82.4 68.5 82.5 69.1 82.6 69.8 82.8 66.6 82.9 68.0 83.0 69.4 83.1 68.8 83.2 68.3 83.4 68.6 83.5 70.8 83.6 68.7 83.7 70.0 83.8 70.1 84.0 68.7 84.1 69.6 84.2 68.6 84.3 68.3 84.4 67.7 84.6 69.7 84.7 68.1 84.8 67.8 84.9 66.9 85.0 69.9 85.2 68.6 85.3 67.5 85.4 66.7 85.5 65.7 85.6 67.6 85.8 67.6 85.9 65.8 86.0 68.6 86.1 68.3 86.2 66.5 86.4 67.1 86.5 67.4 86.6 68.1 86.7 67.8 86.8 66.2 87.0 69.6 87.1 68.4 87.2 69.4 87.3 69.4 87.4 67.7 87.6 68.3 87.7 68.8 87.8 68.9 87.9 67.9 88.0 67.5 88.2 68.3 88.3 67.5 88.4 67.8 88.5 66.3 88.6 68.7 88.8 67.6 88.9 68.2 89.0 68.7 89.1 69.1 89.2 70.8 89.4 69.0 89.5 67.3 89.6 69.0 89.7 68.3 89.8 69.4 90.0 68.4 90.1 68.4 90.2 68.7 90.3 68.7 90.4 67.5 90.6 68.7 90.7 69.4 90.8 70.7 90.9 69.2 91.0 69.1 91.2 70.1 91.3 70.0 91.4 71.1 91.5 70.0 91.6 69.4 91.8 70.9 91.9 71.2 92.0 69.1 92.1 69.8 92.2 67.9 92.4 69.3 92.5 68.9 92.6 69.6 92.7 69.3 92.8 69.6 93.0 69.7 93.1 70.2 93.2 69.9 93.3 69.0 93.4 68.2 93.6 70.9 93.7 71.0 93.8 69.0 93.9 70.0 94.0 67.8 94.2 67.8 94.3 69.1 94.4 70.9 94.5 68.3 94.6 68.5 94.8 71.1 94.9 67.3 95.0 70.0 95.1 69.8 95.2 69.0 95.4 69.4 95.5 71.9 95.6 68.0 95.7 68.8 95.8 69.0 96.0 68.4 96.1 67.7 96.2 70.8 96.3 69.4 96.4 67.3 96.6 68.4 96.7 69.6 96.8 69.5 96.9 67.6 97.0 69.1 97.2 69.4 97.3 69.6 97.4 69.6 97.5 67.3 97.6 71.2 97.8 69.5 97.9 71.1 98.0 72.3 98.1 69.2 98.2 68.0 98.4 70.2 98.5 69.1 98.6 68.8 98.7 68.1 98.8 71.0 99.0 68.8 99.1 67.7 99.2 68.7 99.3 68.0 99.4 69.4 99.6 68.8 99.7 68.1 99.8 69.9 99.9 68.7 100.0 70.1 100.2 70.7 100.3 69.1 100.4 68.9 100.5 69.8 100.6 70.5 100.8 69.6 100.9 69.7 101.0 69.6 101.1 69.9 101.2 70.2 101.4 68.8 101.5 69.0 101.6 69.5 101.7 68.7 101.8 69.5 102.0 69.8 102.1 69.2 102.2 68.6 102.3 68.4 102.4 71.1 102.6 70.2 102.7 68.2 102.8 68.6 102.9 71.4 103.0 71.1 103.2 69.7 103.3 70.8 103.4 68.1 103.5 69.6 103.6 70.4 103.8 67.7 103.9 68.7 104.0 70.3 104.1 70.6 104.2 68.8 104.4 69.6 104.5 70.8 104.6 68.8 104.7 67.7 104.8 68.9 105.0 68.5 105.1 70.1 105.2 68.9 105.3 67.9 105.4 71.0 105.6 68.0 105.7 69.0 105.8 69.1 105.9 69.2 106.0 68.5 106.2 69.0 106.3 68.4 106.4 67.2 106.5 68.5 106.6 68.8 106.8 69.1 106.9 69.6 107.0 69.0 107.1 71.2 107.2 71.6 107.4 67.9 107.5 70.2 107.6 69.6 107.7 67.7 107.8 70.8 108.0 69.8 108.1 70.1 108.2 69.9 108.3 71.6 108.4 71.8 108.6 70.9 108.7 71.4 108.8 70.7 108.9 71.0 109.0 70.1 109.2 71.0 109.3 70.2 109.4 71.4 109.5 71.9 109.6 71.4 109.8 72.3 109.9 73.9 110.0 69.0 110.1 71.0 110.2 70.4 110.4 70.4 110.5 69.5 110.6 70.9 110.7 70.6 110.8 70.2 111.0 70.6 111.1 70.4 111.2 68.7 111.3 72.2 111.4 71.0 111.6 70.5 111.7 71.8 111.8 71.0 111.9 69.5 112.0 72.6 112.2 70.1 112.3 71.6 112.4 72.0 112.5 73.2 112.6 72.9 112.8 71.8 112.9 70.8 113.0 71.0 113.1 72.4 113.2 73.0 113.4 71.8 113.5 70.6 113.6 72.3 113.7 71.0 113.8 70.9 114.0 71.2 114.1 72.0 114.2 71.7 114.3 72.5 114.4 72.8 114.6 72.0 114.7 69.3 114.8 69.9 114.9 71.8 115.0 71.6 115.2 73.8 115.3 71.7 115.4 71.6 115.5 72.6 115.6 72.7 115.8 71.5 115.9 72.2 116.0 70.6 116.1 70.8 116.2 72.9 116.4 70.3 116.5 72.6 116.6 72.4 116.7 72.5 116.8 72.7 117.0 72.4 117.1 69.9 117.2 71.1 117.3 71.5 117.4 73.1 117.6 71.2 117.7 71.8 117.8 72.3 117.9 74.1 118.0 71.5 118.2 71.8 118.3 73.8 118.4 71.2 118.5 73.7 118.6 73.0 118.8 71.9 118.9 73.1 119.0 72.5 119.1 73.6 119.2 73.8 119.4 74.9 119.5 73.5 119.6 73.6 119.7 73.0 119.8 73.5 120.0 74.6 120.1 71.8 120.2 74.2 120.3 73.1 120.4 73.7 120.6 74.0 120.7 74.5 120.8 74.0 120.9 73.5 121.0 74.1 121.2 73.9 121.3 73.8 121.4 74.2 121.5 74.9 121.6 74.2 121.8 74.3 121.9 72.9 122.0 74.0 122.1 72.4 122.2 74.9 122.4 73.4 122.5 75.6 122.6 77.2 122.7 74.0 122.8 75.7 123.0 74.8 123.1 73.9 123.2 73.7 123.3 75.0 123.4 75.8 123.6 74.8 123.7 73.0 123.8 73.4 123.9 74.2 124.0 75.7 124.2 74.7 124.3 74.7 124.4 75.5 124.5 74.2 124.6 74.3 124.8 74.2 124.9 72.7 125.0 74.8 125.1 74.8 125.2 75.4 125.4 73.4 125.5 73.8 125.6 75.5 125.7 74.9 125.8 75.8 126.0 73.8 126.1 74.9 126.2 74.1 126.3 75.1 126.4 74.5 126.6 75.6 126.7 76.2 126.8 76.0 126.9 73.8 127.0 76.6 127.2 76.2 127.3 74.9 127.4 75.2 127.5 76.0 127.6 76.5 127.8 75.6 127.9 74.5 128.0 76.3 128.1 76.2 128.2 78.3 128.4 74.8 128.5 78.4 128.6 77.6 128.7 76.3 128.8 77.6 129.0 76.2 129.1 77.0 129.2 75.4 129.3 76.3 129.4 75.3 129.6 74.8 129.7 76.2 129.8 76.0 129.9 77.2 130.0 77.9 130.2 76.6 130.3 77.0 130.4 77.2 130.5 75.5 130.6 77.4 130.8 77.3 130.9 77.4 131.0 76.4 131.1 75.7 131.2 77.4 131.4 77.9 131.5 78.9 131.6 78.7 131.7 79.1 131.8 78.1 132.0 78.9 132.1 77.6 132.2 78.4 132.3 78.8 132.4 80.4 132.6 78.2 132.7 76.9 132.8 79.3 132.9 77.5 133.0 78.2 133.2 78.0 133.3 77.5 133.4 79.6 133.5 78.9 133.6 77.9 133.8 78.5 133.9 78.0 134.0 79.0 134.1 78.1 134.2 77.9 134.4 78.0 134.5 78.3 134.6 79.0 134.7 77.9 134.8 78.7 135.0 79.3 135.1 81.2 135.2 79.9 135.3 76.4 135.4 78.7 135.6 78.8 135.7 79.5 135.8 80.6 135.9 79.8 136.0 77.0 136.2 79.4 136.3 79.1 136.4 79.4 136.5 80.2 136.6 77.9 136.8 79.9 136.9 77.4 137.0 78.9 137.1 79.2 137.2 80.9 137.4 78.2 137.5 77.3 137.6 79.4 137.7 78.3 137.8 80.3 138.0 78.3 138.1 78.1 138.2 80.1 138.3 79.1 138.4 80.1 138.6 78.1 138.7 80.9 138.8 79.0 138.9 80.4 139.0 78.9 139.2 78.6 139.3 79.8 139.4 80.4 139.5 81.8 139.6 80.8 139.8 81.2 139.9 81.3 140.0 83.6 140.1 80.1 140.2 82.0 140.4 80.8 140.5 81.2 140.6 80.4 140.7 82.0 140.8 79.8 141.0 79.7 141.1 80.7 141.2 79.8 141.3 81.4 141.4 81.6 141.6 80.1 141.7 81.4 141.8 80.1 141.9 80.7 142.0 80.8 142.2 82.6 142.3 81.0 142.4 80.2 142.5 80.3 142.6 82.4 142.8 79.9 142.9 81.0 143.0 81.1 143.1 79.3 143.2 81.1 143.4 82.5 143.5 81.9 143.6 80.9 143.7 82.3 143.8 82.2 144.0 83.7 144.1 81.3 144.2 81.6 144.3 82.1 144.4 82.0 144.6 82.2 144.7 82.0 144.8 81.5 144.9 80.7 145.0 81.6 145.2 80.8 145.3 81.2 145.4 81.5 145.5 82.3 145.6 82.6 145.8 80.8 145.9 82.0 146.0 82.5 146.1 81.7 146.2 80.4 146.4 80.1 146.5 82.8 146.6 83.1 146.7 82.6 146.8 81.6 147.0 83.9 147.1 83.8 147.2 82.8 147.3 82.7 147.4 81.2 147.6 83.6 147.7 81.5 147.8 83.5 147.9 83.4 148.0 82.8 148.2 84.1 148.3 82.5 148.4 83.2 148.5 83.4 148.6 83.0 148.8 82.4 148.9 83.8 149.0 83.1 149.1 82.6 149.2 82.7 149.4 83.1 149.5 85.0 149.6 83.3 149.7 83.1 149.8 82.5 150.0 82.5 150.1 81.9 150.2 83.9 150.3 83.7 150.4 82.8 150.6 82.5 150.7 83.5 150.8 83.3 150.9 82.6 151.0 84.0 151.2 83.8 151.3 83.6 151.4 84.3 151.5 83.1 151.6 84.8 151.8 82.8 151.9 84.1 152.0 84.1 152.1 83.4 152.2 84.0 152.4 82.6 152.5 82.4 152.6 83.5 152.7 83.0 152.8 84.2 153.0 83.8 153.1 84.3 153.2 84.1 153.3 84.0 153.4 84.0 153.6 83.6 153.7 83.6 153.8 85.8 153.9 82.6 154.0 84.0 154.2 85.0 154.3 84.6 154.4 85.5 154.5 84.9 154.6 83.4 154.8 84.2 154.9 83.4 155.0 85.4 155.1 85.8 155.2 84.3 155.4 85.2 155.5 84.4 155.6 83.6 155.7 84.5 155.8 83.6 156.0 84.5 156.1 85.1 156.2 85.5 156.3 86.0 156.4 84.6 156.6 85.0 156.7 85.2 156.8 85.3 156.9 82.4 157.0 84.1 157.2 85.4 157.3 83.7 157.4 84.9 157.5 85.4 157.6 83.1 157.8 84.6 157.9 85.0 158.0 84.9 158.1 83.6 158.2 85.3 158.4 84.7 158.5 85.9 158.6 85.7 158.7 85.0 158.8 85.7 159.0 85.2 159.1 85.2 159.2 84.6 159.3 85.8 159.4 86.7 159.6 86.1 159.7 85.9 159.8 85.4 159.9 85.5 160.0 86.5 160.2 84.7 160.3 87.7 160.4 86.0 160.5 87.8 160.6 87.0 160.8 85.7 160.9 86.7 161.0 86.3 161.1 86.5 161.2 86.7 161.4 85.6 161.5 85.5 161.6 85.5 161.7 84.7 161.8 85.5 162.0 85.9 162.1 85.9 162.2 85.8 162.3 85.3 162.4 86.3 162.6 83.9 162.7 85.3 162.8 85.3 162.9 86.4 163.0 86.2 163.2 86.3 163.3 85.7 163.4 86.5 163.5 84.9 163.6 85.8 163.8 84.1 163.9 87.3 164.0 87.2 164.1 85.4 164.2 85.2 164.4 84.1 164.5 84.7 164.6 86.1 164.7 85.8 164.8 84.8 165.0 85.6 165.1 85.5 165.2 86.4 165.3 86.6 165.4 85.9 165.6 86.2 165.7 86.2 165.8 84.5 165.9 86.3 166.0 86.1 166.2 86.8 166.3 84.7 166.4 86.8 166.5 85.7 166.6 86.4 166.8 87.2 166.9 85.0 167.0 85.1 167.1 86.9 167.2 85.2 167.4 85.4 167.5 86.6 167.6 85.9 167.7 86.7 167.8 86.3 168.0 86.1 168.1 87.0 168.2 87.9 168.3 86.2 168.4 87.4 168.6 87.2 168.7 86.5 168.8 86.9 168.9 86.0 169.0 86.4 169.2 87.3 169.3 87.2 169.4 88.4 169.5 86.5 169.6 87.4 169.8 87.2 169.9 87.7 170.0 88.9 170.1 87.1 170.2 88.8 170.4 87.7 170.5 88.0 170.6 89.1 170.7 88.1 170.8 88.9 171.0 88.5 171.1 88.2 171.2 88.1 171.3 86.9 171.4 87.7 171.6 88.3 171.7 88.2 171.8 86.7 171.9 88.5 172.0 88.1 172.2 86.5 172.3 86.5 172.4 87.7 172.5 85.7 172.6 86.5 172.8 86.9 172.9 86.8 173.0 86.9 173.1 87.2 173.2 86.3 173.4 86.6 173.5 88.7 173.6 86.1 173.7 86.9 173.8 87.4 174.0 86.8 174.1 88.3 174.2 87.5 174.3 88.1 174.4 85.5 174.6 88.5 174.7 88.5 174.8 87.0 174.9 88.6 175.0 87.8 175.2 88.3 175.3 89.0 175.4 87.7 175.5 86.8 175.6 87.7 175.8 86.7 175.9 87.1 176.0 87.2 176.1 87.3 176.2 88.8 176.4 88.6 176.5 87.3 176.6 88.9 176.7 86.8 176.8 87.7 177.0 88.2 177.1 89.2 177.2 88.9 177.3 88.7 177.4 89.3 177.6 88.9 177.7 89.4 177.8 87.7 177.9 87.0 178.0 87.9 178.2 88.8 178.3 88.4 178.4 88.8 178.5 88.7 178.6 88.6 178.8 88.8 178.9 87.7 179.0 89.1 179.1 87.6 179.2 88.3 179.4 87.3 179.5 88.8 179.6 87.3 179.7 89.7 179.8 87.5 180.0 88.8 180.1 88.5 180.2 87.9 180.3 89.6 180.4 88.3 180.6 89.7 180.7 87.9 180.8 88.1 180.9 87.2 181.0 89.3 181.2 89.6 181.3 89.1 181.4 88.9 181.5 88.3 181.6 90.9 181.8 89.7 181.9 87.8 182.0 88.9 182.1 87.1 182.2 90.3 182.4 90.5 182.5 90.1 182.6 88.9 182.7 88.5 182.8 87.9 183.0 89.3 183.1 88.4 183.2 88.7 183.3 88.5 183.4 88.8 183.6 89.7 183.7 90.4 183.8 89.4 183.9 89.3 184.0 88.5 184.2 88.5 184.3 88.7 184.4 90.3 184.5 89.8 184.6 90.4 184.8 89.9 184.9 89.3 185.0 88.7 185.1 89.3 185.2 88.5 185.4 91.1 185.5 89.7 185.6 89.2 185.7 91.0 185.8 89.1 186.0 89.8 186.1 89.2 186.2 89.6 186.3 89.0 186.4 89.6 186.6 90.3 186.7 88.3 186.8 87.5 186.9 90.1 187.0 89.2 187.2 89.7 187.3 88.9 187.4 90.3 187.5 90.5 187.6 88.3 187.8 89.6 187.9 88.7 188.0 88.0 188.1 89.0 188.2 89.7 188.4 88.3 188.5 88.4 188.6 90.3 188.7 89.4 188.8 89.7 189.0 88.6 189.1 89.0 189.2 89.6 189.3 89.7 189.4 89.6 189.6 90.8 189.7 89.7 189.8 88.5 189.9 89.0 190.0 89.7 190.2 90.7 190.3 89.3 190.4 89.5 190.5 89.8 190.6 89.3 190.8 89.2 190.9 89.7 191.0 90.6 191.1 90.3 191.2 89.8 191.4 90.4 191.5 89.3 191.6 91.1 191.7 90.9 191.8 90.7 192.0 89.3 192.1 92.1 192.2 88.5 192.3 90.0 192.4 90.1 192.6 91.3 192.7 89.7 192.8 91.1 192.9 90.8 193.0 90.7 193.2 91.5 193.3 91.9 193.4 91.2 193.5 90.7 193.6 89.2 193.8 91.9 193.9 90.5 194.0 89.3 194.1 90.7 194.2 91.6 194.4 90.3 194.5 89.5 194.6 92.0 194.7 90.8 194.8 90.5 195.0 91.0 195.1 88.6 195.2 90.1 195.3 90.0 195.4 91.8 195.6 89.7 195.7 89.6 195.8 89.0 195.9 89.5 196.0 89.9 196.2 90.3 196.3 89.9 196.4 91.6 196.5 90.5 196.6 90.6 196.8 91.2 196.9 90.7 197.0 89.9 197.1 89.2 197.2 90.7 197.4 89.9 197.5 91.4 197.6 90.0 197.7 88.9 197.8 90.5 198.0 91.3 198.1 90.4 198.2 90.7 198.3 90.6 198.4 91.7 198.6 90.7 198.7 90.4 198.8 89.9 198.9 89.2 199.0 91.4 199.2 91.1 199.3 89.6 199.4 90.8 199.5 90.6 199.6 90.1 199.8 90.1 199.9 90.9 200.0 89.5 200.1 90.1 200.2 90.5 200.4 90.6 200.5 90.5 200.6 90.9 200.7 91.1 200.8 90.2 201.0 90.9 201.1 90.6 201.2 92.0 201.3 90.0 201.4 90.8 201.6 91.4 201.7 90.7 201.8 90.7 201.9 90.5 202.0 91.1 202.2 90.1 202.3 90.8 202.4 90.8 202.5 89.9 202.6 91.1 202.8 90.6 202.9 91.2 203.0 91.6 203.1 91.3 203.2 90.2 203.4 91.3 203.5 89.9 203.6 90.5 203.7 92.2 203.8 91.1 204.0 92.2 204.1 90.9 204.2 91.1 204.3 90.3 204.4 91.8 204.6 91.0 204.7 91.6 204.8 91.5 204.9 91.5 205.0 91.4 205.2 91.2 205.3 91.2 205.4 90.7 205.5 89.8 205.6 91.6 205.8 92.8 205.9 92.1 206.0 92.9 206.1 91.6 206.2 90.6 206.4 90.5 206.5 91.7 206.6 91.4 206.7 91.0 206.8 91.5 207.0 90.3 207.1 91.3 207.2 90.6 207.3 90.9 207.4 91.6 207.6 90.6 207.7 91.7 207.8 91.7 207.9 90.3 208.0 92.4 208.2 90.0 208.3 90.8 208.4 91.5 208.5 89.5 208.6 91.8 208.8 92.0 208.9 91.2 209.0 91.4 209.1 91.5 209.2 91.2 209.4 92.1 209.5 91.2 209.6 91.4 209.7 91.6 209.8 91.9 210.0 92.1 210.1 90.4 210.2 90.0 210.3 91.3 210.4 91.3 210.6 90.7 210.7 91.6 210.8 91.8 210.9 91.6 211.0 92.5 211.2 90.7 211.3 91.4 211.4 92.7 211.5 91.9 211.6 90.7 211.8 91.6 211.9 92.3 212.0 92.9 212.1 91.9 212.2 92.2 212.4 90.6 212.5 91.1 212.6 92.1 212.7 90.5 212.8 91.0 213.0 89.8 213.1 92.0 213.2 90.8 213.3 91.3 213.4 89.9 213.6 90.1 213.7 92.2 213.8 90.8 213.9 90.7 214.0 91.5 214.2 91.6 214.3 90.0 214.4 90.7 214.5 91.5 214.6 91.5 214.8 91.8 214.9 91.4 215.0 91.5 215.1 91.8 215.2 91.3 215.4 91.2 215.5 91.4 215.6 91.7 215.7 91.6 215.8 91.4 216.0 91.5 216.1 91.6 216.2 91.9 216.3 91.9 216.4 90.8 216.6 92.3 216.7 90.7 216.8 92.2 216.9 91.4 217.0 92.2 217.2 92.6 217.3 90.7 217.4 92.3 217.5 92.1 217.6 91.6 217.8 92.1 217.9 91.5 218.0 91.9 218.1 91.1 218.2 92.3 218.4 92.1 218.5 92.2 218.6 91.4 218.7 93.0 218.8 93.1 219.0 91.8 219.1 91.6 219.2 91.7 219.3 92.4 219.4 92.6 219.6 91.5 219.7 90.7 219.8 92.3 219.9 92.0 220.0 92.2 220.2 92.5 220.3 91.4 220.4 92.2 220.5 92.0 220.6 92.5 220.8 93.1 220.9 92.4 221.0 91.9 221.1 93.3 221.2 93.0 221.4 92.5 221.5 91.5 221.6 92.1 221.7 92.8 221.8 93.1 222.0 92.4 222.1 93.1 222.2 92.5 222.3 92.6 222.4 93.3 222.6 92.8 222.7 93.2 222.8 93.6 222.9 93.8 223.0 92.7 223.2 92.9 223.3 92.2 223.4 92.3 223.5 93.3 223.6 92.7 223.8 91.8 223.9 93.3 224.0 92.4 224.1 92.6 224.2 93.1 224.4 93.0 224.5 92.7 224.6 91.4 224.7 93.0 224.8 92.2 225.0 91.7 225.1 91.1 225.2 93.3 225.3 92.6 225.4 92.5 225.6 92.9 225.7 92.4 225.8 91.5 225.9 92.8 226.0 93.0 226.2 92.7 226.3 93.4 226.4 93.6 226.5 92.0 226.6 92.3 226.8 93.1 226.9 92.7 227.0 92.8 227.1 93.3 227.2 93.1 227.4 92.5 227.5 92.8 227.6 92.3 227.7 92.6 227.8 92.0 228.0 91.5 228.1 92.3 228.2 92.3 228.3 93.2 228.4 93.6 228.6 92.6 228.7 92.9 228.8 92.2 228.9 92.0 229.0 92.4 229.2 92.4 229.3 92.8 229.4 92.7 229.5 93.6 229.6 92.5 229.8 91.6 229.9 92.7 230.0 92.3 230.1 92.8 230.2 93.4 230.4 92.4 230.5 92.8 230.6 93.2 230.7 92.4 230.8 93.2 231.0 93.4 231.1 93.7 231.2 93.9 231.3 93.6 231.4 93.5 231.6 92.4 231.7 91.6 231.8 92.6 231.9 94.1 232.0 93.2 232.2 91.8 232.3 92.8 232.4 93.2 232.5 91.9 232.6 93.3 232.8 92.3 232.9 93.6 233.0 93.0 233.1 94.9 233.2 92.3 233.4 93.3 233.5 92.3 233.6 93.9 233.7 93.3 233.8 93.9 234.0 93.4 234.1 92.7 234.2 93.0 234.3 92.6 234.4 92.8 234.6 93.5 234.7 94.0 234.8 93.8 234.9 93.6 235.0 93.0 235.2 93.6 235.3 92.8 235.4 93.4 235.5 93.8 235.6 93.2 235.8 93.1 235.9 93.1 236.0 93.7 236.1 93.2 236.2 92.6 236.4 93.2 236.5 92.8 236.6 94.2 236.7 93.3 236.8 92.4 237.0 93.3 237.1 93.6 237.2 93.3 237.3 92.9 237.4 93.2 237.6 93.3 237.7 93.7 237.8 93.3 237.9 94.4 238.0 93.0 238.2 94.0 238.3 93.1 238.4 92.2 238.5 92.5 238.6 92.1 238.8 92.2 238.9 93.9 239.0 92.8 239.1 93.6 239.2 92.8 239.4 93.3 239.5 92.8 239.6 93.9 239.7 93.4 239.8 93.3 240.0 93.5 240.1 94.9 240.2 93.9 240.3 94.2 240.4 93.0 240.6 93.4 240.7 93.9 240.8 92.7 240.9 94.5 241.0 93.8 241.2 93.6 241.3 93.5 241.4 93.5 241.5 93.4 241.6 94.5 241.8 94.1 241.9 94.5 242.0 93.7 242.1 93.4 242.2 94.7 242.4 93.2 242.5 93.6 242.6 94.3 242.7 94.6 242.8 93.2 243.0 93.7 243.1 93.8 243.2 93.7 243.3 93.2 243.4 94.0 243.6 93.3 243.7 93.4 243.8 92.2 243.9 93.4 244.0 92.4 244.2 93.9 244.3 93.8 244.4 93.3 244.5 93.8 244.6 93.8 244.8 93.7 244.9 94.0 245.0 93.8 245.1 93.6 245.2 93.4 245.4 94.8 245.5 94.0 245.6 93.9 245.7 94.2 245.8 93.6 246.0 93.6 246.1 94.2 246.2 94.5 246.3 94.3 246.4 93.1 246.6 94.0 246.7 94.0 246.8 94.3 246.9 93.6 247.0 93.6 247.2 94.2 247.3 93.8 247.4 93.7 247.5 94.3 247.6 94.8 247.8 94.4 247.9 94.9 248.0 93.8 248.1 94.7 248.2 94.3 248.4 93.9 248.5 94.1 248.6 93.8 248.7 94.2 248.8 93.9 249.0 95.0 249.1 94.1 249.2 93.6 249.3 94.2 249.4 94.6 249.6 94.2 249.7 94.8 249.8 93.9 249.9 93.9 250.0 95.3 250.2 94.4 250.3 94.7 250.4 94.7 250.5 94.7 250.6 94.4 250.8 94.3 250.9 94.9 251.0 94.1 251.1 94.4 251.2 94.6 251.4 94.0 251.5 93.4 251.6 94.5 251.7 94.8 251.8 94.4 252.0 93.4 252.1 94.6 252.2 95.3 252.3 93.5 252.4 92.9 252.6 94.3 252.7 94.5 252.8 94.9 252.9 95.0 253.0 94.7 253.2 95.0 253.3 94.9 253.4 94.8 253.5 94.7 253.6 94.6 253.8 95.1 253.9 94.9 254.0 94.5 254.1 95.2 254.2 94.3 254.4 94.5 254.5 94.7 254.6 93.6 254.7 94.4 254.8 95.1 255.0 95.0 255.1 94.0 255.2 94.2 255.3 94.1 255.4 94.5 255.6 94.6 255.7 93.8 255.8 94.8 255.9 94.7 256.0 94.7 256.2 94.4 256.3 94.6 256.4 93.8 256.5 94.9 256.6 94.9 256.8 94.7 256.9 94.2 257.0 95.5 257.1 95.4 257.2 93.9 257.4 95.0 257.5 94.9 257.6 93.6 257.7 95.1 257.8 95.2 258.0 95.2 258.1 95.0 258.2 94.6 258.3 94.6 258.4 95.2 258.6 95.5 258.7 94.7 258.8 94.8 258.9 95.3 259.0 93.9 259.2 95.2 259.3 94.9 259.4 93.9 259.5 95.3 259.6 94.5 259.8 95.4 259.9 95.6 260.0 94.4 260.1 94.4 260.2 95.0 260.4 94.1 260.5 95.4 260.6 95.2 260.7 95.6 260.8 94.2 261.0 95.2 261.1 95.4 261.2 94.4 261.3 95.7 261.4 94.6 261.6 95.4 261.7 94.7 261.8 95.8 261.9 96.2 262.0 95.4 262.2 95.4 262.3 96.0 262.4 95.2 262.5 95.4 262.6 95.7 262.8 95.5 262.9 95.9 263.0 95.6 263.1 95.9 263.2 94.9 263.4 95.4 263.5 94.5 263.6 95.3 263.7 95.7 263.8 96.0 264.0 94.4 264.1 94.9 264.2 95.4 264.3 94.7 264.4 95.5 264.6 95.6 264.7 95.2 264.8 95.2 264.9 95.0 265.0 95.7 265.2 96.1 265.3 95.6 265.4 96.8 265.5 94.8 265.6 95.2 265.8 95.8 265.9 94.9 266.0 95.6 266.1 95.8 266.2 95.4 266.4 95.3 266.5 95.8 266.6 95.5 266.7 95.7 266.8 95.6 267.0 95.0 267.1 94.8 267.2 95.1 267.3 95.4 267.4 95.2 267.6 95.7 267.7 95.4 267.8 95.8 267.9 95.4 268.0 95.1 268.2 95.8 268.3 95.7 268.4 95.1 268.5 95.3 268.6 96.8 268.8 93.9 268.9 96.0 269.0 95.6 269.1 95.6 269.2 95.5 269.4 95.4 269.5 96.8 269.6 95.5 269.7 95.5 269.8 96.0 270.0 95.9 270.1 95.6 270.2 95.6 270.3 95.1 270.4 96.2 270.6 95.2 270.7 94.5 270.8 96.1 270.9 95.9 271.0 95.6 271.2 95.1 271.3 95.9 271.4 94.8 271.5 94.2 271.6 95.3 271.8 95.6 271.9 95.4 272.0 96.1 272.1 95.6 272.2 95.1 272.4 95.1 272.5 95.7 272.6 95.3 272.7 95.3 272.8 94.6 273.0 95.3 273.1 94.8 273.2 95.5 273.3 95.5 273.4 95.8 273.6 96.3 273.7 95.4 273.8 96.2 273.9 95.0 274.0 95.6 274.2 95.9 274.3 96.4 274.4 95.0 274.5 95.4 274.6 95.6 274.8 95.5 274.9 95.1 275.0 94.8 275.1 95.0 275.2 95.5 275.4 94.9 275.5 96.4 275.6 96.1 275.7 94.7 275.8 95.4 276.0 96.3 276.1 96.4 276.2 96.3 276.3 95.1 276.4 95.7 276.6 96.4 276.7 95.9 276.8 95.6 276.9 96.0 277.0 96.2 277.2 95.8 277.3 95.8 277.4 96.1 277.5 95.4 277.6 95.2 277.8 95.9 277.9 95.0 278.0 95.7 278.1 95.1 278.2 95.9 278.4 94.9 278.5 96.0 278.6 95.7 278.7 95.4 278.8 95.3 279.0 95.6 279.1 95.3 279.2 95.3 279.3 96.4 279.4 96.2 279.6 96.5 279.7 95.4 279.8 95.2 279.9 95.4 280.0 96.5 280.2 96.6 280.3 95.4 280.4 96.7 280.5 96.1 280.6 95.8 280.8 96.3 280.9 96.6 281.0 96.3 281.1 96.3 281.2 96.0 281.4 95.7 281.5 96.1 281.6 95.6 281.7 96.5 281.8 95.8 282.0 96.7 282.1 95.4 282.2 96.7 282.3 95.7 282.4 95.6 282.6 96.1 282.7 96.3 282.8 96.0 282.9 95.8 283.0 96.9 283.2 96.3 283.3 95.5 283.4 96.0 283.5 96.9 283.6 96.4 283.8 96.7 283.9 97.2 284.0 96.2 284.1 96.6 284.2 96.2 284.4 96.5 284.5 96.7 284.6 95.9 284.7 96.5 284.8 96.5 285.0 96.8 285.1 96.1 285.2 95.8 285.3 96.4 285.4 95.7 285.6 96.3 285.7 96.4 285.8 95.8 285.9 96.0 286.0 95.6 286.2 94.8 286.3 95.4 286.4 95.1 286.5 96.0 286.6 95.5 286.8 95.8 286.9 95.8 287.0 96.3 287.1 95.7 287.2 95.6 287.4 96.0 287.5 96.4 287.6 95.7 287.7 95.9 287.8 95.7 288.0 95.5 288.1 95.1 288.2 95.8 288.3 95.7 288.4 95.8 288.6 96.7 288.7 95.8 288.8 96.1 288.9 95.8 289.0 96.5 289.2 95.9 289.3 96.8 289.4 95.9 289.5 96.4 289.6 96.5 289.8 96.0 289.9 96.4 290.0 96.1 290.1 95.8 290.2 95.8 290.4 96.2 290.5 96.8 290.6 95.8 290.7 96.2 290.8 95.7 291.0 96.1 291.1 95.4 291.2 95.7 291.3 95.9 291.4 95.6 291.6 95.8 291.7 96.3 291.8 95.9 291.9 95.7 292.0 95.5 292.2 95.8 292.3 96.5 292.4 96.0 292.5 96.0 292.6 96.4 292.8 96.5 292.9 96.6 293.0 96.1 293.1 95.9 293.2 95.7 293.4 96.1 293.5 96.3 293.6 96.8 293.7 96.6 293.8 96.3 294.0 97.0 294.1 96.1 294.2 96.3 294.3 96.2 294.4 96.3 294.6 96.6 294.7 96.4 294.8 96.4 294.9 97.3 295.0 96.2 295.2 96.3 295.3 96.7 295.4 97.0 295.5 97.0 295.6 96.7 295.8 96.7 295.9 96.8 296.0 97.2 296.1 96.6 296.2 96.1 296.4 97.1 296.5 96.6 296.6 97.1 296.7 97.6 296.8 97.1 297.0 97.8 297.1 96.4 297.2 97.2 297.3 97.2 297.4 97.4 297.6 96.7 297.7 97.1 297.8 97.0 297.9 97.0 298.0 96.4 298.2 96.2 298.3 97.1 298.4 97.0 298.5 96.8 298.6 97.0 298.8 97.1 298.9 96.2 299.0 97.0 299.1 97.2 299.2 97.1 299.4 96.9 299.5 97.0 299.6 96.2 299.7 96.5 299.8 97.1 300.0 97.3 300.1 96.9 300.2 96.6 300.3 96.7 300.4 97.1 300.6 97.6 300.7 97.1 300.8 96.6 300.9 97.0 301.0 96.9 301.2 97.6 301.3 96.9 301.4 96.6 301.5 96.6 301.6 96.0 301.8 96.1 301.9 96.3 302.0 96.1 302.1 96.5 302.2 96.4 302.4 96.7 302.5 97.0 302.6 96.4 302.7 96.3 302.8 95.7 303.0 96.6 303.1 96.8 303.2 96.3 303.3 96.5 303.4 96.4 303.6 97.1 303.7 97.0 303.8 97.3 303.9 96.4 304.0 97.9 304.2 96.6 304.3 96.6 304.4 97.1 304.5 96.9 304.6 97.8 304.8 97.0 304.9 97.0 305.0 97.7 305.1 97.8 305.2 97.0 305.4 97.2 305.5 97.2 305.6 97.3 305.7 98.0 305.8 97.9 306.0 97.8 306.1 97.8 306.2 97.4 306.3 97.7 306.4 97.3 306.6 97.0 306.7 98.0 306.8 96.6 306.9 97.3 307.0 97.1 307.2 96.6 307.3 97.1 307.4 97.3 307.5 97.4 307.6 97.0 307.8 97.6 307.9 97.5 308.0 97.7 308.1 96.7 308.2 97.3 308.4 97.3 308.5 97.8 308.6 97.3 308.7 97.4 308.8 97.2 309.0 97.2 309.1 97.3 309.2 98.0 309.3 97.2 309.4 96.6 309.6 97.6 309.7 97.3 309.8 97.6 309.9 97.6 310.0 97.2 310.2 97.1 310.3 97.0 310.4 97.2 310.5 96.9 310.6 97.3 310.8 97.8 310.9 97.0 311.0 97.0 311.1 97.0 311.2 97.5 311.4 97.6 311.5 97.9 311.6 97.7 311.7 97.5 311.8 97.6 312.0 97.0 312.1 97.7 312.2 97.6 312.3 98.4 312.4 98.1 312.6 97.3 312.7 97.4 312.8 98.0 312.9 96.8 313.0 97.3 313.2 97.8 313.3 97.9 313.4 97.8 313.5 98.2 313.6 97.6 313.8 97.8 313.9 97.7 314.0 97.3 314.1 97.8 314.2 97.6 314.4 97.8 314.5 96.8 314.6 97.8 314.7 97.5 314.8 97.5 315.0 97.7 315.1 97.5 315.2 98.0 315.3 98.1 315.4 98.0 315.6 97.9 315.7 97.6 315.8 97.4 315.9 96.9 316.0 97.2 316.2 97.8 316.3 97.6 316.4 97.1 316.5 97.3 316.6 97.6 316.8 97.1 316.9 97.8 317.0 96.9 317.1 97.5 317.2 97.5 317.4 97.3 317.5 97.3 317.6 97.4 317.7 96.4 317.8 97.5 318.0 97.7 318.1 97.5 318.2 97.8 318.3 96.9 318.4 97.3 318.6 97.5 318.7 97.3 318.8 97.9 318.9 97.6 319.0 97.2 319.2 97.7 319.3 97.8 319.4 97.3 319.5 97.8 319.6 97.7 319.8 97.7 319.9 97.1 320.0 98.2 320.1 98.0 320.2 97.7 320.4 97.9 320.5 97.9 320.6 97.7 320.7 97.6 320.8 97.9 321.0 97.7 321.1 97.7 321.2 97.5 321.3 97.8 321.4 98.4 321.6 98.1 321.7 98.0 321.8 97.9 321.9 97.8 322.0 97.4 322.2 98.7 322.3 97.7 322.4 97.5 322.5 98.2 322.6 98.1 322.8 97.8 322.9 97.5 323.0 97.5 323.1 98.6 323.2 98.0 323.4 97.8 323.5 98.7 323.6 97.8 323.7 97.6 323.8 98.2 324.0 98.1 324.1 98.6 324.2 97.4 324.3 98.1 324.4 97.3 324.6 98.2 324.7 97.7 324.8 97.7 324.9 97.6 325.0 98.2 325.2 98.4 325.3 97.8 325.4 97.6 325.5 97.5 325.6 97.8 325.8 97.2 325.9 98.9 326.0 97.4 326.1 98.2 326.2 97.5 326.4 96.9 326.5 96.8 326.6 97.3 326.7 97.1 326.8 97.3 327.0 97.0 327.1 98.3 327.2 98.3 327.3 96.7 327.4 97.7 327.6 98.0 327.7 97.4 327.8 97.5 327.9 98.0 328.0 97.8 328.2 97.2 328.3 98.2 328.4 97.5 328.5 98.5 328.6 97.5 328.8 97.0 328.9 97.9 329.0 98.4 329.1 98.2 329.2 98.1 329.4 97.7 329.5 98.5 329.6 97.4 329.7 98.5 329.8 97.8 330.0 98.1 330.1 97.8 330.2 97.9 330.3 98.9 330.4 97.8 330.6 98.3 330.7 97.9 330.8 98.6 330.9 97.6 331.0 98.1 331.2 98.5 331.3 99.0 331.4 97.5 331.5 97.6 331.6 97.9 331.8 98.5 331.9 97.5 332.0 98.2 332.1 97.6 332.2 97.4 332.4 97.2 332.5 97.8 332.6 98.1 332.7 97.6 332.8 96.8 333.0 97.4 333.1 98.0 333.2 97.9 333.3 97.7 333.4 98.2 333.6 97.1 333.7 97.1 333.8 98.6 333.9 97.9 334.0 97.6 334.2 97.5 334.3 96.7 334.4 98.1 334.5 96.9 334.6 97.0 334.8 97.8 334.9 98.4 335.0 97.6 335.1 97.9 335.2 97.6 335.4 98.0 335.5 97.2 335.6 98.7 335.7 97.5 335.8 98.1 336.0 97.1 336.1 98.6 336.2 98.0 336.3 98.6 336.4 97.5 336.6 98.2 336.7 97.6 336.8 97.7 336.9 98.1 337.0 97.3 337.2 97.9 337.3 98.3 337.4 98.2 337.5 98.0 337.6 97.7 337.8 97.2 337.9 98.2 338.0 97.4 338.1 98.1 338.2 97.6 338.4 97.7 338.5 97.7 338.6 98.0 338.7 97.6 338.8 97.9 339.0 97.7 339.1 98.1 339.2 98.1 339.3 98.2 339.4 97.8 339.6 98.3 339.7 98.2 339.8 98.5 339.9 98.3 340.0 97.9 340.2 98.6 340.3 98.1 340.4 98.5 340.5 97.6 340.6 98.6 340.8 98.6 340.9 98.0 341.0 98.6 341.1 98.2 341.2 98.9 341.4 98.7 341.5 97.9 341.6 98.4 341.7 97.8 341.8 98.4 342.0 98.8 342.1 98.9 342.2 98.6 342.3 98.5 342.4 98.7 342.6 98.5 342.7 98.8 342.8 99.2 342.9 98.8 343.0 99.1 343.2 98.4 343.3 98.5 343.4 98.8 343.5 99.4 343.6 99.0 343.8 99.2 343.9 98.6 344.0 99.0 344.1 97.8 344.2 98.6 344.4 97.6 344.5 98.9 344.6 98.6 344.7 98.9 344.8 98.6 345.0 98.2 345.1 98.2 345.2 98.5 345.3 99.1 345.4 98.7 345.6 98.3" stroke="#8018ff"/>
<path d="M23.0 116.9L23.1 110.8 23.2 114.6 23.4 113.3 23.5 113.4 23.6 113.5 23.7 111.0 23.8 113.2 24.0 112.3 24.1 117.5 24.2 113.4 24.3 112.6 24.4 112.6 24.6 112.0 24.7 111.5 24.8 112.4 24.9 113.7 25.0 112.8 25.2 114.4 25.3 113.1 25.4 113.4 25.5 115.4 25.6 114.3 25.8 113.0 25.9 113.5 26.0 114.6 26.1 116.4 26.2 113.7 26.4 113.8 26.5 115.5 26.6 113.2 26.7 114.3 26.8 115.9 27.0 115.6 27.1 115.1 27.2 115.9 27.3 111.4 27.4 116.4 27.6 113.9 27.7 112.9 27.8 115.4 27.9 115.8 28.0 114.3 28.2 113.4 28.3 114.8 28.4 114.6 28.5 116.4 28.6 115.5 28.8 114.9 28.9 116.0 29.0 114.4 29.1 113.6 29.2 115.5 29.4 115.6 29.5 114.7 29.6 114.1 29.7 115.5 29.8 112.2 30.0 116.2 30.1 116.1 30.2 113.4 30.3 115.6 30.4 114.3 30.6 116.6 30.7 113.0 30.8 114.5 30.9 116.7 31.0 117.3 31.2 113.2 31.3 115.4 31.4 116.5 31.5 115.4 31.6 118.1 31.8 114.5 31.9 116.5 32.0 114.7 32.1 117.7 32.2 115.7 32.4 115.1 32.5 113.3 32.6 117.5 32.7 116.3 32.8 116.3 33.0 116.8 33.1 115.8 33.2 114.7 33.3 114.5 33.4 114.5 33.6 117.4 33.7 113.8 33.8 114.9 33.9 115.2 34.0 116.0 34.2 116.5 34.3 114.3 34.4 113.6 34.5 115.8 34.6 117.2 34.8 116.5 34.9 115.8 35.0 115.0 35.1 115.7 35.2 114.9 35.4 116.2 35.5 114.1 35.6 115.3 35.7 115.0 35.8 115.8 36.0 115.4 36.1 118.3 36.2 117.1 36.3 117.2 36.4 112.8 36.6 115.0 36.7 114.7 36.8 116.2 36.9 112.6 37.0 116.9 37.2 116.7 37.3 113.7 37.4 114.1 37.5 114.2 37.6 115.1 37.8 115.7 37.9 117.4 38.0 114.6 38.1 115.8 38.2 115.0 38.4 117.0 38.5 115.8 38.6 116.6 38.7 113.7 38.8 115.0 39.0 114.4 39.1 117.4 39.2 116.5 39.3 115.4 39.4 115.4 39.6 116.6 39.7 115.2 39.8 115.0 39.9 116.7 40.0 119.1 40.2 115.6 40.3 115.2 40.4 114.3 40.5 114.1 40.6 116.2 40.8 116.5 40.9 115.4 41.0 115.7 41.1 115.3 41.2 115.3 41.4 113.2 41.5 114.5 41.6 115.2 41.7 114.2 41.8 114.7 42.0 114.4 42.1 115.1 42.2 116.8 42.3 115.4 42.4 115.9 42.6 117.4 42.7 117.5 42.8 119.0 42.9 114.6 43.0 118.4 43.2 116.9 43.3 117.8 43.4 118.8 43.5 119.1 43.6 119.0 43.8 117.8 43.9 119.5 44.0 116.9 44.1 116.9 44.2 117.8 44.4 115.9 44.5 119.0 44.6 117.3 44.7 118.6 44.8 115.8 45.0 115.4 45.1 116.1 45.2 116.9 45.3 115.5 45.4 116.8 45.6 116.4 45.7 118.5 45.8 115.9 45.9 118.1 46.0 116.1 46.2 115.8 46.3 116.1 46.4 115.4 46.5 117.0 46.6 117.9 46.8 116.7 46.9 117.2 47.0 118.3 47.1 116.6 47.2 116.4 47.4 115.8 47.5 114.1 47.6 117.0 47.7 113.9 47.8 116.9 48.0 116.1 48.1 117.4 48.2 116.0 48.3 115.2 48.4 116.6 48.6 115.5 48.7 115.9 48.8 116.1 48.9 115.8 49.0 115.7 49.2 114.9 49.3 115.8 49.4 113.5 49.5 116.0 49.6 114.8 49.8 117.7 49.9 118.0 50.0 114.2 50.1 116.7 50.2 116.4 50.4 115.3 50.5 117.2 50.6 116.0 50.7 114.4 50.8 116.1 51.0 116.2 51.1 116.4 51.2 114.7 51.3 116.9 51.4 117.0 51.6 114.6 51.7 115.2 51.8 115.8 51.9 115.3 52.0 118.0 52.2 116.1 52.3 114.6 52.4 114.9 52.5 115.7 52.6 118.5 52.8 115.5 52.9 115.8 53.0 116.2 53.1 115.5 53.2 118.2 53.4 114.7 53.5 116.1 53.6 115.4 53.7 115.8 53.8 113.5 54.0 117.0 54.1 114.7 54.2 114.8 54.3 113.6 54.4 113.9 54.6 115.3 54.7 115.8 54.8 115.6 54.9 116.1 55.0 115.4 55.2 114.6 55.3 115.7 55.4 115.4 55.5 114.6 55.6 115.6 55.8 116.3 55.9 115.0 56.0 114.3 56.1 115.5 56.2 116.9 56.4 114.5 56.5 114.6 56.6 114.6 56.7 116.2 56.8 112.6 57.0 115.3 57.1 116.3 57.2 114.1 57.3 117.0 57.4 115.9 57.6 114.9 57.7 115.9 57.8 113.9 57.9 115.2 58.0 118.2 58.2 115.0 58.3 118.3 58.4 116.0 58.5 117.2 58.6 116.0 58.8 113.2 58.9 115.0 59.0 115.7 59.1 114.0 59.2 113.6 59.4 115.6 59.5 114.2 59.6 113.0 59.7 114.1 59.8 115.8 60.0 114.2 60.1 115.7 60.2 116.3 60.3 114.5 60.4 112.9 60.6 112.6 60.7 114.0 60.8 114.9 60.9 114.1 61.0 114.4 61.2 113.2 61.3 114.0 61.4 112.9 61.5 113.0 61.6 111.9 61.8 111.4 61.9 112.7 62.0 111.9 62.1 112.0 62.2 113.8 62.4 112.8 62.5 116.3 62.6 113.9 62.7 112.0 62.8 113.5 63.0 112.9 63.1 111.5 63.2 113.5 63.3 111.2 63.4 108.5 63.6 113.1 63.7 111.5 63.8 113.9 63.9 111.5 64.0 111.0 64.2 114.2 64.3 111.2 64.4 112.8 64.5 114.2 64.6 112.7 64.8 112.5 64.9 112.8 65.0 113.6 65.1 111.8 65.2 113.6 65.4 113.6 65.5 115.7 65.6 112.7 65.7 112.1 65.8 114.0 66.0 112.7 66.1 113.5 66.2 113.3 66.3 114.5 66.4 112.3 66.6 112.9 66.7 109.9 66.8 111.8 66.9 114.5 67.0 111.8 67.2 111.8 67.3 111.2 67.4 113.2 67.5 112.7 67.6 111.2 67.8 113.3 67.9 112.8 68.0 113.5 68.1 112.0 68.2 114.7 68.4 113.2 68.5 112.6 68.6 112.3 68.7 112.6 68.8 113.9 69.0 112.7 69.1 114.3 69.2 113.7 69.3 114.4 69.4 113.8 69.6 112.7 69.7 110.5 69.8 113.0 69.9 113.4 70.0 112.7 70.2 113.0 70.3 111.8 70.4 111.8 70.5 111.2 70.6 113.9 70.8 112.5 70.9 111.8 71.0 110.9 71.1 112.2 71.2 114.0 71.4 112.8 71.5 111.4 71.6 113.8 71.7 113.7 71.8 113.1 72.0 112.8 72.1 113.2 72.2 112.4 72.3 112.5 72.4 110.8 72.6 113.4 72.7 112.0 72.8 114.0 72.9 109.4 73.0 112.6 73.2 112.9 73.3 111.5 73.4 112.4 73.5 112.7 73.6 112.5 73.8 111.3 73.9 111.7 74.0 112.9 74.1 113.2 74.2 111.8 74.4 111.7 74.5 111.8 74.6 112.7 74.7 110.2 74.8 109.9 75.0 111.5 75.1 110.0 75.2 110.5 75.3 111.2 75.4 111.6 75.6 109.7 75.7 111.8 75.8 108.8 75.9 111.4 76.0 109.0 76.2 109.4 76.3 111.6 76.4 110.4 76.5 110.0 76.6 110.4 76.8 111.4 76.9 110.8 77.0 110.7 77.1 112.0 77.2 109.9 77.4 110.1 77.5 110.0 77.6 111.8 77.7 111.5 77.8 111.8 78.0 110.3 78.1 110.1 78.2 111.2 78.3 109.8 78.4 111.1 78.6 111.1 78.7 109.4 78.8 110.1 78.9 110.1 79.0 112.1 79.2 113.0 79.3 109.9 79.4 110.0 79.5 107.3 79.6 110.0 79.8 109.7 79.9 108.5 80.0 110.6 80.1 107.9 80.2 109.5 80.4 110.1 80.5 108.7 80.6 111.2 80.7 111.5 80.8 108.9 81.0 109.0 81.1 111.4 81.2 110.7 81.3 109.4 81.4 110.5 81.6 110.7 81.7 110.7 81.8 111.8 81.9 111.3 82.0 112.7 82.2 112.1 82.3 111.3 82.4 111.6 82.5 111.8 82.6 111.0 82.8 108.8 82.9 111.0 83.0 110.1 83.1 111.7 83.2 110.0 83.4 110.4 83.5 110.2 83.6 111.6 83.7 109.8 83.8 109.3 84.0 109.8 84.1 108.8 84.2 109.4 84.3 109.1 84.4 109.3 84.6 111.0 84.7 108.3 84.8 108.8 84.9 108.3 85.0 109.2 85.2 107.1 85.3 107.5 85.4 108.2 85.5 108.8 85.6 108.2 85.8 107.8 85.9 107.4 86.0 109.0 86.1 110.1 86.2 108.9 86.4 108.8 86.5 109.1 86.6 107.7 86.7 108.4 86.8 108.5 87.0 109.1 87.1 108.7 87.2 107.5 87.3 110.0 87.4 110.5 87.6 108.4 87.7 109.1 87.8 108.9 87.9 109.4 88.0 107.0 88.2 110.4 88.3 108.2 88.4 110.1 88.5 108.8 88.6 108.4 88.8 108.8 88.9 110.0 89.0 108.2 89.1 108.8 89.2 108.6 89.4 107.3 89.5 110.6 89.6 109.8 89.7 109.1 89.8 110.3 90.0 107.9 90.1 108.8 90.2 110.8 90.3 109.9 90.4 106.3 90.6 105.1 90.7 107.5 90.8 109.8 90.9 108.2 91.0 108.5 91.2 109.5 91.3 107.9 91.4 109.2 91.5 109.9 91.6 109.7 91.8 109.7 91.9 108.7 92.0 109.9 92.1 109.0 92.2 110.9 92.4 112.3 92.5 108.7 92.6 107.2 92.7 109.0 92.8 109.9 93.0 110.5 93.1 110.4 93.2 108.2 93.3 108.0 93.4 110.1 93.6 107.4 93.7 109.7 93.8 108.2 93.9 109.2 94.0 109.1 94.2 109.2 94.3 109.3 94.4 107.4 94.5 108.8 94.6 108.6 94.8 109.0 94.9 110.2 95.0 108.7 95.1 108.3 95.2 108.3 95.4 108.8 95.5 109.9 95.6 108.2 95.7 110.2 95.8 109.1 96.0 108.4 96.1 107.1 96.2 108.6 96.3 108.9 96.4 106.1 96.6 109.2 96.7 109.6 96.8 108.1 96.9 108.2 97.0 110.1 97.2 108.9 97.3 106.5 97.4 107.4 97.5 107.2 97.6 107.1 97.8 104.7 97.9 107.9 98.0 106.4 98.1 107.2 98.2 106.9 98.4 108.0 98.5 106.8 98.6 106.4 98.7 107.8 98.8 108.8 99.0 107.1 99.1 109.0 99.2 107.9 99.3 107.2 99.4 109.5 99.6 107.1 99.7 109.1 99.8 107.6 99.9 108.6 100.0 106.9 100.2 107.3 100.3 109.4 100.4 108.4 100.5 108.2 100.6 107.6 100.8 108.5 100.9 106.6 101.0 106.9 101.1 108.0 101.2 107.3 101.4 107.5 101.5 108.3 101.6 108.3 101.7 108.3 101.8 110.4 102.0 109.8 102.1 110.2 102.2 108.9 102.3 108.5 102.4 107.5 102.6 108.7 102.7 106.9 102.8 108.5 102.9 109.9 103.0 110.7 103.2 110.0 103.3 108.1 103.4 109.5 103.5 108.1 103.6 109.7 103.8 108.7 103.9 109.7 104.0 111.4 104.1 109.7 104.2 111.2 104.4 108.9 104.5 108.5 104.6 110.4 104.7 110.9 104.8 108.6 105.0 109.2 105.1 107.7 105.2 109.1 105.3 110.3 105.4 109.3 105.6 108.9 105.7 108.2 105.8 110.1 105.9 110.6 106.0 110.4 106.2 110.0 106.3 108.5 106.4 111.5 106.5 109.7 106.6 109.6 106.8 110.4 106.9 107.4 107.0 109.4 107.1 109.2 107.2 109.7 107.4 110.6 107.5 109.6 107.6 107.2 107.7 108.7 107.8 109.1 108.0 109.1 108.1 107.6 108.2 107.2 108.3 109.5 108.4 109.3 108.6 108.9 108.7 107.2 108.8 110.9 108.9 106.2 109.0 108.9 109.2 111.5 109.3 109.2 109.4 109.8 109.5 108.4 109.6 111.1 109.8 108.4 109.9 110.2 110.0 110.2 110.1 109.0 110.2 111.0 110.4 108.7 110.5 109.6 110.6 110.3 110.7 109.9 110.8 110.8 111.0 111.3 111.1 110.1 111.2 109.8 111.3 109.8 111.4 110.0 111.6 111.2 111.7 110.2 111.8 110.9 111.9 110.5 112.0 109.8 112.2 111.6 112.3 109.8 112.4 110.9 112.5 112.4 112.6 109.9 112.8 111.0 112.9 109.6 113.0 110.8 113.1 109.9 113.2 111.0 113.4 110.9 113.5 111.7 113.6 113.3 113.7 112.0 113.8 112.5 114.0 111.8 114.1 111.7 114.2 111.1 114.3 110.2 114.4 112.1 114.6 113.7 114.7 112.5 114.8 111.5 114.9 113.7 115.0 111.6 115.2 111.4 115.3 110.8 115.4 111.0 115.5 111.7 115.6 114.0 115.8 111.8 115.9 111.1 116.0 111.6 116.1 112.2 116.2 110.8 116.4 112.8 116.5 113.5 116.6 113.2 116.7 113.6 116.8 111.7 117.0 111.4 117.1 114.4 117.2 114.4 117.3 111.8 117.4 113.6 117.6 113.5 117.7 114.1 117.8 113.8 117.9 113.1 118.0 113.8 118.2 113.9 118.3 113.8 118.4 112.0 118.5 110.9 118.6 113.0 118.8 112.2 118.9 114.1 119.0 114.5 119.1 114.1 119.2 113.5 119.4 114.0 119.5 115.0 119.6 113.2 119.7 115.0 119.8 114.9 120.0 114.6 120.1 116.0 120.2 114.0 120.3 115.8 120.4 114.1 120.6 114.4 120.7 114.2 120.8 115.7 120.9 114.4 121.0 115.4 121.2 114.2 121.3 116.4 121.4 117.1 121.5 115.5 121.6 116.9 121.8 115.8 121.9 117.3 122.0 115.1 122.1 113.4 122.2 116.3 122.4 114.6 122.5 113.7 122.6 114.0 122.7 113.1 122.8 114.4 123.0 113.6 123.1 116.1 123.2 115.4 123.3 113.2 123.4 113.5 123.6 114.5 123.7 113.4 123.8 115.3 123.9 115.6 124.0 115.1 124.2 115.5 124.3 116.7 124.4 117.7 124.5 118.0 124.6 116.7 124.8 117.6 124.9 116.1 125.0 117.3 125.1 115.9 125.2 117.6 125.4 115.7 125.5 115.9 125.6 116.8 125.7 117.4 125.8 115.5 126.0 116.3 126.1 117.0 126.2 117.1 126.3 116.0 126.4 117.0 126.6 116.8 126.7 118.4 126.8 117.7 126.9 116.0 127.0 115.3 127.2 117.6 127.3 118.7 127.4 117.8 127.5 118.5 127.6 117.1 127.8 116.2 127.9 118.1 128.0 117.4 128.1 117.9 128.2 115.8 128.4 117.2 128.5 116.4 128.6 117.7 128.7 116.3 128.8 116.4 129.0 116.4 129.1 118.3 129.2 117.3 129.3 116.6 129.4 116.6 129.6 116.6 129.7 119.1 129.8 116.1 129.9 117.2 130.0 118.7 130.2 119.4 130.3 118.1 130.4 119.1 130.5 119.1 130.6 119.4 130.8 118.5 130.9 120.1 131.0 118.8 131.1 120.1 131.2 117.7 131.4 119.8 131.5 117.8 131.6 117.7 131.7 119.8 131.8 118.6 132.0 120.0 132.1 118.6 132.2 121.3 132.3 119.9 132.4 118.9 132.6 120.2 132.7 120.9 132.8 119.4 132.9 120.7 133.0 122.2 133.2 121.1 133.3 120.4 133.4 119.9 133.5 121.1 133.6 119.2 133.8 117.9 133.9 120.2 134.0 119.9 134.1 122.6 134.2 121.1 134.4 120.1 134.5 119.9 134.6 121.5 134.7 120.2 134.8 120.4 135.0 120.9 135.1 121.1 135.2 121.1 135.3 121.2 135.4 122.3 135.6 122.7 135.7 119.7 135.8 123.7 135.9 121.5 136.0 122.5 136.2 120.7 136.3 121.7 136.4 121.5 136.5 121.5 136.6 122.1 136.8 122.0 136.9 120.5 137.0 121.3 137.1 122.1 137.2 122.2 137.4 121.3 137.5 121.4 137.6 121.6 137.7 120.8 137.8 120.8 138.0 123.5 138.1 121.8 138.2 122.3 138.3 121.6 138.4 123.6 138.6 124.0 138.7 122.2 138.8 122.8 138.9 121.7 139.0 124.0 139.2 123.3 139.3 121.7 139.4 123.6 139.5 122.8 139.6 123.0 139.8 122.9 139.9 122.0 140.0 122.2 140.1 123.4 140.2 122.8 140.4 122.1 140.5 125.0 140.6 123.2 140.7 123.0 140.8 123.0 141.0 124.5 141.1 125.0 141.2 124.5 141.3 125.2 141.4 123.2 141.6 124.3 141.7 124.4 141.8 125.0 141.9 125.5 142.0 123.3 142.2 128.1 142.3 124.5 142.4 125.7 142.5 126.2 142.6 126.3 142.8 125.8 142.9 123.1 143.0 124.7 143.1 126.5 143.2 125.0 143.4 124.9 143.5 123.7 143.6 126.9 143.7 126.2 143.8 124.9 144.0 125.5 144.1 125.5 144.2 124.5 144.3 125.2 144.4 125.7 144.6 125.9 144.7 126.5 144.8 125.4 144.9 125.0 145.0 125.8 145.2 124.9 145.3 124.4 145.4 126.6 145.5 125.3 145.6 125.7 145.8 126.3 145.9 124.7 146.0 126.3 146.1 126.1 146.2 125.7 146.4 126.2 146.5 125.2 146.6 123.9 146.7 125.7 146.8 125.2 147.0 126.9 147.1 126.5 147.2 125.9 147.3 126.6 147.4 127.9 147.6 127.9 147.7 127.3 147.8 127.5 147.9 126.9 148.0 127.2 148.2 127.9 148.3 127.3 148.4 127.7 148.5 126.4 148.6 125.9 148.8 125.9 148.9 126.9 149.0 128.3 149.1 128.0 149.2 125.9 149.4 125.3 149.5 127.2 149.6 126.8 149.7 125.1 149.8 127.2 150.0 126.3 150.1 127.3 150.2 126.5 150.3 127.0 150.4 126.5 150.6 125.5 150.7 126.2 150.8 126.0 150.9 127.5 151.0 126.1 151.2 125.8 151.3 127.9 151.4 128.5 151.5 129.0 151.6 128.8 151.8 126.7 151.9 127.5 152.0 127.7 152.1 128.2 152.2 126.4 152.4 128.3 152.5 128.6 152.6 127.5 152.7 128.5 152.8 129.5 153.0 128.5 153.1 129.5 153.2 129.5 153.3 129.0 153.4 129.0 153.6 128.5 153.7 129.9 153.8 128.5 153.9 128.4 154.0 129.7 154.2 128.6 154.3 129.7 154.4 130.2 154.5 129.4 154.6 129.4 154.8 130.1 154.9 129.9 155.0 127.8 155.1 128.0 155.2 130.2 155.4 129.4 155.5 127.2 155.6 127.9 155.7 129.2 155.8 128.4 156.0 129.8 156.1 129.6 156.2 130.1 156.3 128.8 156.4 130.5 156.6 131.8 156.7 129.6 156.8 131.5 156.9 131.3 157.0 131.1 157.2 130.5 157.3 129.6 157.4 129.8 157.5 131.3 157.6 131.4 157.8 131.5 157.9 131.3 158.0 131.2 158.1 130.0 158.2 129.2 158.4 130.5 158.5 130.8 158.6 130.4 158.7 129.1 158.8 129.9 159.0 129.2 159.1 130.6 159.2 129.7 159.3 130.5 159.4 131.0 159.6 131.0 159.7 132.1 159.8 129.9 159.9 129.0 160.0 131.7 160.2 132.1 160.3 132.1 160.4 131.1 160.5 131.4 160.6 131.0 160.8 129.8 160.9 130.4 161.0 131.4 161.1 130.5 161.2 132.6 161.4 129.7 161.5 130.7 161.6 132.0 161.7 130.6 161.8 130.1 162.0 130.0 162.1 130.5 162.2 132.4 162.3 131.5 162.4 131.6 162.6 130.6 162.7 131.8 162.8 131.2 162.9 130.4 163.0 130.9 163.2 131.5 163.3 132.4 163.4 131.4 163.5 131.9 163.6 133.3 163.8 131.0 163.9 130.7 164.0 132.6 164.1 132.2 164.2 131.8 164.4 132.1 164.5 131.5 164.6 132.2 164.7 131.5 164.8 132.5 165.0 130.8 165.1 131.2 165.2 132.1 165.3 131.7 165.4 132.7 165.6 132.2 165.7 131.8 165.8 132.5 165.9 132.0 166.0 131.2 166.2 131.6 166.3 131.9 166.4 132.1 166.5 132.5 166.6 133.1 166.8 132.7 166.9 133.7 167.0 133.2 167.1 131.9 167.2 133.4 167.4 133.0 167.5 131.6 167.6 132.2 167.7 132.9 167.8 132.3 168.0 133.0 168.1 132.6 168.2 133.0 168.3 132.2 168.4 132.9 168.6 132.4 168.7 133.4 168.8 131.5 168.9 133.2 169.0 134.1 169.2 133.6 169.3 133.2 169.4 133.7 169.5 132.7 169.6 132.7 169.8 133.2 169.9 133.4 170.0 134.4 170.1 132.9 170.2 134.4 170.4 132.3 170.5 133.0 170.6 133.7 170.7 134.7 170.8 133.3 171.0 132.0 171.1 134.2 171.2 133.8 171.3 132.9 171.4 133.0 171.6 133.2 171.7 133.9 171.8 134.4 171.9 132.7 172.0 135.8 172.2 133.9 172.3 133.7 172.4 134.6 172.5 134.2 172.6 136.1 172.8 135.1 172.9 134.0 173.0 134.0 173.1 133.9 173.2 134.0 173.4 134.9 173.5 133.8 173.6 135.7 173.7 134.3 173.8 134.3 174.0 135.2 174.1 132.8 174.2 133.7 174.3 134.9 174.4 134.5 174.6 134.5 174.7 134.9 174.8 134.2 174.9 134.6 175.0 133.7 175.2 133.5 175.3 136.1 175.4 134.5 175.5 134.7 175.6 136.5 175.8 136.3 175.9 135.1 176.0 135.1 176.1 135.4 176.2 134.7 176.4 136.0 176.5 135.6 176.6 135.6 176.7 136.0 176.8 135.9 177.0 136.8 177.1 136.5 177.2 133.9 177.3 136.0 177.4 134.4 177.6 134.1 177.7 135.8 177.8 134.6 177.9 134.9 178.0 135.9 178.2 134.5 178.3 134.2 178.4 135.2 178.5 135.8 178.6 135.2 178.8 133.5 178.9 134.2 179.0 134.6 179.1 136.3 179.2 135.4 179.4 135.4 179.5 135.7 179.6 134.5 179.7 135.2 179.8 135.2 180.0 134.0 180.1 134.7 180.2 135.1 180.3 133.7 180.4 135.2 180.6 135.0 180.7 135.2 180.8 133.7 180.9 134.3 181.0 135.3 181.2 134.7 181.3 133.4 181.4 134.1 181.5 135.0 181.6 133.8 181.8 134.1 181.9 135.9 182.0 133.9 182.1 133.9 182.2 133.2 182.4 133.5 182.5 135.3 182.6 134.1 182.7 133.3 182.8 133.6 183.0 134.4 183.1 135.1 183.2 134.1 183.3 135.3 183.4 134.5 183.6 135.2 183.7 135.4 183.8 135.5 183.9 134.8 184.0 135.0 184.2 135.6 184.3 134.2 184.4 135.5 184.5 135.8 184.6 136.3 184.8 135.5 184.9 135.4 185.0 135.7 185.1 135.1 185.2 135.5 185.4 136.0 185.5 135.9 185.6 134.9 185.7 135.5 185.8 134.0 186.0 136.3 186.1 135.2 186.2 135.8 186.3 134.7 186.4 135.5 186.6 135.9 186.7 136.3 186.8 134.5 186.9 136.2 187.0 135.5 187.2 135.1 187.3 136.1 187.4 135.6 187.5 135.7 187.6 135.4 187.8 136.2 187.9 136.1 188.0 136.0 188.1 135.4 188.2 135.7 188.4 136.4 188.5 137.0 188.6 136.0 188.7 137.0 188.8 135.9 189.0 135.0 189.1 136.3 189.2 135.0 189.3 136.1 189.4 136.7 189.6 135.7 189.7 135.9 189.8 137.9 189.9 136.2 190.0 136.2 190.2 136.6 190.3 136.0 190.4 136.0 190.5 136.3 190.6 134.2 190.8 137.0 190.9 135.1 191.0 135.0 191.1 136.2 191.2 135.7 191.4 134.7 191.5 135.7 191.6 134.6 191.7 134.9 191.8 134.2 192.0 134.7 192.1 135.7 192.2 135.5 192.3 135.7 192.4 136.2 192.6 135.6 192.7 135.2 192.8 135.6 192.9 137.1 193.0 136.0 193.2 136.4 193.3 136.1 193.4 136.6 193.5 136.8 193.6 136.6 193.8 136.7 193.9 136.3 194.0 136.4 194.1 137.4 194.2 137.7 194.4 137.8 194.5 137.1 194.6 136.4 194.7 137.5 194.8 137.4 195.0 135.8 195.1 137.4 195.2 137.2 195.3 138.0 195.4 135.9 195.6 135.8 195.7 137.3 195.8 135.4 195.9 136.2 196.0 136.0 196.2 136.1 196.3 135.4 196.4 136.7 196.5 137.5 196.6 137.0 196.8 137.0 196.9 136.3 197.0 137.6 197.1 136.9 197.2 137.2 197.4 135.3 197.5 136.7 197.6 135.5 197.7 136.6 197.8 136.5 198.0 135.6 198.1 136.6 198.2 137.3 198.3 136.8 198.4 136.9 198.6 135.8 198.7 136.0 198.8 135.6 198.9 136.5 199.0 137.3 199.2 136.8 199.3 136.5 199.4 135.6 199.5 136.8 199.6 136.3 199.8 135.2 199.9 135.4 200.0 136.5 200.1 136.1 200.2 138.1 200.4 137.0 200.5 136.3 200.6 136.8 200.7 138.4 200.8 136.7 201.0 138.0 201.1 137.9 201.2 138.6 201.3 138.0 201.4 137.3 201.6 138.0 201.7 137.6 201.8 138.3 201.9 137.5 202.0 138.9 202.2 137.3 202.3 137.6 202.4 136.8 202.5 137.3 202.6 137.1 202.8 137.2 202.9 137.7 203.0 136.6 203.1 136.4 203.2 137.8 203.4 136.9 203.5 136.6 203.6 137.9 203.7 137.7 203.8 135.3 204.0 137.0 204.1 137.8 204.2 137.9 204.3 137.0 204.4 138.5 204.6 136.8 204.7 137.3 204.8 137.6 204.9 137.5 205.0 138.2 205.2 138.4 205.3 137.7 205.4 138.7 205.5 137.2 205.6 137.6 205.8 138.9 205.9 137.8 206.0 138.4 206.1 137.3 206.2 137.4 206.4 137.5 206.5 137.6 206.6 137.2 206.7 137.4 206.8 137.9 207.0 138.2 207.1 137.5 207.2 137.9 207.3 138.2 207.4 136.8 207.6 136.5 207.7 138.8 207.8 138.7 207.9 137.8 208.0 138.1 208.2 137.1 208.3 136.8 208.4 138.0 208.5 136.7 208.6 138.4 208.8 137.2 208.9 137.8 209.0 138.9 209.1 138.8 209.2 137.2 209.4 138.0 209.5 136.5 209.6 136.8 209.7 137.4 209.8 138.1 210.0 136.7 210.1 137.5 210.2 137.2 210.3 136.4 210.4 137.3 210.6 138.5 210.7 137.5 210.8 138.0 210.9 138.3 211.0 137.3 211.2 138.8 211.3 139.1 211.4 139.2 211.5 139.0 211.6 137.8 211.8 137.8 211.9 137.7 212.0 137.6 212.1 137.7 212.2 138.9 212.4 139.2 212.5 137.8 212.6 138.9 212.7 137.5 212.8 138.1 213.0 137.6 213.1 137.3 213.2 138.5 213.3 138.6 213.4 138.3 213.6 138.3 213.7 138.0 213.8 138.6 213.9 138.3 214.0 139.0 214.2 138.1 214.3 139.1 214.4 139.2 214.5 139.8 214.6 139.6 214.8 139.0 214.9 138.4 215.0 137.7 215.1 138.9 215.2 139.9 215.4 140.0 215.5 137.1 215.6 138.3 215.7 138.5 215.8 138.0 216.0 138.8 216.1 138.6 216.2 138.2 216.3 138.4 216.4 137.3 216.6 137.7 216.7 137.6 216.8 138.8 216.9 137.0 217.0 138.0 217.2 138.6 217.3 138.1 217.4 138.6 217.5 137.6 217.6 138.3 217.8 138.7 217.9 139.6 218.0 138.6 218.1 139.0 218.2 138.1 218.4 138.2 218.5 139.3 218.6 138.7 218.7 139.3 218.8 138.9 219.0 139.9 219.1 140.1 219.2 138.0 219.3 139.9 219.4 139.0 219.6 139.1 219.7 138.7 219.8 139.3 219.9 138.1 220.0 138.4 220.2 138.3 220.3 139.0 220.4 139.4 220.5 139.3 220.6 139.0 220.8 138.4 220.9 137.6 221.0 139.0 221.1 138.8 221.2 139.0 221.4 139.7 221.5 138.7 221.6 138.7 221.7 137.2 221.8 139.0 222.0 138.6 222.1 138.1 222.2 138.8 222.3 137.9 222.4 138.2 222.6 139.9 222.7 139.1 222.8 139.4 222.9 139.3 223.0 139.4 223.2 139.2 223.3 140.8 223.4 139.3 223.5 140.0 223.6 139.5 223.8 139.4 223.9 138.1 224.0 138.5 224.1 140.9 224.2 140.9 224.4 139.6 224.5 139.9 224.6 140.3 224.7 139.3 224.8 141.1 225.0 139.3 225.1 139.5 225.2 138.2 225.3 141.1 225.4 140.1 225.6 141.2 225.7 139.5 225.8 140.5 225.9 140.4 226.0 140.5 226.2 141.8 226.3 141.9 226.4 141.3 226.5 140.1 226.6 141.0 226.8 141.2 226.9 140.7 227.0 140.8 227.1 140.7 227.2 139.8 227.4 140.6 227.5 141.5 227.6 139.8 227.7 140.5 227.8 141.0 228.0 139.5 228.1 140.3 228.2 139.3 228.3 139.9 228.4 139.4 228.6 139.7 228.7 139.9 228.8 140.0 228.9 140.1 229.0 138.7 229.2 141.3 229.3 140.1 229.4 139.6 229.5 139.9 229.6 140.6 229.8 139.8 229.9 140.2 230.0 140.2 230.1 140.9 230.2 140.1 230.4 140.9 230.5 140.9 230.6 140.6 230.7 141.5 230.8 140.7 231.0 139.9 231.1 140.8 231.2 140.7 231.3 140.7 231.4 140.9 231.6 142.3 231.7 141.0 231.8 141.2 231.9 140.8 232.0 141.9 232.2 141.1 232.3 140.7 232.4 140.4 232.5 141.6 232.6 141.8 232.8 140.3 232.9 140.9 233.0 141.8 233.1 142.0 233.2 140.6 233.4 141.1 233.5 141.9 233.6 141.0 233.7 141.0 233.8 140.9 234.0 140.4 234.1 141.2 234.2 141.4 234.3 140.3 234.4 141.3 234.6 141.9 234.7 141.3 234.8 141.8 234.9 140.9 235.0 142.1 235.2 140.7 235.3 142.4 235.4 140.9 235.5 140.8 235.6 140.7 235.8 141.1 235.9 141.1 236.0 141.0 236.1 141.3 236.2 142.0 236.4 142.2 236.5 141.4 236.6 142.4 236.7 141.1 236.8 141.1 237.0 141.0 237.1 142.0 237.2 140.6 237.3 140.6 237.4 142.2 237.6 142.4 237.7 142.2 237.8 140.4 237.9 141.3 238.0 141.8 238.2 141.4 238.3 140.3 238.4 141.1 238.5 140.3 238.6 140.6 238.8 142.7 238.9 141.9 239.0 140.6 239.1 140.6 239.2 141.9 239.4 141.2 239.5 142.0 239.6 141.2 239.7 141.5 239.8 141.7 240.0 140.9 240.1 140.3 240.2 140.8 240.3 141.1 240.4 141.4 240.6 141.5 240.7 141.6 240.8 142.0 240.9 141.2 241.0 142.7 241.2 143.1 241.3 142.1 241.4 142.1 241.5 142.8 241.6 142.5 241.8 142.2 241.9 142.0 242.0 141.7 242.1 141.5 242.2 142.6 242.4 142.9 242.5 141.5 242.6 142.0 242.7 142.2 242.8 141.7 243.0 141.5 243.1 141.6 243.2 140.6 243.3 141.7 243.4 141.6 243.6 143.0 243.7 142.3 243.8 141.6 243.9 141.8 244.0 142.8 244.2 142.8 244.3 142.1 244.4 141.9 244.5 141.1 244.6 141.8 244.8 141.9 244.9 141.6 245.0 143.2 245.1 141.0 245.2 142.1 245.4 142.4 245.5 142.5 245.6 143.2 245.7 141.4 245.8 141.8 246.0 142.3 246.1 142.4 246.2 142.1 246.3 141.9 246.4 143.0 246.6 141.8 246.7 142.1 246.8 143.3 246.9 143.4 247.0 143.0 247.2 142.0 247.3 142.0 247.4 141.9 247.5 141.8 247.6 142.3 247.8 143.3 247.9 142.6 248.0 142.1 248.1 142.1 248.2 141.8 248.4 143.2 248.5 141.3 248.6 142.6 248.7 141.6 248.8 141.8 249.0 141.6 249.1 143.0 249.2 142.4 249.3 144.0 249.4 141.9 249.6 141.8 249.7 142.8 249.8 142.8 249.9 142.3 250.0 141.2 250.2 143.2 250.3 142.7 250.4 142.5 250.5 142.0 250.6 142.6 250.8 141.9 250.9 142.2 251.0 142.1 251.1 142.9 251.2 141.9 251.4 142.0 251.5 142.8 251.6 142.3 251.7 142.2 251.8 142.1 252.0 142.9 252.1 142.1 252.2 142.8 252.3 143.7 252.4 142.9 252.6 142.2 252.7 142.0 252.8 142.9 252.9 142.2 253.0 142.1 253.2 142.6 253.3 142.5 253.4 143.6 253.5 142.4 253.6 144.1 253.8 142.8 253.9 143.3 254.0 143.6 254.1 143.4 254.2 143.6 254.4 142.6 254.5 141.9 254.6 143.0 254.7 142.1 254.8 142.7 255.0 143.6 255.1 143.0 255.2 142.7 255.3 142.4 255.4 142.9 255.6 143.0 255.7 142.2 255.8 143.3 255.9 142.6 256.0 143.3 256.2 142.9 256.3 143.8 256.4 143.7 256.5 143.2 256.6 143.1 256.8 143.4 256.9 143.9 257.0 143.7 257.1 143.1 257.2 143.1 257.4 143.8 257.5 141.9 257.6 143.1 257.7 142.2 257.8 143.5 258.0 142.4 258.1 142.6 258.2 142.1 258.3 142.7 258.4 143.2 258.6 143.7 258.7 142.1 258.8 142.6 258.9 145.0 259.0 143.5 259.2 143.0 259.3 143.4 259.4 141.7 259.5 144.1 259.6 143.4 259.8 142.6 259.9 144.1 260.0 143.2 260.1 143.1 260.2 144.0 260.4 144.1 260.5 143.7 260.6 144.0 260.7 143.4 260.8 143.3 261.0 144.7 261.1 144.9 261.2 144.4 261.3 144.4 261.4 143.9 261.6 144.0 261.7 143.5 261.8 144.8 261.9 143.5 262.0 143.9 262.2 143.6 262.3 142.7 262.4 144.3 262.5 143.0 262.6 142.7 262.8 143.1 262.9 142.5 263.0 142.9 263.1 142.3 263.2 143.1 263.4 142.7 263.5 142.0 263.6 143.2 263.7 142.8 263.8 142.2 264.0 143.0 264.1 143.1 264.2 143.9 264.3 142.5 264.4 143.5 264.6 143.1 264.7 143.6 264.8 143.2 264.9 143.3 265.0 143.7 265.2 142.8 265.3 142.3 265.4 143.4 265.5 143.2 265.6 143.5 265.8 143.7 265.9 143.3 266.0 144.0 266.1 143.3 266.2 143.4 266.4 143.8 266.5 143.6 266.6 143.2 266.7 143.3 266.8 142.9 267.0 143.0 267.1 143.4 267.2 143.8 267.3 143.2 267.4 143.9 267.6 144.5 267.7 144.7 267.8 143.6 267.9 144.2 268.0 144.0 268.2 144.1 268.3 144.2 268.4 144.1 268.5 144.3 268.6 144.0 268.8 143.8 268.9 144.1 269.0 144.2 269.1 144.7 269.2 144.3 269.4 144.5 269.5 144.8 269.6 143.6 269.7 144.0 269.8 144.4 270.0 144.2 270.1 143.7 270.2 144.7 270.3 144.2 270.4 143.8 270.6 145.3 270.7 143.8 270.8 144.5 270.9 144.2 271.0 144.6 271.2 144.9 271.3 144.2 271.4 144.5 271.5 144.5 271.6 144.0 271.8 145.1 271.9 144.5 272.0 144.2 272.1 144.0 272.2 144.1 272.4 144.2 272.5 143.9 272.6 144.7 272.7 142.8 272.8 143.0 273.0 143.9 273.1 143.1 273.2 144.1 273.3 143.8 273.4 144.5 273.6 144.4 273.7 144.9 273.8 144.8 273.9 145.0 274.0 144.6 274.2 144.9 274.3 144.6 274.4 144.1 274.5 143.8 274.6 143.9 274.8 144.7 274.9 143.3 275.0 144.5 275.1 144.1 275.2 144.8 275.4 144.5 275.5 144.0 275.6 144.4 275.7 143.2 275.8 144.5 276.0 144.6 276.1 143.4 276.2 144.8 276.3 144.4 276.4 144.5 276.6 143.8 276.7 144.8 276.8 144.9 276.9 144.6 277.0 144.1 277.2 145.0 277.3 145.2 277.4 144.8 277.5 145.1 277.6 144.4 277.8 144.7 277.9 144.9 278.0 144.8 278.1 146.1 278.2 144.9 278.4 144.4 278.5 145.2 278.6 144.3 278.7 145.0 278.8 145.3 279.0 144.7 279.1 144.8 279.2 144.5 279.3 145.0 279.4 144.6 279.6 145.8 279.7 145.3 279.8 144.9 279.9 144.4 280.0 146.1 280.2 145.7 280.3 145.3 280.4 145.2 280.5 145.1 280.6 144.8 280.8 146.0 280.9 145.1 281.0 144.3 281.1 144.6 281.2 143.6 281.4 145.1 281.5 145.1 281.6 145.5 281.7 145.6 281.8 144.2 282.0 144.8 282.1 145.0 282.2 144.9 282.3 144.3 282.4 145.0 282.6 144.9 282.7 145.4 282.8 144.8 282.9 144.7 283.0 144.7 283.2 144.8 283.3 144.7 283.4 145.0 283.5 145.5 283.6 145.6 283.8 146.1 283.9 146.0 284.0 145.8 284.1 145.0 284.2 146.0 284.4 146.3 284.5 145.1 284.6 145.2 284.7 145.3 284.8 145.3 285.0 145.6 285.1 145.4 285.2 146.0 285.3 145.2 285.4 145.7 285.6 145.5 285.7 145.2 285.8 146.1 285.9 145.6 286.0 145.8 286.2 145.4 286.3 145.9 286.4 145.8 286.5 145.5 286.6 144.7 286.8 145.9 286.9 145.8 287.0 145.6 287.1 145.7 287.2 145.6 287.4 145.7 287.5 145.1 287.6 145.6 287.7 145.8 287.8 145.4 288.0 145.2 288.1 146.6 288.2 146.0 288.3 145.6 288.4 145.6 288.6 144.6 288.7 145.2 288.8 145.7 288.9 146.4 289.0 144.9 289.2 145.6 289.3 146.7 289.4 146.2 289.5 146.1 289.6 146.5 289.8 145.9 289.9 145.8 290.0 146.3 290.1 146.3 290.2 145.5 290.4 146.6 290.5 145.1 290.6 145.6 290.7 147.4 290.8 145.8 291.0 146.3 291.1 145.6 291.2 145.9 291.3 145.8 291.4 146.0 291.6 146.5 291.7 147.0 291.8 146.6 291.9 146.9 292.0 146.0 292.2 146.9 292.3 146.5 292.4 146.8 292.5 146.0 292.6 146.0 292.8 146.7 292.9 146.3 293.0 146.1 293.1 145.7 293.2 145.9 293.4 146.2 293.5 146.3 293.6 145.7 293.7 145.8 293.8 146.2 294.0 145.5 294.1 146.4 294.2 146.0 294.3 146.1 294.4 145.1 294.6 145.5 294.7 145.7 294.8 146.0 294.9 145.8 295.0 146.4 295.2 146.3 295.3 146.1 295.4 145.4 295.5 146.8 295.6 146.1 295.8 146.4 295.9 145.9 296.0 146.2 296.1 146.5 296.2 146.3 296.4 146.6 296.5 146.1 296.6 147.1 296.7 145.4 296.8 146.0 297.0 146.7 297.1 146.2 297.2 146.1 297.3 145.5 297.4 146.8 297.6 145.5 297.7 146.5 297.8 146.4 297.9 146.7 298.0 147.0 298.2 146.1 298.3 146.1 298.4 146.4 298.5 145.9 298.6 147.0 298.8 146.5 298.9 146.8 299.0 146.3 299.1 146.8 299.2 146.6 299.4 146.8 299.5 146.4 299.6 147.3 299.7 146.6 299.8 145.8 300.0 147.1 300.1 146.7 300.2 146.5 300.3 148.0 300.4 146.9 300.6 146.4 300.7 146.7 300.8 147.2 300.9 147.0 301.0 147.6 301.2 147.5 301.3 146.8 301.4 147.1 301.5 147.4 301.6 146.9 301.8 146.9 301.9 147.5 302.0 147.3 302.1 146.5 302.2 146.9 302.4 146.9 302.5 147.0 302.6 146.8 302.7 147.7 302.8 146.7 303.0 146.6 303.1 147.2 303.2 146.1 303.3 146.6 303.4 147.4 303.6 146.5 303.7 146.7 303.8 147.6 303.9 147.3 304.0 147.2 304.2 147.3 304.3 146.9 304.4 147.3 304.5 147.1 304.6 148.3 304.8 147.4 304.9 147.1 305.0 147.2 305.1 147.3 305.2 146.7 305.4 147.0 305.5 148.0 305.6 146.7 305.7 147.1 305.8 147.7 306.0 147.9 306.1 146.9 306.2 147.9 306.3 147.1 306.4 148.0 306.6 147.4 306.7 147.0 306.8 147.4 306.9 147.3 307.0 146.7 307.2 148.0 307.3 146.9 307.4 147.6 307.5 146.9 307.6 146.3 307.8 146.6 307.9 147.0 308.0 147.4 308.1 147.9 308.2 147.2 308.4 147.0 308.5 146.6 308.6 147.1 308.7 147.3 308.8 146.2 309.0 147.8 309.1 147.7 309.2 148.2 309.3 146.8 309.4 147.3 309.6 147.3 309.7 146.7 309.8 146.9 309.9 146.9 310.0 147.6 310.2 147.5 310.3 147.9 310.4 147.2 310.5 146.8 310.6 147.6 310.8 147.6 310.9 147.7 311.0 147.9 311.1 147.1 311.2 147.7 311.4 146.9 311.5 147.3 311.6 147.5 311.7 147.2 311.8 147.3 312.0 146.6 312.1 146.9 312.2 147.3 312.3 146.7 312.4 146.9 312.6 148.3 312.7 147.4 312.8 147.0 312.9 146.9 313.0 147.9 313.2 146.1 313.3 147.1 313.4 147.5 313.5 147.0 313.6 147.4 313.8 146.7 313.9 147.2 314.0 147.2 314.1 147.2 314.2 147.3 314.4 147.3 314.5 147.8 314.6 147.2 314.7 147.1 314.8 147.3 315.0 147.3 315.1 146.9 315.2 146.8 315.3 147.0 315.4 147.8 315.6 147.4 315.7 147.5 315.8 148.9 315.9 148.1 316.0 147.5 316.2 147.3 316.3 148.2 316.4 147.2 316.5 148.1 316.6 147.9 316.8 148.2 316.9 147.3 317.0 148.1 317.1 146.9 317.2 147.7 317.4 148.2 317.5 148.1 317.6 147.0 317.7 148.1 317.8 148.0 318.0 147.8 318.1 147.6 318.2 147.8 318.3 147.7 318.4 148.4 318.6 148.3 318.7 148.5 318.8 148.4 318.9 147.6 319.0 148.2 319.2 149.1 319.3 147.7 319.4 148.3 319.5 147.9 319.6 147.8 319.8 148.3 319.9 148.6 320.0 148.5 320.1 148.3 320.2 148.5 320.4 147.4 320.5 148.4 320.6 148.2 320.7 147.9 320.8 148.0 321.0 147.6 321.1 148.5 321.2 147.7 321.3 147.4 321.4 148.1 321.6 147.8 321.7 148.1 321.8 148.8 321.9 148.2 322.0 148.3 322.2 149.2 322.3 147.7 322.4 148.5 322.5 148.8 322.6 149.0 322.8 149.3 322.9 148.1 323.0 148.6 323.1 148.2 323.2 148.1 323.4 147.9 323.5 147.6 323.6 148.3 323.7 148.4 323.8 147.6 324.0 148.4 324.1 147.8 324.2 147.5 324.3 146.8 324.4 148.4 324.6 148.3 324.7 147.8 324.8 147.8 324.9 147.4 325.0 148.2 325.2 148.0 325.3 148.4 325.4 148.3 325.5 147.6 325.6 147.6 325.8 148.5 325.9 147.6 326.0 148.5 326.1 148.8 326.2 147.8 326.4 148.7 326.5 148.4 326.6 148.6 326.7 148.0 326.8 148.2 327.0 148.3 327.1 148.9 327.2 148.5 327.3 148.4 327.4 147.6 327.6 148.3 327.7 147.8 327.8 148.1 327.9 148.2 328.0 148.6 328.2 148.4 328.3 148.2 328.4 148.1 328.5 148.7 328.6 147.8 328.8 148.2 328.9 148.8 329.0 148.1 329.1 148.6 329.2 148.6 329.4 149.1 329.5 148.7 329.6 147.5 329.7 148.2 329.8 148.4 330.0 148.6 330.1 148.4 330.2 149.1 330.3 148.8 330.4 147.9 330.6 148.1 330.7 147.6 330.8 149.2 330.9 148.4 331.0 148.5 331.2 147.9 331.3 148.3 331.4 148.7 331.5 148.3 331.6 148.3 331.8 148.2 331.9 149.4 332.0 148.3 332.1 147.9 332.2 148.3 332.4 148.4 332.5 148.5 332.6 148.5 332.7 148.1 332.8 148.5 333.0 148.7 333.1 147.9 333.2 149.4 333.3 149.2 333.4 147.7 333.6 148.3 333.7 148.9 333.8 149.1 333.9 149.3 334.0 147.7 334.2 148.1 334.3 148.4 334.4 148.9 334.5 148.2 334.6 148.9 334.8 148.9 334.9 149.1 335.0 148.2 335.1 148.9 335.2 148.9 335.4 148.7 335.5 149.4 335.6 148.8 335.7 149.5 335.8 148.7 336.0 149.7 336.1 149.7 336.2 148.6 336.3 149.2 336.4 149.2 336.6 148.6 336.7 149.4 336.8 149.3 336.9 148.6 337.0 149.0 337.2 149.3 337.3 148.9 337.4 148.6 337.5 149.7 337.6 148.5 337.8 149.1 337.9 149.4 338.0 149.3 338.1 148.1 338.2 148.8 338.4 148.9 338.5 148.9 338.6 149.3 338.7 149.2 338.8 149.0 339.0 149.1 339.1 149.4 339.2 149.5 339.3 148.2 339.4 150.0 339.6 148.8 339.7 149.4 339.8 148.3 339.9 148.9 340.0 148.5 340.2 149.6 340.3 149.5 340.4 149.2 340.5 149.1 340.6 149.4 340.8 148.8 340.9 148.9 341.0 148.9 341.1 149.5 341.2 149.2 341.4 148.5 341.5 149.2 341.6 149.2 341.7 149.6 341.8 148.7 342.0 149.0 342.1 149.7 342.2 148.6 342.3 148.6 342.4 148.9 342.6 148.4 342.7 148.6 342.8 148.3 342.9 148.2 343.0 148.9 343.2 148.4 343.3 148.1 343.4 148.4 343.5 148.4 343.6 148.6 343.8 148.9 343.9 149.3 344.0 148.0 344.1 148.4 344.2 147.7 344.4 148.6 344.5 148.7 344.6 148.2 344.7 148.1 344.8 148.1 345.0 147.9 345.1 148.8 345.2 149.3 345.3 148.0 345.4 149.2 345.6 148.4" stroke="#008a10"/>
<path d="M23.0 160.1L23.1 160.7 23.2 162.7 23.4 161.8 23.5 159.4 23.6 161.3 23.7 160.7 23.8 161.6 24.0 159.7 24.1 161.8 24.2 161.8 24.3 163.2 24.4 161.9 24.6 162.1 24.7 160.0 24.8 164.0 24.9 159.6 25.0 162.9 25.2 161.4 25.3 160.9 25.4 161.2 25.5 161.3 25.6 162.5 25.8 162.0 25.9 163.8 26.0 160.3 26.1 162.2 26.2 161.3 26.4 163.0 26.5 159.9 26.6 161.7 26.7 162.2 26.8 160.4 27.0 163.0 27.1 162.1 27.2 162.9 27.3 162.8 27.4 160.7 27.6 160.8 27.7 161.4 27.8 162.3 27.9 162.4 28.0 160.7 28.2 160.8 28.3 160.6 28.4 160.9 28.5 161.4 28.6 161.5 28.8 163.9 28.9 161.2 29.0 161.5 29.1 162.3 29.2 160.9 29.4 161.6 29.5 162.1 29.6 162.9 29.7 160.8 29.8 163.8 30.0 162.1 30.1 162.8 30.2 163.6 30.3 163.5 30.4 164.0 30.6 163.0 30.7 162.9 30.8 163.2 30.9 161.8 31.0 164.1 31.2 162.0 31.3 161.5 31.4 165.0 31.5 162.6 31.6 161.4 31.8 164.6 31.9 162.2 32.0 163.6 32.1 161.6 32.2 162.2 32.4 160.6 32.5 160.5 32.6 161.5 32.7 162.5 32.8 163.5 33.0 165.2 33.1 161.7 33.2 163.8 33.3 162.2 33.4 162.7 33.6 161.3 33.7 161.4 33.8 162.1 33.9 161.7 34.0 162.9 34.2 162.2 34.3 164.2 34.4 163.1 34.5 163.1 34.6 164.1 34.8 163.4 34.9 162.9 35.0 162.7 35.1 162.7 35.2 163.9 35.4 163.6 35.5 163.1 35.6 163.6 35.7 162.2 35.8 163.3 36.0 161.3 36.1 164.2 36.2 162.8 36.3 162.8 36.4 163.2 36.6 162.4 36.7 162.0 36.8 163.5 36.9 162.3 37.0 161.2 37.2 162.5 37.3 160.2 37.4 163.6 37.5 161.6 37.6 161.8 37.8 164.1 37.9 164.0 38.0 161.9 38.1 162.6 38.2 163.2 38.4 163.9 38.5 162.1 38.6 162.5 38.7 163.7 38.8 162.9 39.0 163.5 39.1 163.5 39.2 161.8 39.3 162.1 39.4 160.4 39.6 163.0 39.7 164.7 39.8 162.3 39.9 164.8 40.0 164.7 40.2 163.7 40.3 163.8 40.4 164.1 40.5 163.3 40.6 164.0 40.8 164.3 40.9 165.1 41.0 165.4 41.1 163.9 41.2 165.6 41.4 164.0 41.5 164.7 41.6 165.3 41.7 165.0 41.8 164.8 42.0 165.2 42.1 164.3 42.2 164.2 42.3 164.6 42.4 165.7 42.6 164.5 42.7 166.6 42.8 164.7 42.9 161.4 43.0 163.9 43.2 165.9 43.3 164.2 43.4 163.7 43.5 163.2 43.6 165.5 43.8 165.1 43.9 164.9 44.0 164.6 44.1 165.7 44.2 165.1 44.4 163.1 44.5 165.2 44.6 164.7 44.7 164.5 44.8 165.4 45.0 164.8 45.1 161.8 45.2 166.5 45.3 166.1 45.4 164.9 45.6 164.6 45.7 165.2 45.8 163.7 45.9 165.3 46.0 164.7 46.2 164.4 46.3 163.8 46.4 164.0 46.5 165.7 46.6 165.9 46.8 165.0 46.9 164.4 47.0 163.4 47.1 164.9 47.2 165.8 47.4 162.5 47.5 165.3 47.6 162.0 47.7 163.7 47.8 164.5 48.0 162.8 48.1 162.6 48.2 164.3 48.3 165.1 48.4 163.7 48.6 165.4 48.7 163.2 48.8 165.8 48.9 164.0 49.0 164.1 49.2 164.5 49.3 164.2 49.4 165.7 49.5 166.1 49.6 164.3 49.8 163.6 49.9 162.6 50.0 163.0 50.1 163.8 50.2 163.6 50.4 163.7 50.5 163.8 50.6 164.2 50.7 162.4 50.8 162.7 51.0 164.9 51.1 164.7 51.2 163.4 51.3 165.3 51.4 163.4 51.6 163.8 51.7 162.2 51.8 164.9 51.9 164.1 52.0 165.1 52.2 164.8 52.3 164.2 52.4 164.2 52.5 165.0 52.6 163.6 52.8 163.5 52.9 163.6 53.0 164.3 53.1 164.3 53.2 165.1 53.4 163.0 53.5 164.2 53.6 162.2 53.7 163.3 53.8 162.8 54.0 164.3 54.1 163.2 54.2 162.1 54.3 163.1 54.4 162.9 54.6 162.4 54.7 162.5 54.8 162.0 54.9 165.8 55.0 163.3 55.2 164.3 55.3 162.3 55.4 162.5 55.5 163.4 55.6 163.4 55.8 164.4 55.9 162.6 56.0 164.1 56.1 165.1 56.2 162.6 56.4 164.4 56.5 162.5 56.6 163.8 56.7 163.8 56.8 165.2 57.0 162.8 57.1 163.6 57.2 164.5 57.3 162.3 57.4 163.5 57.6 162.8 57.7 163.0 57.8 164.4 57.9 164.5 58.0 166.4 58.2 165.3 58.3 165.3 58.4 163.9 58.5 163.8 58.6 164.3 58.8 162.0 58.9 165.9 59.0 163.6 59.1 163.2 59.2 163.7 59.4 165.0 59.5 165.3 59.6 163.6 59.7 164.3 59.8 163.8 60.0 162.7 60.1 163.7 60.2 163.5 60.3 161.9 60.4 164.4 60.6 161.8 60.7 163.6 60.8 162.3 60.9 162.6 61.0 162.7 61.2 164.0 61.3 162.1 61.4 163.1 61.5 164.9 61.6 162.7 61.8 163.3 61.9 164.0 62.0 162.8 62.1 163.9 62.2 162.8 62.4 164.1 62.5 163.4 62.6 162.4 62.7 164.6 62.8 163.2 63.0 162.8 63.1 162.1 63.2 162.4 63.3 162.7 63.4 162.9 63.6 163.6 63.7 161.1 63.8 162.0 63.9 163.4 64.0 162.3 64.2 162.6 64.3 163.7 64.4 162.5 64.5 162.7 64.6 162.2 64.8 164.1 64.9 163.4 65.0 161.9 65.1 163.2 65.2 161.7 65.4 164.0 65.5 163.7 65.6 163.0 65.7 162.8 65.8 161.5 66.0 164.1 66.1 163.4 66.2 163.3 66.3 164.3 66.4 163.1 66.6 163.2 66.7 163.2 66.8 162.7 66.9 166.4 67.0 164.0 67.2 163.9 67.3 165.2 67.4 161.3 67.5 164.4 67.6 164.3 67.8 163.4 67.9 164.7 68.0 162.3 68.1 164.2 68.2 165.0 68.4 162.0 68.5 162.6 68.6 163.9 68.7 164.0 68.8 163.3 69.0 164.2 69.1 164.0 69.2 162.4 69.3 163.5 69.4 162.3 69.6 161.5 69.7 161.1 69.8 164.2 69.9 163.0 70.0 164.9 70.2 161.5 70.3 162.5 70.4 163.0 70.5 162.5 70.6 163.0 70.8 162.6 70.9 161.8 71.0 160.0 71.1 161.2 71.2 163.7 71.4 162.7 71.5 163.3 71.6 161.4 71.7 161.7 71.8 160.9 72.0 162.1 72.1 161.7 72.2 162.0 72.3 163.2 72.4 160.7 72.6 162.2 72.7 160.2 72.8 162.6 72.9 161.3 73.0 161.7 73.2 162.0 73.3 163.6 73.4 162.1 73.5 161.8 73.6 161.2 73.8 162.7 73.9 161.8 74.0 162.2 74.1 162.8 74.2 163.5 74.4 162.3 74.5 163.7 74.6 164.7 74.7 161.7 74.8 164.4 75.0 165.2 75.1 162.6 75.2 163.8 75.3 161.8 75.4 163.4 75.6 162.7 75.7 163.3 75.8 162.0 75.9 162.1 76.0 162.4 76.2 162.1 76.3 162.1 76.4 162.5 76.5 161.6 76.6 162.5 76.8 163.1 76.9 160.5 77.0 162.8 77.1 162.0 77.2 161.7 77.4 161.4 77.5 161.9 77.6 162.0 77.7 162.9 77.8 161.4 78.0 163.4 78.1 161.6 78.2 162.9 78.3 163.2 78.4 161.0 78.6 163.0 78.7 163.9 78.8 161.3 78.9 162.2 79.0 161.5 79.2 161.6 79.3 161.3 79.4 161.0 79.5 162.0 79.6 162.1 79.8 161.2 79.9 162.6 80.0 162.1 80.1 161.6 80.2 160.2 80.4 162.5 80.5 161.9 80.6 158.7 80.7 159.6 80.8 160.1 81.0 161.4 81.1 161.7 81.2 160.3 81.3 160.9 81.4 161.4 81.6 159.7 81.7 161.5 81.8 160.8 81.9 161.4 82.0 161.3 82.2 160.3 82.3 160.6 82.4 161.6 82.5 161.7 82.6 161.4 82.8 162.6 82.9 161.3 83.0 160.5 83.1 161.4 83.2 161.5 83.4 161.6 83.5 162.8 83.6 162.3 83.7 162.8 83.8 162.4 84.0 161.7 84.1 162.8 84.2 161.6 84.3 162.1 84.4 160.9 84.6 161.8 84.7 161.3 84.8 161.9 84.9 163.1 85.0 163.6 85.2 162.3 85.3 161.3 85.4 162.1 85.5 161.5 85.6 160.8 85.8 161.2 85.9 161.1 86.0 160.8 86.1 162.7 86.2 161.0 86.4 161.1 86.5 162.2 86.6 161.0 86.7 160.7 86.8 161.0 87.0 162.3 87.1 162.3 87.2 162.2 87.3 161.6 87.4 161.3 87.6 162.9 87.7 160.9 87.8 162.0 87.9 161.0 88.0 161.8 88.2 161.9 88.3 163.1 88.4 159.4 88.5 163.1 88.6 160.9 88.8 162.0 88.9 162.3 89.0 160.8 89.1 161.4 89.2 161.9 89.4 161.2 89.5 160.6 89.6 161.5 89.7 161.4 89.8 160.0 90.0 162.6 90.1 161.6 90.2 159.2 90.3 160.6 90.4 163.0 90.6 162.8 90.7 161.6 90.8 159.8 90.9 161.1 91.0 162.1 91.2 161.5 91.3 160.7 91.4 160.3 91.5 161.7 91.6 160.7 91.8 161.2 91.9 161.4 92.0 162.4 92.1 161.1 92.2 161.3 92.4 159.5 92.5 162.1 92.6 162.0 92.7 161.2 92.8 159.2 93.0 160.8 93.1 161.4 93.2 163.2 93.3 161.9 93.4 162.0 93.6 162.0 93.7 162.5 93.8 160.2 93.9 160.4 94.0 160.0 94.2 160.8 94.3 160.7 94.4 161.1 94.5 160.1 94.6 161.1 94.8 160.4 94.9 163.0 95.0 160.6 95.1 163.4 95.2 162.6 95.4 160.2 95.5 162.0 95.6 161.8 95.7 159.9 95.8 161.8 96.0 161.2 96.1 161.6 96.2 160.5 96.3 161.2 96.4 161.6 96.6 161.0 96.7 160.6 96.8 160.9 96.9 160.2 97.0 161.3 97.2 158.7 97.3 162.3 97.4 161.0 97.5 161.4 97.6 161.8 97.8 160.0 97.9 163.2 98.0 160.2 98.1 161.7 98.2 161.7 98.4 162.6 98.5 161.5 98.6 160.3 98.7 161.8 98.8 159.4 99.0 161.4 99.1 161.1 99.2 162.8 99.3 161.1 99.4 160.9 99.6 160.4 99.7 160.3 99.8 160.4 99.9 161.3 100.0 159.6 100.2 160.5 100.3 159.3 100.4 160.5 100.5 160.8 100.6 159.6 100.8 160.3 100.9 161.0 101.0 161.7 101.1 162.0 101.2 161.2 101.4 160.5 101.5 160.0 101.6 162.3 101.7 162.9 101.8 162.1 102.0 163.2 102.1 161.5 102.2 161.6 102.3 163.3 102.4 161.0 102.6 162.5 102.7 162.3 102.8 162.1 102.9 163.5 103.0 161.2 103.2 161.7 103.3 160.3 103.4 161.3 103.5 161.8 103.6 161.9 103.8 162.2 103.9 162.6 104.0 161.8 104.1 160.6 104.2 162.5 104.4 162.8 104.5 161.4 104.6 161.7 104.7 164.0 104.8 163.3 105.0 163.4 105.1 163.1 105.2 162.6 105.3 162.1 105.4 163.0 105.6 162.4 105.7 162.2 105.8 162.6 105.9 162.5 106.0 163.4 106.2 161.9 106.3 164.9 106.4 161.9 106.5 162.5 106.6 163.7 106.8 162.2 106.9 162.6 107.0 163.1 107.1 160.7 107.2 162.9 107.4 162.7 107.5 163.5 107.6 164.3 107.7 164.5 107.8 165.4 108.0 165.4 108.1 165.1 108.2 164.2 108.3 165.1 108.4 163.4 108.6 164.1 108.7 165.4 108.8 164.7 108.9 162.8 109.0 163.4 109.2 164.5 109.3 164.2 109.4 164.6 109.5 162.1 109.6 162.5 109.8 163.3 109.9 162.7 110.0 163.5 110.1 163.6 110.2 164.0 110.4 163.7 110.5 164.4 110.6 164.8 110.7 164.3 110.8 163.2 111.0 165.3 111.1 164.3 111.2 164.5 111.3 164.3 111.4 162.7 111.6 164.5 111.7 163.4 111.8 162.9 111.9 165.0 112.0 163.7 112.2 164.2 112.3 164.7 112.4 165.4 112.5 162.6 112.6 163.6 112.8 165.0 112.9 164.0 113.0 162.0 113.1 165.0 113.2 165.3 113.4 165.9 113.5 165.5 113.6 165.1 113.7 165.7 113.8 165.6 114.0 165.2 114.1 165.8 114.2 165.9 114.3 164.8 114.4 166.5 114.6 166.3 114.7 166.3 114.8 163.4 114.9 165.9 115.0 165.8 115.2 165.1 115.3 166.5 115.4 164.8 115.5 167.2 115.6 166.5 115.8 165.8 115.9 167.4 116.0 166.6 116.1 166.5 116.2 165.1 116.4 166.6 116.5 167.3 116.6 167.0 116.7 165.0 116.8 167.2 117.0 167.4 117.1 166.8 117.2 165.8 117.3 165.0 117.4 165.6 117.6 166.0 117.7 166.8 117.8 167.2 117.9 166.2 118.0 165.6 118.2 166.7 118.3 166.0 118.4 168.3 118.5 166.2 118.6 167.7 118.8 168.1 118.9 166.6 119.0 168.2 119.1 167.3 119.2 166.8 119.4 166.6 119.5 167.5 119.6 168.3 119.7 165.9 119.8 167.9 120.0 167.3 120.1 166.7 120.2 167.3 120.3 167.4 120.4 167.4 120.6 168.1 120.7 166.7 120.8 169.1 120.9 168.1 121.0 166.9 121.2 165.8 121.3 167.3 121.4 167.0 121.5 167.9 121.6 167.8 121.8 168.8 121.9 167.0 122.0 167.7 122.1 166.7 122.2 166.8 122.4 168.3 122.5 167.0 122.6 167.1 122.7 167.0 122.8 167.7 123.0 168.0 123.1 167.6 123.2 166.8 123.3 168.2 123.4 167.4 123.6 168.0 123.7 168.6 123.8 168.8 123.9 166.8 124.0 170.2 124.2 169.6 124.3 170.7 124.4 171.3 124.5 168.5 124.6 168.9 124.8 169.6 124.9 170.2 125.0 169.0 125.1 169.1 125.2 170.2 125.4 168.6 125.5 169.4 125.6 170.1 125.7 168.9 125.8 169.7 126.0 168.9 126.1 167.7 126.2 168.5 126.3 168.8 126.4 168.7 126.6 168.9 126.7 169.3 126.8 169.2 126.9 169.2 127.0 168.7 127.2 168.9 127.3 168.9 127.4 168.7 127.5 170.4 127.6 167.9 127.8 169.7 127.9 168.3 128.0 169.2 128.1 170.5 128.2 169.8 128.4 171.3 128.5 169.5 128.6 170.1 128.7 169.9 128.8 170.5 129.0 170.3 129.1 170.4 129.2 170.8 129.3 171.7 129.4 171.1 129.6 171.1 129.7 170.8 129.8 170.6 129.9 170.0 130.0 170.3 130.2 171.2 130.3 169.6 130.4 171.6 130.5 170.6 130.6 170.2 130.8 170.5 130.9 171.3 131.0 171.1 131.1 170.9 131.2 172.0 131.4 172.4 131.5 169.5 131.6 171.2 131.7 169.9 131.8 169.4 132.0 170.2 132.1 171.5 132.2 170.6 132.3 170.5 132.4 172.2 132.6 171.5 132.7 171.2 132.8 172.9 132.9 171.9 133.0 171.0 133.2 170.8 133.3 171.4 133.4 171.9 133.5 172.6 133.6 172.5 133.8 172.0 133.9 171.0 134.0 172.7 134.1 172.1 134.2 171.2 134.4 171.1 134.5 172.3 134.6 172.5 134.7 173.0 134.8 171.4 135.0 174.1 135.1 171.3 135.2 172.9 135.3 174.1 135.4 174.1 135.6 172.8 135.7 174.1 135.8 174.7 135.9 174.4 136.0 173.2 136.2 175.4 136.3 172.9 136.4 174.3 136.5 173.4 136.6 174.0 136.8 174.1 136.9 174.8 137.0 173.4 137.1 174.5 137.2 175.4 137.4 174.5 137.5 174.9 137.6 174.9 137.7 174.0 137.8 174.3 138.0 174.7 138.1 175.0 138.2 176.2 138.3 175.9 138.4 174.3 138.6 174.3 138.7 173.9 138.8 172.9 138.9 175.7 139.0 175.1 139.2 173.2 139.3 174.8 139.4 176.6 139.5 175.2 139.6 175.3 139.8 175.1 139.9 174.4 140.0 174.2 140.1 174.4 140.2 175.3 140.4 174.9 140.5 175.7 140.6 176.5 140.7 175.5 140.8 175.8 141.0 174.8 141.1 174.1 141.2 176.8 141.3 175.6 141.4 176.0 141.6 174.8 141.7 173.9 141.8 176.2 141.9 173.6 142.0 175.3 142.2 175.1 142.3 175.8 142.4 176.4 142.5 176.5 142.6 174.3 142.8 176.7 142.9 174.6 143.0 176.7 143.1 175.9 143.2 175.5 143.4 176.1 143.5 175.6 143.6 176.8 143.7 177.6 143.8 177.5 144.0 177.0 144.1 177.9 144.2 177.5 144.3 178.8 144.4 177.6 144.6 176.8 144.7 177.1 144.8 176.8 144.9 177.2 145.0 177.4 145.2 178.1 145.3 178.2 145.4 177.8 145.5 178.1 145.6 177.2 145.8 177.4 145.9 175.9 146.0 177.2 146.1 177.5 146.2 179.9 146.4 176.9 146.5 178.0 146.6 177.7 146.7 176.7 146.8 178.2 147.0 178.0 147.1 176.9 147.2 176.2 147.3 177.9 147.4 176.9 147.6 178.5 147.7 177.9 147.8 178.6 147.9 178.0 148.0 179.6 148.2 179.1 148.3 179.8 148.4 178.9 148.5 178.1 148.6 178.0 148.8 178.8 148.9 179.6 149.0 179.0 149.1 181.5 149.2 179.6 149.4 180.1 149.5 180.0 149.6 179.0 149.7 180.9 149.8 180.6 150.0 180.8 150.1 179.4 150.2 180.2 150.3 180.2 150.4 181.1 150.6 179.2 150.7 180.7 150.8 181.1 150.9 179.8 151.0 179.4 151.2 181.0 151.3 180.1 151.4 180.7 151.5 180.3 151.6 180.4 151.8 179.5 151.9 178.0 152.0 180.1 152.1 179.1 152.2 180.0 152.4 179.2 152.5 180.9 152.6 179.5 152.7 180.3 152.8 180.6 153.0 179.7 153.1 180.1 153.2 179.8 153.3 179.1 153.4 181.0 153.6 179.2 153.7 178.7 153.8 179.5 153.9 180.0 154.0 180.0 154.2 179.8 154.3 179.8 154.4 178.6 154.5 180.7 154.6 181.6 154.8 179.8 154.9 179.0 155.0 180.9 155.1 180.3 155.2 177.5 155.4 179.9 155.5 179.4 155.6 179.6 155.7 182.0 155.8 181.2 156.0 180.3 156.1 180.5 156.2 181.7 156.3 179.7 156.4 181.2 156.6 180.2 156.7 181.4 156.8 181.0 156.9 180.3 157.0 181.7 157.2 181.2 157.3 182.2 157.4 180.5 157.5 180.9 157.6 180.2 157.8 181.6 157.9 180.0 158.0 180.5 158.1 181.4 158.2 180.8 158.4 180.7 158.5 180.7 158.6 180.7 158.7 181.0 158.8 180.4 159.0 179.2 159.1 181.7 159.2 180.0 159.3 182.3 159.4 181.2 159.6 183.5 159.7 182.1 159.8 181.6 159.9 182.1 160.0 180.5 160.2 181.7 160.3 181.4 160.4 181.7 160.5 180.2 160.6 180.2 160.8 182.4 160.9 181.9 161.0 181.6 161.1 181.8 161.2 181.4 161.4 181.6 161.5 182.4 161.6 181.7 161.7 182.4 161.8 181.3 162.0 180.6 162.1 181.5 162.2 181.9 162.3 181.2 162.4 181.8 162.6 181.7 162.7 182.8 162.8 182.8 162.9 183.0 163.0 181.7 163.2 182.5 163.3 183.2 163.4 182.4 163.5 182.2 163.6 181.8 163.8 183.0 163.9 182.5 164.0 183.1 164.1 182.3 164.2 184.0 164.4 182.6 164.5 181.7 164.6 182.8 164.7 183.0 164.8 183.6 165.0 182.2 165.1 182.1 165.2 182.3 165.3 182.2 165.4 180.9 165.6 182.9 165.7 183.2 165.8 181.7 165.9 181.5 166.0 182.0 166.2 181.5 166.3 182.7 166.4 181.6 166.5 182.5 166.6 181.2 166.8 181.1 166.9 181.0 167.0 181.2 167.1 182.5 167.2 182.9 167.4 182.4 167.5 182.6 167.6 180.8 167.7 183.3 167.8 181.7 168.0 183.5 168.1 184.4 168.2 182.8 168.3 183.3 168.4 183.3 168.6 182.0 168.7 182.2 168.8 182.6 168.9 183.3 169.0 183.9 169.2 183.4 169.3 184.2 169.4 183.1 169.5 182.4 169.6 183.5 169.8 183.5 169.9 182.6 170.0 184.4 170.1 183.0 170.2 183.2 170.4 183.9 170.5 182.9 170.6 184.2 170.7 184.0 170.8 184.0 171.0 183.6 171.1 183.3 171.2 183.0 171.3 183.7 171.4 184.4 171.6 184.0 171.7 183.7 171.8 184.1 171.9 184.3 172.0 182.5 172.2 183.3 172.3 184.2 172.4 182.9 172.5 183.0 172.6 183.8 172.8 183.2 172.9 184.2 173.0 183.1 173.1 183.8 173.2 185.1 173.4 184.2 173.5 182.5 173.6 182.8 173.7 182.8 173.8 183.5 174.0 182.6 174.1 184.1 174.2 185.0 174.3 184.9 174.4 183.3 174.6 183.7 174.7 183.6 174.8 183.3 174.9 185.1 175.0 183.5 175.2 183.2 175.3 184.3 175.4 184.3 175.5 185.2 175.6 185.3 175.8 184.1 175.9 182.9 176.0 184.9 176.1 185.0 176.2 185.7 176.4 183.3 176.5 183.6 176.6 185.5 176.7 185.5 176.8 185.2 177.0 184.3 177.1 185.2 177.2 183.8 177.3 183.3 177.4 184.1 177.6 184.2 177.7 184.7 177.8 184.8 177.9 182.9 178.0 184.3 178.2 184.5 178.3 183.4 178.4 184.0 178.5 184.2 178.6 184.4 178.8 183.5 178.9 183.7 179.0 183.3 179.1 184.2 179.2 183.7 179.4 183.6 179.5 184.4 179.6 183.8 179.7 183.1 179.8 184.7 180.0 184.6 180.1 184.2 180.2 183.2 180.3 184.7 180.4 183.6 180.6 182.7 180.7 183.9 180.8 185.2 180.9 183.6 181.0 184.3 181.2 184.9 181.3 184.1 181.4 183.7 181.5 183.9 181.6 184.3 181.8 183.6 181.9 184.2 182.0 184.3 182.1 183.7 182.2 184.5 182.4 184.3 182.5 183.8 182.6 183.9 182.7 184.1 182.8 183.9 183.0 183.9 183.1 183.4 183.2 184.1 183.3 184.5 183.4 184.5 183.6 183.6 183.7 184.5 183.8 184.6 183.9 183.7 184.0 184.7 184.2 184.3 184.3 184.3 184.4 184.8 184.5 184.6 184.6 183.4 184.8 185.1 184.9 184.4 185.0 185.2 185.1 185.7 185.2 185.2 185.4 185.1 185.5 185.5 185.6 185.7 185.7 184.8 185.8 184.9 186.0 185.6 186.1 186.3 186.2 185.1 186.3 185.7 186.4 184.6 186.6 185.1 186.7 185.1 186.8 184.3 186.9 185.1 187.0 185.1 187.2 183.6 187.3 185.2 187.4 185.5 187.5 185.5 187.6 185.6 187.8 184.8 187.9 185.0 188.0 185.4 188.1 185.0 188.2 185.2 188.4 186.3 188.5 184.9 188.6 185.2 188.7 186.6 188.8 185.3 189.0 184.7 189.1 185.4 189.2 185.3 189.3 185.2 189.4 184.0 189.6 185.2 189.7 185.2 189.8 186.2 189.9 185.3 190.0 184.6 190.2 185.0 190.3 185.3 190.4 184.8 190.5 184.8 190.6 185.7 190.8 185.2 190.9 185.2 191.0 184.3 191.1 185.2 191.2 183.7 191.4 185.7 191.5 184.7 191.6 185.4 191.7 185.9 191.8 184.3 192.0 185.8 192.1 185.2 192.2 185.8 192.3 184.9 192.4 184.7 192.6 186.0 192.7 185.4 192.8 185.1 192.9 184.3 193.0 185.8 193.2 184.8 193.3 184.8 193.4 184.5 193.5 185.0 193.6 185.3 193.8 184.9 193.9 184.9 194.0 184.7 194.1 186.0 194.2 186.1 194.4 185.0 194.5 184.7 194.6 185.4 194.7 184.3 194.8 185.5 195.0 185.5 195.1 185.5 195.2 186.4 195.3 186.5 195.4 185.7 195.6 185.1 195.7 186.0 195.8 186.1 195.9 184.6 196.0 184.9 196.2 185.2 196.3 184.4 196.4 184.7 196.5 186.4 196.6 184.7 196.8 186.0 196.9 185.0 197.0 186.1 197.1 185.7 197.2 186.1 197.4 184.6 197.5 185.6 197.6 185.1 197.7 185.9 197.8 185.9 198.0 185.6 198.1 185.4 198.2 185.5 198.3 185.7 198.4 185.2 198.6 185.3 198.7 185.2 198.8 185.0 198.9 186.3 199.0 184.9 199.2 186.5 199.3 186.2 199.4 184.8 199.5 184.7 199.6 185.9 199.8 185.2 199.9 186.0 200.0 186.4 200.1 186.0 200.2 185.7 200.4 185.7 200.5 186.7 200.6 185.6 200.7 186.8 200.8 187.0 201.0 185.5 201.1 185.9 201.2 186.8 201.3 185.3 201.4 186.0 201.6 186.4 201.7 185.2 201.8 186.0 201.9 185.9 202.0 185.5 202.2 186.7 202.3 185.7 202.4 187.2 202.5 186.2 202.6 185.4 202.8 186.0 202.9 185.4 203.0 186.4 203.1 186.3 203.2 185.3 203.4 185.8 203.5 186.4 203.6 186.3 203.7 185.7 203.8 187.0 204.0 187.3 204.1 185.6 204.2 187.4 204.3 185.3 204.4 186.5 204.6 186.2 204.7 186.3 204.8 186.7 204.9 185.9 205.0 186.6 205.2 187.6 205.3 186.9 205.4 187.5 205.5 187.1 205.6 185.6 205.8 187.6 205.9 187.1 206.0 187.0 206.1 186.4 206.2 186.3 206.4 186.0 206.5 186.5 206.6 186.7 206.7 186.5 206.8 186.5 207.0 185.5 207.1 186.1 207.2 186.1 207.3 186.7 207.4 186.3 207.6 186.4 207.7 186.7 207.8 186.5 207.9 186.7 208.0 187.6 208.2 187.0 208.3 186.6 208.4 187.6 208.5 187.8 208.6 187.8 208.8 186.8 208.9 188.1 209.0 187.7 209.1 187.7 209.2 187.7 209.4 187.9 209.5 187.9 209.6 188.4 209.7 187.7 209.8 187.5 210.0 187.9 210.1 187.4 210.2 188.0 210.3 187.5 210.4 187.8 210.6 187.0 210.7 187.9 210.8 187.6 210.9 186.8 211.0 187.0 211.2 187.3 211.3 186.5 211.4 186.6 211.5 187.5 211.6 187.5 211.8 188.0 211.9 186.5 212.0 187.0 212.1 186.1 212.2 188.3 212.4 186.6 212.5 187.3 212.6 188.5 212.7 188.3 212.8 187.1 213.0 188.9 213.1 187.9 213.2 187.0 213.3 187.8 213.4 188.0 213.6 187.9 213.7 186.3 213.8 188.5 213.9 186.6 214.0 187.3 214.2 188.2 214.3 187.6 214.4 187.4 214.5 187.0 214.6 187.7 214.8 188.2 214.9 187.2 215.0 187.7 215.1 187.3 215.2 187.4 215.4 186.5 215.5 187.8 215.6 188.2 215.7 187.7 215.8 188.3 216.0 187.8 216.1 188.4 216.2 187.8 216.3 187.5 216.4 187.5 216.6 187.8 216.7 187.9 216.8 187.3 216.9 187.6 217.0 187.0 217.2 187.0 217.3 188.1 217.4 187.9 217.5 188.2 217.6 187.8 217.8 187.8 217.9 188.6 218.0 187.1 218.1 187.6 218.2 188.3 218.4 188.5 218.5 187.7 218.6 187.3 218.7 186.8 218.8 187.3 219.0 187.5 219.1 187.5 219.2 187.8 219.3 187.9 219.4 187.5 219.6 187.3 219.7 187.7 219.8 188.2 219.9 189.0 220.0 187.3 220.2 188.9 220.3 188.2 220.4 189.0 220.5 189.5 220.6 188.8 220.8 187.9 220.9 188.3 221.0 188.8 221.1 188.5 221.2 188.6 221.4 188.2 221.5 188.5 221.6 188.3 221.7 189.1 221.8 188.8 222.0 189.1 222.1 187.8 222.2 188.4 222.3 188.2 222.4 188.3 222.6 188.0 222.7 188.1 222.8 189.3 222.9 188.3 223.0 187.8 223.2 188.3 223.3 189.7 223.4 188.9 223.5 188.1 223.6 188.5 223.8 188.7 223.9 188.8 224.0 187.9 224.1 188.4 224.2 188.9 224.4 188.1 224.5 188.9 224.6 189.0 224.7 189.4 224.8 189.5 225.0 188.9 225.1 189.0 225.2 189.2 225.3 189.4 225.4 188.9 225.6 188.4 225.7 189.1 225.8 189.3 225.9 188.9 226.0 189.1 226.2 189.6 226.3 188.5 226.4 188.4 226.5 188.2 226.6 188.9 226.8 189.2 226.9 188.5 227.0 189.7 227.1 188.4 227.2 188.9 227.4 188.7 227.5 189.5 227.6 188.5 227.7 189.8 227.8 188.9 228.0 188.3 228.1 188.7 228.2 189.0 228.3 189.9 228.4 188.8 228.6 189.1 228.7 190.1 228.8 189.1 228.9 188.6 229.0 188.5 229.2 188.0 229.3 188.9 229.4 189.2 229.5 188.4 229.6 188.0 229.8 188.6 229.9 188.5 230.0 188.4 230.1 188.8 230.2 188.6 230.4 188.4 230.5 189.1 230.6 187.7 230.7 188.2 230.8 188.6 231.0 188.1 231.1 189.6 231.2 187.8 231.3 189.3 231.4 189.3 231.6 189.2 231.7 189.3 231.8 188.8 231.9 188.7 232.0 189.8 232.2 189.0 232.3 188.4 232.4 188.5 232.5 188.4 232.6 189.3 232.8 189.8 232.9 189.1 233.0 189.4 233.1 189.1 233.2 189.8 233.4 189.8 233.5 189.9 233.6 190.3 233.7 188.8 233.8 189.8 234.0 188.6 234.1 189.7 234.2 189.7 234.3 189.6 234.4 189.6 234.6 189.1 234.7 188.9 234.8 189.6 234.9 188.9 235.0 189.5 235.2 188.8 235.3 189.4 235.4 189.4 235.5 188.9 235.6 189.2 235.8 189.8 235.9 189.5 236.0 189.8 236.1 189.3 236.2 189.7 236.4 188.9 236.5 189.3 236.6 190.4 236.7 190.0 236.8 189.8 237.0 189.8 237.1 189.1 237.2 189.9 237.3 189.1 237.4 189.3 237.6 190.0 237.7 189.2 237.8 189.3 237.9 189.5 238.0 189.6 238.2 190.2 238.3 188.7 238.4 189.4 238.5 189.9 238.6 189.4 238.8 189.5 238.9 189.4 239.0 189.7 239.1 190.2 239.2 190.6 239.4 190.2 239.5 190.7 239.6 190.2 239.7 189.4 239.8 190.5 240.0 189.2 240.1 190.1 240.2 190.2 240.3 189.6 240.4 190.0 240.6 189.8 240.7 190.1 240.8 189.9 240.9 190.3 241.0 189.8 241.2 190.2 241.3 189.9 241.4 190.0 241.5 189.9 241.6 189.5 241.8 190.3 241.9 190.0 242.0 188.6 242.1 189.1 242.2 190.5 242.4 189.5 242.5 191.0 242.6 189.9 242.7 189.9 242.8 189.5 243.0 189.6 243.1 189.8 243.2 190.2 243.3 189.9 243.4 189.9 243.6 189.5 243.7 189.8 243.8 189.8 243.9 190.0 244.0 189.8 244.2 189.7 244.3 190.1 244.4 189.1 244.5 189.6 244.6 189.9 244.8 190.5 244.9 190.0 245.0 189.8 245.1 190.7 245.2 190.3 245.4 191.0 245.5 190.3 245.6 190.0 245.7 190.2 245.8 191.3 246.0 191.2 246.1 190.6 246.2 191.0 246.3 189.9 246.4 191.2 246.6 190.8 246.7 190.7 246.8 190.7 246.9 190.9 247.0 190.5 247.2 190.6 247.3 190.2 247.4 191.4 247.5 190.3 247.6 190.6 247.8 191.1 247.9 191.1 248.0 191.2 248.1 190.3 248.2 190.3 248.4 190.5 248.5 189.7 248.6 191.0 248.7 189.8 248.8 190.5 249.0 191.0 249.1 191.1 249.2 190.6 249.3 191.2 249.4 191.3 249.6 190.1 249.7 190.8 249.8 191.3 249.9 191.1 250.0 190.8 250.2 190.8 250.3 191.8 250.4 190.6 250.5 191.2 250.6 190.1 250.8 190.8 250.9 191.0 251.0 190.2 251.1 190.0 251.2 191.1 251.4 190.1 251.5 190.6 251.6 189.4 251.7 190.8 251.8 189.2 252.0 189.7 252.1 189.8 252.2 190.0 252.3 190.2 252.4 190.8 252.6 191.1 252.7 191.0 252.8 190.6 252.9 190.4 253.0 189.4 253.2 190.4 253.3 190.2 253.4 190.8 253.5 190.1 253.6 190.2 253.8 190.3 253.9 190.9 254.0 190.7 254.1 190.2 254.2 189.9 254.4 190.4 254.5 190.4 254.6 190.4 254.7 190.7 254.8 191.0 255.0 191.1 255.1 190.5 255.2 190.5 255.3 191.6 255.4 190.9 255.6 191.4 255.7 191.2 255.8 191.3 255.9 191.9 256.0 191.2 256.2 191.8 256.3 191.6 256.4 191.3 256.5 191.2 256.6 191.2 256.8 192.0 256.9 191.9 257.0 191.1 257.1 191.7 257.2 190.7 257.4 191.5 257.5 192.4 257.6 190.9 257.7 191.5 257.8 191.1 258.0 191.4 258.1 190.9 258.2 191.4 258.3 190.2 258.4 191.1 258.6 191.1 258.7 191.1 258.8 192.0 258.9 190.6 259.0 190.8 259.2 190.5 259.3 191.3 259.4 191.1 259.5 190.6 259.6 191.6 259.8 191.3 259.9 191.8 260.0 191.5 260.1 191.3 260.2 191.0 260.4 190.4 260.5 191.1 260.6 192.0 260.7 191.4 260.8 191.2 261.0 191.7 261.1 192.0 261.2 192.9 261.3 191.3 261.4 191.6 261.6 191.2 261.7 191.4 261.8 192.1 261.9 191.6 262.0 191.0 262.2 192.1 262.3 192.3 262.4 191.8 262.5 191.1 262.6 191.0 262.8 192.0 262.9 191.0 263.0 191.2 263.1 190.8 263.2 192.3 263.4 191.1 263.5 191.3 263.6 191.0 263.7 191.1 263.8 190.9 264.0 191.8 264.1 191.0 264.2 192.0 264.3 190.8 264.4 191.6 264.6 191.8 264.7 190.9 264.8 191.6 264.9 191.3 265.0 191.1 265.2 191.4 265.3 190.8 265.4 191.6 265.5 191.0 265.6 192.0 265.8 192.3 265.9 192.3 266.0 191.4 266.1 191.7 266.2 192.6 266.4 192.3 266.5 192.0 266.6 190.9 266.7 191.6 266.8 192.8 267.0 192.0 267.1 191.7 267.2 191.9 267.3 192.9 267.4 192.4 267.6 191.3 267.7 191.3 267.8 191.8 267.9 192.2 268.0 191.3 268.2 191.3 268.3 190.4 268.4 191.2 268.5 191.7 268.6 191.7 268.8 190.8 268.9 191.8 269.0 191.1 269.1 190.9 269.2 191.7 269.4 190.8 269.5 191.3 269.6 191.1 269.7 191.5 269.8 191.6 270.0 191.4 270.1 191.3 270.2 191.4 270.3 190.6 270.4 191.6 270.6 192.6 270.7 191.9 270.8 192.4 270.9 191.9 271.0 191.9 271.2 192.2 271.3 192.3 271.4 192.3 271.5 191.7 271.6 192.1 271.8 191.5 271.9 192.5 272.0 192.1 272.1 192.0 272.2 191.6 272.4 192.3 272.5 192.5 272.6 192.3 272.7 192.6 272.8 191.7 273.0 192.4 273.1 192.0 273.2 190.8 273.3 192.0 273.4 191.5 273.6 191.8 273.7 191.6 273.8 191.5 273.9 192.3 274.0 191.6 274.2 191.9 274.3 192.1 274.4 191.7 274.5 191.4 274.6 192.0 274.8 191.9 274.9 191.6 275.0 192.1 275.1 192.7 275.2 192.6 275.4 192.9 275.5 192.8 275.6 192.4 275.7 192.4 275.8 191.9 276.0 192.9 276.1 192.1 276.2 192.6 276.3 193.1 276.4 192.4 276.6 191.8 276.7 192.0 276.8 192.2 276.9 192.9 277.0 192.3 277.2 192.3 277.3 191.9 277.4 192.5 277.5 192.4 277.6 192.7 277.8 192.0 277.9 192.7 278.0 191.9 278.1 192.2 278.2 192.3 278.4 192.5 278.5 192.7 278.6 191.6 278.7 192.6 278.8 192.5 279.0 192.2 279.1 192.6 279.2 192.9 279.3 192.6 279.4 192.6 279.6 193.1 279.7 192.5 279.8 193.3 279.9 193.0 280.0 193.1 280.2 193.1 280.3 193.4 280.4 192.6 280.5 193.4 280.6 192.6 280.8 193.1 280.9 193.2 281.0 193.0 281.1 192.5 281.2 192.4 281.4 192.5 281.5 192.8 281.6 192.9 281.7 193.0 281.8 192.2 282.0 192.9 282.1 193.2 282.2 192.8 282.3 192.8 282.4 193.1 282.6 193.5 282.7 193.4 282.8 193.5 282.9 192.4 283.0 193.5 283.2 192.8 283.3 193.3 283.4 192.7 283.5 193.0 283.6 192.6 283.8 192.7 283.9 193.5 284.0 192.2 284.1 193.0 284.2 192.6 284.4 192.2 284.5 193.1 284.6 192.6 284.7 192.4 284.8 192.7 285.0 192.4 285.1 193.4 285.2 192.2 285.3 192.6 285.4 192.1 285.6 193.0 285.7 193.3 285.8 193.4 285.9 193.6 286.0 193.0 286.2 192.8 286.3 193.4 286.4 192.8 286.5 193.1 286.6 192.8 286.8 192.7 286.9 193.0 287.0 193.4 287.1 193.4 287.2 193.1 287.4 192.1 287.5 193.1 287.6 193.3 287.7 193.4 287.8 192.9 288.0 193.6 288.1 193.4 288.2 192.6 288.3 193.6 288.4 194.0 288.6 193.5 288.7 193.1 288.8 194.2 288.9 193.9 289.0 192.9 289.2 194.0 289.3 193.8 289.4 193.7 289.5 192.9 289.6 193.0 289.8 193.7 289.9 194.3 290.0 193.7 290.1 193.6 290.2 193.4 290.4 193.4 290.5 194.0 290.6 193.3 290.7 194.3 290.8 193.8 291.0 193.7 291.1 193.6 291.2 193.4 291.3 193.6 291.4 193.2 291.6 193.8 291.7 193.0 291.8 194.6 291.9 193.8 292.0 193.2 292.2 193.9 292.3 193.8 292.4 193.5 292.5 193.8 292.6 193.4 292.8 193.6 292.9 193.5 293.0 193.7 293.1 193.3 293.2 193.6 293.4 192.5 293.5 194.0 293.6 193.7 293.7 193.8 293.8 193.6 294.0 194.0 294.1 193.7 294.2 193.8 294.3 193.7 294.4 193.5 294.6 193.4 294.7 193.9 294.8 193.9 294.9 193.7 295.0 194.1 295.2 193.7 295.3 193.9 295.4 194.1 295.5 194.0 295.6 193.6 295.8 193.3 295.9 193.5 296.0 193.3 296.1 194.0 296.2 192.5 296.4 194.5 296.5 193.5 296.6 194.2 296.7 194.0 296.8 194.1 297.0 193.4 297.1 194.3 297.2 193.9 297.3 194.1 297.4 193.5 297.6 193.9 297.7 193.6 297.8 194.0 297.9 194.1 298.0 193.7 298.2 194.0 298.3 194.0 298.4 193.8 298.5 193.7 298.6 193.1 298.8 194.2 298.9 193.8 299.0 193.7 299.1 193.9 299.2 193.7 299.4 193.8 299.5 194.2 299.6 193.5 299.7 193.9 299.8 194.1 300.0 193.5 300.1 193.6 300.2 194.4 300.3 194.8 300.4 194.1 300.6 194.2 300.7 193.6 300.8 194.4 300.9 193.9 301.0 194.0 301.2 194.1 301.3 193.7 301.4 193.7 301.5 194.0 301.6 193.6 301.8 193.8 301.9 193.1 302.0 193.7 302.1 194.2 302.2 194.5 302.4 194.3 302.5 193.8 302.6 194.2 302.7 193.8 302.8 193.8 303.0 194.6 303.1 194.2 303.2 194.2 303.3 194.4 303.4 194.7 303.6 194.4 303.7 194.3 303.8 194.5 303.9 194.3 304.0 194.2 304.2 193.5 304.3 194.0 304.4 194.2 304.5 193.9 304.6 194.9 304.8 195.1 304.9 194.8 305.0 193.9 305.1 194.4 305.2 194.3 305.4 194.3 305.5 193.6 305.6 194.5 305.7 194.8 305.8 194.5 306.0 195.0 306.1 194.1 306.2 194.5 306.3 194.7 306.4 194.0 306.6 194.3 306.7 194.1 306.8 194.7 306.9 194.0 307.0 194.5 307.2 194.3 307.3 194.8 307.4 194.4 307.5 194.5 307.6 194.7 307.8 194.4 307.9 194.5 308.0 194.5 308.1 194.4 308.2 194.7 308.4 194.4 308.5 194.7 308.6 194.5 308.7 194.4 308.8 194.3 309.0 194.0 309.1 194.5 309.2 194.9 309.3 194.6 309.4 195.3 309.6 194.4 309.7 194.6 309.8 194.2 309.9 195.2 310.0 194.3 310.2 195.0 310.3 194.9 310.4 195.7 310.5 195.2 310.6 195.0 310.8 194.8 310.9 195.4 311.0 194.6 311.1 194.3 311.2 195.0 311.4 194.6 311.5 194.4 311.6 194.8 311.7 194.8 311.8 194.0 312.0 194.9 312.1 195.3 312.2 194.4 312.3 194.0 312.4 194.6 312.6 194.5 312.7 194.8 312.8 194.8 312.9 194.4 313.0 195.0 313.2 193.8 313.3 194.2 313.4 194.5 313.5 194.6 313.6 194.4 313.8 194.6 313.9 194.0 314.0 193.7 314.1 194.8 314.2 195.0 314.4 194.6 314.5 194.2 314.6 194.4 314.7 194.9 314.8 194.8 315.0 195.2 315.1 195.4 315.2 195.2 315.3 194.7 315.4 195.2 315.6 195.0 315.7 194.9 315.8 194.9 315.9 194.7 316.0 194.4 316.2 194.9 316.3 194.5 316.4 194.7 316.5 195.0 316.6 195.0 316.8 194.0 316.9 194.4 317.0 194.3 317.1 194.8 317.2 194.4 317.4 195.1 317.5 194.6 317.6 194.9 317.7 194.5 317.8 194.6 318.0 194.8 318.1 195.0 318.2 194.2 318.3 194.9 318.4 194.4 318.6 195.0 318.7 194.3 318.8 194.8 318.9 195.3 319.0 195.4 319.2 194.6 319.3 195.5 319.4 194.8 319.5 194.9 319.6 195.1 319.8 194.9 319.9 195.0 320.0 194.9 320.1 195.1 320.2 194.8 320.4 194.6 320.5 194.3 320.6 194.3 320.7 194.6 320.8 194.8 321.0 194.7 321.1 194.4 321.2 194.7 321.3 194.4 321.4 194.7 321.6 194.9 321.7 194.6 321.8 195.3 321.9 195.3 322.0 194.8 322.2 195.2 322.3 195.1 322.4 195.2 322.5 195.2 322.6 195.5 322.8 195.2 322.9 195.2 323.0 195.4 323.1 195.3 323.2 195.6 323.4 194.7 323.5 195.2 323.6 194.3 323.7 194.9 323.8 194.5 324.0 194.4 324.1 194.9 324.2 194.5 324.3 194.8 324.4 194.0 324.6 195.4 324.7 194.0 324.8 194.6 324.9 195.5 325.0 194.4 325.2 195.4 325.3 195.2 325.4 194.8 325.5 194.7 325.6 194.7 325.8 194.9 325.9 195.2 326.0 195.4 326.1 194.2 326.2 195.3 326.4 195.2 326.5 194.6 326.6 195.4 326.7 195.5 326.8 195.5 327.0 195.2 327.1 195.5 327.2 195.7 327.3 195.0 327.4 195.0 327.6 194.9 327.7 195.5 327.8 195.1 327.9 194.8 328.0 194.7 328.2 194.6 328.3 195.1 328.4 195.3 328.5 195.5 328.6 194.7 328.8 194.8 328.9 194.8 329.0 194.9 329.1 194.7 329.2 195.8 329.4 195.4 329.5 195.1 329.6 194.4 329.7 195.8 329.8 195.6 330.0 195.4 330.1 195.6 330.2 195.1 330.3 195.5 330.4 195.1 330.6 195.4 330.7 195.1 330.8 194.7 330.9 194.7 331.0 195.5 331.2 195.4 331.3 195.0 331.4 194.8 331.5 194.9 331.6 195.1 331.8 194.5 331.9 195.4 332.0 194.8 332.1 194.7 332.2 195.1 332.4 195.9 332.5 195.0 332.6 195.2 332.7 194.9 332.8 195.5 333.0 195.5 333.1 195.4 333.2 195.3 333.3 195.6 333.4 195.7 333.6 195.2 333.7 195.3 333.8 195.1 333.9 195.1 334.0 195.7 334.2 195.0 334.3 195.4 334.4 195.7 334.5 195.1 334.6 195.5 334.8 195.5 334.9 194.8 335.0 195.6 335.1 194.9 335.2 195.3 335.4 194.6 335.5 194.6 335.6 195.1 335.7 195.7 335.8 196.0 336.0 196.0 336.1 195.5 336.2 195.4 336.3 195.2 336.4 195.2 336.6 194.8 336.7 194.8 336.8 195.1 336.9 195.1 337.0 194.8 337.2 194.6 337.3 194.8 337.4 196.3 337.5 194.8 337.6 195.6 337.8 195.6 337.9 195.5 338.0 194.9 338.1 195.9 338.2 195.3 338.4 195.0 338.5 194.9 338.6 195.2 338.7 196.0 338.8 194.8 339.0 195.0 339.1 195.3 339.2 195.5 339.3 194.9 339.4 195.0 339.6 195.2 339.7 195.7 339.8 195.4 339.9 195.3 340.0 195.5 340.2 195.5 340.3 195.8 340.4 195.2 340.5 195.4 340.6 195.1 340.8 195.6 340.9 195.6 341.0 195.1 341.1 195.6 341.2 195.1 341.4 195.6 341.5 194.9 341.6 194.8 341.7 194.5 341.8 194.6 342.0 194.9 342.1 194.2 342.2 195.0 342.3 195.4 342.4 195.3 342.6 195.2 342.7 195.5 342.8 195.1 342.9 195.2 343.0 195.7 343.2 195.4 343.3 195.8 343.4 195.3 343.5 195.7 343.6 195.9 343.8 195.4 343.9 196.1 344.0 196.0 344.1 194.6 344.2 196.4 344.4 194.8 344.5 196.3 344.6 195.1 344.7 194.6 344.8 194.9 345.0 195.6 345.1 195.0 345.2 195.2 345.3 195.9 345.4 195.1 345.6 195.6" stroke="#111111"/>
<path d="M23.0 206.4L23.1 205.7 23.2 206.8 23.4 207.5 23.5 208.2 23.6 206.9 23.7 206.1 23.8 205.7 24.0 207.5 24.1 208.4 24.2 206.8 24.3 205.0 24.4 205.4 24.6 208.3 24.7 206.8 24.8 204.6 24.9 206.6 25.0 205.5 25.2 206.2 25.3 206.5 25.4 206.3 25.5 207.9 25.6 207.3 25.8 206.7 25.9 208.0 26.0 208.5 26.1 205.7 26.2 207.4 26.4 206.6 26.5 207.5 26.6 206.2 26.7 207.8 26.8 207.7 27.0 207.4 27.1 206.5 27.2 207.4 27.3 206.5 27.4 206.2 27.6 208.0 27.7 206.5 27.8 209.2 27.9 208.7 28.0 205.7 28.2 208.4 28.3 207.0 28.4 208.4 28.5 208.6 28.6 206.4 28.8 208.5 28.9 208.6 29.0 210.1 29.1 207.7 29.2 209.9 29.4 207.8 29.5 208.7 29.6 208.1 29.7 210.7 29.8 209.6 30.0 211.6 30.1 209.4 30.2 209.6 30.3 209.6 30.4 207.9 30.6 208.5 30.7 210.1 30.8 208.0 30.9 208.7 31.0 208.4 31.2 209.1 31.3 207.9 31.4 208.2 31.5 208.6 31.6 208.4 31.8 207.4 31.9 209.5 32.0 207.1 32.1 207.3 32.2 207.3 32.4 210.0 32.5 208.7 32.6 208.3 32.7 208.3 32.8 210.2 33.0 208.7 33.1 208.5 33.2 210.6 33.3 208.6 33.4 209.7 33.6 210.0 33.7 209.4 33.8 209.9 33.9 211.5 34.0 209.4 34.2 208.6 34.3 208.0 34.4 209.9 34.5 209.8 34.6 210.4 34.8 209.6 34.9 209.5 35.0 209.2 35.1 209.4 35.2 210.1 35.4 209.4 35.5 209.9 35.6 211.9 35.7 210.3 35.8 208.0 36.0 211.8 36.1 210.3 36.2 209.0 36.3 211.2 36.4 210.4 36.6 209.9 36.7 210.0 36.8 209.7 36.9 211.0 37.0 212.3 37.2 210.8 37.3 211.8 37.4 213.5 37.5 210.1 37.6 211.8 37.8 211.1 37.9 210.3 38.0 210.4 38.1 211.5 38.2 212.1 38.4 211.1 38.5 211.7 38.6 212.5 38.7 212.1 38.8 212.8 39.0 212.4 39.1 212.5 39.2 214.1 39.3 212.8 39.4 212.3 39.6 213.0 39.7 211.3 39.8 212.0 39.9 213.3 40.0 213.2 40.2 214.3 40.3 212.7 40.4 211.1 40.5 214.9 40.6 214.0 40.8 211.6 40.9 214.3 41.0 212.8 41.1 210.8 41.2 212.3 41.4 212.2 41.5 214.6 41.6 211.9 41.7 212.5 41.8 212.5 42.0 212.3 42.1 211.7 42.2 212.9 42.3 213.8 42.4 213.2 42.6 211.4 42.7 211.2 42.8 212.5 42.9 211.6 43.0 211.6 43.2 210.4 43.3 214.4 43.4 213.1 43.5 211.0 43.6 213.0 43.8 213.3 43.9 209.1 44.0 211.0 44.1 211.2 44.2 212.3 44.4 211.5 44.5 211.4 44.6 211.7 44.7 213.9 44.8 214.5 45.0 211.7 45.1 211.5 45.2 215.7 45.3 211.8 45.4 212.4 45.6 213.2 45.7 213.9 45.8 214.5 45.9 213.9 46.0 212.5 46.2 214.0 46.3 213.7 46.4 215.4 46.5 213.2 46.6 211.7 46.8 212.0 46.9 214.6 47.0 212.3 47.1 210.5 47.2 212.1 47.4 212.8 47.5 214.1 47.6 211.6 47.7 213.5 47.8 213.7 48.0 212.1 48.1 212.8 48.2 215.0 48.3 215.0 48.4 214.1 48.6 213.7 48.7 214.6 48.8 213.3 48.9 213.4 49.0 212.7 49.2 213.7 49.3 213.7 49.4 216.8 49.5 213.6 49.6 215.3 49.8 215.3 49.9 213.7 50.0 215.2 50.1 211.6 50.2 214.0 50.4 214.8 50.5 211.3 50.6 212.6 50.7 214.9 50.8 213.4 51.0 212.5 51.1 213.2 51.2 212.9 51.3 214.2 51.4 213.9 51.6 213.0 51.7 212.5 51.8 213.2 51.9 214.7 52.0 213.8 52.2 214.2 52.3 213.4 52.4 212.3 52.5 213.0 52.6 214.6 52.8 214.0 52.9 213.0 53.0 212.2 53.1 214.0 53.2 213.5 53.4 213.4 53.5 213.4 53.6 213.9 53.7 213.8 53.8 214.4 54.0 214.3 54.1 214.7 54.2 214.0 54.3 212.6 54.4 212.9 54.6 213.4 54.7 212.5 54.8 213.5 54.9 214.1 55.0 212.0 55.2 211.0 55.3 214.3 55.4 213.1 55.5 213.9 55.6 211.9 55.8 215.3 55.9 214.4 56.0 213.6 56.1 213.5 56.2 214.2 56.4 214.1 56.5 214.1 56.6 213.4 56.7 216.1 56.8 214.8 57.0 215.0 57.1 215.1 57.2 212.5 57.3 215.6 57.4 214.7 57.6 214.8 57.7 215.1 57.8 214.0 57.9 216.0 58.0 214.4 58.2 214.3 58.3 214.3 58.4 215.5 58.5 216.2 58.6 214.8 58.8 213.8 58.9 216.6 59.0 214.3 59.1 216.7 59.2 215.3 59.4 214.6 59.5 214.6 59.6 215.7 59.7 216.2 59.8 214.9 60.0 216.1 60.1 217.2 60.2 214.7 60.3 213.7 60.4 213.6 60.6 213.2 60.7 213.8 60.8 213.6 60.9 212.8 61.0 214.6 61.2 211.2 61.3 212.4 61.4 215.8 61.5 214.7 61.6 214.1 61.8 214.1 61.9 215.6 62.0 214.4 62.1 214.0 62.2 212.8 62.4 214.2 62.5 213.7 62.6 213.9 62.7 214.1 62.8 215.0 63.0 214.9 63.1 216.3 63.2 214.1 63.3 215.5 63.4 217.7 63.6 216.0 63.7 217.3 63.8 217.3 63.9 217.5 64.0 217.0 64.2 214.9 64.3 216.1 64.4 215.9 64.5 214.7 64.6 215.9 64.8 215.0 64.9 214.4 65.0 216.3 65.1 215.9 65.2 215.0 65.4 214.6 65.5 215.0 65.6 215.1 65.7 215.0 65.8 215.4 66.0 214.9 66.1 215.9 66.2 216.0 66.3 215.9 66.4 215.0 66.6 215.1 66.7 216.3 66.8 215.7 66.9 215.8 67.0 213.3 67.2 213.1 67.3 216.2 67.4 216.2 67.5 217.2 67.6 216.5 67.8 216.0 67.9 215.8 68.0 214.3 68.1 216.7 68.2 215.2 68.4 216.4 68.5 216.2 68.6 216.3 68.7 217.1 68.8 215.8 69.0 216.0 69.1 215.6 69.2 216.1 69.3 218.3 69.4 216.3 69.6 217.9 69.7 217.5 69.8 217.3 69.9 217.3 70.0 215.3 70.2 216.7 70.3 217.9 70.4 215.4 70.5 215.9 70.6 215.1 70.8 216.2 70.9 214.6 71.0 217.4 71.1 215.3 71.2 214.2 71.4 217.7 71.5 216.8 71.6 216.4 71.7 216.4 71.8 215.5 72.0 215.6 72.1 216.5 72.2 216.7 72.3 216.7 72.4 215.9 72.6 215.2 72.7 215.5 72.8 216.7 72.9 217.1 73.0 215.2 73.2 215.1 73.3 216.8 73.4 216.2 73.5 216.2 73.6 214.1 73.8 215.1 73.9 214.9 74.0 215.8 74.1 214.0 74.2 217.0 74.4 216.1 74.5 216.3 74.6 214.7 74.7 215.9 74.8 217.3 75.0 214.4 75.1 216.2 75.2 216.5 75.3 215.1 75.4 216.5 75.6 215.3 75.7 216.8 75.8 216.0 75.9 215.7 76.0 217.5 76.2 216.2 76.3 216.6 76.4 214.0 76.5 214.5 76.6 216.0 76.8 215.9 76.9 214.9 77.0 215.7 77.1 213.8 77.2 215.0 77.4 213.5 77.5 214.9 77.6 213.9 77.7 213.6 77.8 214.2 78.0 215.9 78.1 213.0 78.2 213.3 78.3 214.9 78.4 213.2 78.6 215.3 78.7 213.7 78.8 213.4 78.9 213.5 79.0 214.7 79.2 213.4 79.3 213.2 79.4 212.8 79.5 210.8 79.6 211.4 79.8 213.5 79.9 212.7 80.0 212.2 80.1 212.2 80.2 210.8 80.4 211.5 80.5 210.1 80.6 211.3 80.7 210.0 80.8 210.2 81.0 210.8 81.1 209.9 81.2 210.7 81.3 210.4 81.4 210.2 81.6 211.1 81.7 208.3 81.8 208.1 81.9 210.3 82.0 210.7 82.2 211.8 82.3 210.5 82.4 210.8 82.5 209.4 82.6 211.2 82.8 211.3 82.9 209.8 83.0 210.2 83.1 211.2 83.2 211.9 83.4 208.9 83.5 212.0 83.6 212.4 83.7 212.1 83.8 212.8 84.0 213.1 84.1 211.7 84.2 213.3 84.3 212.6 84.4 212.0 84.6 213.3 84.7 214.7 84.8 212.0 84.9 212.0 85.0 212.2 85.2 216.0 85.3 214.1 85.4 214.6 85.5 214.1 85.6 214.2 85.8 213.3 85.9 215.7 86.0 216.0 86.1 214.0 86.2 215.2 86.4 215.6 86.5 216.4 86.6 216.8 86.7 217.8 86.8 218.1 87.0 217.9 87.1 218.1 87.2 215.7 87.3 216.3 87.4 217.9 87.6 217.0 87.7 216.6 87.8 214.7 87.9 214.7 88.0 217.1 88.2 216.6 88.3 215.9 88.4 215.6 88.5 214.1 88.6 216.0 88.8 216.5 88.9 216.9 89.0 215.1 89.1 214.7 89.2 213.7 89.4 215.8 89.5 216.1 89.6 213.7 89.7 214.5 89.8 214.1 90.0 213.4 90.1 211.5 90.2 213.6 90.3 214.4 90.4 212.3 90.6 212.8 90.7 210.4 90.8 214.8 90.9 213.9 91.0 213.3 91.2 212.8 91.3 212.2 91.4 212.7 91.5 212.3 91.6 212.1 91.8 212.2 91.9 212.1 92.0 213.4 92.1 210.4 92.2 211.9 92.4 210.9 92.5 210.4 92.6 209.1 92.7 211.9 92.8 210.3 93.0 210.6 93.1 211.8 93.2 210.3 93.3 211.3 93.4 211.3 93.6 212.1 93.7 212.2 93.8 210.3 93.9 212.0 94.0 211.0 94.2 211.1 94.3 210.7 94.4 211.6 94.5 209.7 94.6 211.2 94.8 212.2 94.9 210.9 95.0 213.3 95.1 210.8 95.2 211.8 95.4 211.3 95.5 211.3 95.6 211.0 95.7 211.7 95.8 212.2 96.0 211.6 96.1 213.3 96.2 214.0 96.3 211.2 96.4 213.4 96.6 212.8 96.7 212.9 96.8 215.0 96.9 213.7 97.0 212.8 97.2 212.6 97.3 210.3 97.4 213.0 97.5 211.6 97.6 212.5 97.8 212.3 97.9 213.1 98.0 214.0 98.1 213.0 98.2 213.2 98.4 211.8 98.5 212.6 98.6 212.9 98.7 210.8 98.8 214.2 99.0 211.5 99.1 210.9 99.2 213.7 99.3 214.1 99.4 211.4 99.6 211.4 99.7 214.9 99.8 212.0 99.9 209.9 100.0 211.2 100.2 213.7 100.3 212.4 100.4 212.6 100.5 213.1 100.6 212.7 100.8 211.8 100.9 210.7 101.0 212.7 101.1 211.4 101.2 212.5 101.4 214.3 101.5 213.3 101.6 212.9 101.7 213.0 101.8 213.8 102.0 214.1 102.1 212.1 102.2 213.6 102.3 215.2 102.4 214.4 102.6 213.1 102.7 213.3 102.8 212.2 102.9 213.5 103.0 216.0 103.2 214.7 103.3 214.3 103.4 214.7 103.5 215.4 103.6 215.6 103.8 215.6 103.9 215.4 104.0 216.9 104.1 217.9 104.2 216.1 104.4 216.2 104.5 218.0 104.6 215.6 104.7 216.5 104.8 216.7 105.0 217.3 105.1 217.0 105.2 216.6 105.3 217.7 105.4 216.5 105.6 216.1 105.7 216.0 105.8 218.8 105.9 216.6 106.0 218.7 106.2 219.1 106.3 219.4 106.4 218.6 106.5 218.3 106.6 219.0 106.8 218.5 106.9 217.9 107.0 220.3 107.1 218.3 107.2 220.7 107.4 219.5 107.5 218.7 107.6 219.5 107.7 220.3 107.8 217.9 108.0 218.3 108.1 218.2 108.2 219.4 108.3 219.6 108.4 219.3 108.6 218.7 108.7 218.9 108.8 220.6 108.9 220.6 109.0 219.8 109.2 218.5 109.3 220.3 109.4 220.0 109.5 220.0 109.6 221.4 109.8 220.6 109.9 219.1 110.0 219.2 110.1 221.3 110.2 220.3 110.4 221.0 110.5 220.1 110.6 219.4 110.7 220.6 110.8 221.9 111.0 220.9 111.1 219.6 111.2 220.5 111.3 220.5 111.4 221.2 111.6 222.1 111.7 223.1 111.8 221.6 111.9 221.1 112.0 221.6 112.2 221.6 112.3 221.2 112.4 221.6 112.5 221.5 112.6 220.3 112.8 221.9 112.9 221.0 113.0 220.3 113.1 221.6 113.2 220.6 113.4 222.6 113.5 221.4 113.6 221.0 113.7 220.2 113.8 220.5 114.0 221.6 114.1 220.2 114.2 221.5 114.3 219.0 114.4 221.1 114.6 221.7 114.7 221.4 114.8 221.1 114.9 222.1 115.0 220.5 115.2 220.5 115.3 221.5 115.4 222.7 115.5 222.0 115.6 221.4 115.8 221.9 115.9 222.1 116.0 220.6 116.1 219.2 116.2 220.8 116.4 220.5 116.5 221.3 116.6 220.8 116.7 221.2 116.8 222.4 117.0 222.1 117.1 222.1 117.2 223.7 117.3 221.8 117.4 221.9 117.6 223.5 117.7 221.3 117.8 220.9 117.9 223.5 118.0 222.7 118.2 223.0 118.3 223.0 118.4 223.3 118.5 222.1 118.6 222.5 118.8 221.6 118.9 222.7 119.0 222.9 119.1 222.4 119.2 223.5 119.4 225.6 119.5 222.1 119.6 224.1 119.7 224.3 119.8 224.5 120.0 223.0 120.1 224.9 120.2 224.5 120.3 223.9 120.4 223.7 120.6 224.2 120.7 224.8 120.8 224.7 120.9 226.0 121.0 223.6 121.2 224.4 121.3 223.3 121.4 224.2 121.5 223.5 121.6 222.8 121.8 222.0 121.9 222.3 122.0 223.1 122.1 224.1 122.2 223.4 122.4 221.6 122.5 222.2 122.6 222.6 122.7 222.4 122.8 222.5 123.0 223.1 123.1 222.6 123.2 221.7 123.3 220.7 123.4 222.1 123.6 221.0 123.7 222.4 123.8 222.8 123.9 221.3 124.0 222.4 124.2 222.3 124.3 224.3 124.4 223.1 124.5 221.1 124.6 223.2 124.8 223.2 124.9 222.7 125.0 222.4 125.1 223.1 125.2 223.1 125.4 222.7 125.5 221.3 125.6 221.8 125.7 220.4 125.8 220.3 126.0 220.8 126.1 220.2 126.2 220.5 126.3 222.9 126.4 221.0 126.6 219.6 126.7 218.3 126.8 219.3 126.9 218.7 127.0 217.9 127.2 220.3 127.3 219.1 127.4 219.8 127.5 222.1 127.6 219.5 127.8 219.3 127.9 219.5 128.0 218.9 128.1 218.4 128.2 218.8 128.4 219.9 128.5 218.7 128.6 217.7 128.7 217.8 128.8 218.0 129.0 218.9 129.1 219.4 129.2 219.4 129.3 220.1 129.4 218.9 129.6 219.9 129.7 219.6 129.8 220.0 129.9 217.9 130.0 220.7 130.2 218.5 130.3 219.1 130.4 220.8 130.5 220.0 130.6 221.9 130.8 220.7 130.9 219.8 131.0 220.9 131.1 220.5 131.2 222.2 131.4 222.3 131.5 221.6 131.6 220.7 131.7 221.3 131.8 222.2 132.0 220.7 132.1 220.8 132.2 222.4 132.3 222.4 132.4 221.6 132.6 221.6 132.7 220.3 132.8 223.0 132.9 221.9 133.0 220.9 133.2 221.2 133.3 221.5 133.4 223.8 133.5 223.0 133.6 221.3 133.8 224.1 133.9 223.7 134.0 221.8 134.1 220.5 134.2 223.7 134.4 222.4 134.5 222.9 134.6 222.6 134.7 224.1 134.8 224.3 135.0 223.8 135.1 222.9 135.2 223.2 135.3 223.4 135.4 221.5 135.6 223.9 135.7 222.5 135.8 222.9 135.9 222.8 136.0 223.5 136.2 223.6 136.3 224.6 136.4 222.5 136.5 222.1 136.6 223.0 136.8 222.4 136.9 223.9 137.0 222.6 137.1 223.6 137.2 224.4 137.4 224.7 137.5 224.3 137.6 225.5 137.7 225.6 137.8 223.2 138.0 225.1 138.1 225.1 138.2 224.8 138.3 224.6 138.4 225.3 138.6 225.6 138.7 225.6 138.8 226.5 138.9 226.3 139.0 225.0 139.2 224.9 139.3 226.3 139.4 225.0 139.5 225.8 139.6 226.2 139.8 226.7 139.9 226.4 140.0 227.3 140.1 225.9 140.2 227.0 140.4 226.0 140.5 226.8 140.6 226.9 140.7 226.1 140.8 224.7 141.0 227.7 141.1 227.3 141.2 227.2 141.3 226.5 141.4 226.9 141.6 227.7 141.7 227.3 141.8 228.3 141.9 227.5 142.0 226.8 142.2 228.0 142.3 227.0 142.4 227.8 142.5 226.1 142.6 227.4 142.8 228.2 142.9 227.2 143.0 227.7 143.1 228.1 143.2 227.6 143.4 229.0 143.5 227.2 143.6 227.2 143.7 227.2 143.8 225.6 144.0 225.9 144.1 227.6 144.2 226.9 144.3 228.4 144.4 227.2 144.6 227.2 144.7 228.3 144.8 227.7 144.9 228.9 145.0 226.8 145.2 228.0 145.3 228.3 145.4 228.2 145.5 228.7 145.6 228.6 145.8 227.8 145.9 227.3 146.0 228.5 146.1 227.7 146.2 228.3 146.4 228.5 146.5 227.4 146.6 226.4 146.7 226.9 146.8 227.6 147.0 226.8 147.1 227.9 147.2 227.0 147.3 227.0 147.4 226.4 147.6 226.8 147.7 227.7 147.8 226.5 147.9 226.5 148.0 226.1 148.2 227.4 148.3 225.4 148.4 226.1 148.5 227.2 148.6 227.6 148.8 226.2 148.9 227.1 149.0 224.7 149.1 226.9 149.2 226.5 149.4 225.3 149.5 224.9 149.6 226.1 149.7 226.9 149.8 227.1 150.0 227.1 150.1 227.8 150.2 228.0 150.3 226.6 150.4 227.6 150.6 227.8 150.7 229.2 150.8 228.3 150.9 229.6 151.0 229.0 151.2 231.0 151.3 229.2 151.4 229.4 151.5 229.4 151.6 229.6 151.8 231.5 151.9 229.2 152.0 228.9 152.1 229.4 152.2 230.1 152.4 228.8 152.5 230.3 152.6 230.3 152.7 229.7 152.8 229.7 153.0 229.3 153.1 229.7 153.2 229.3 153.3 231.0 153.4 231.3 153.6 229.8 153.7 230.0 153.8 228.6 153.9 229.7 154.0 230.4 154.2 230.3 154.3 230.2 154.4 230.7 154.5 230.1 154.6 229.6 154.8 231.2 154.9 228.4 155.0 229.0 155.1 229.4 155.2 229.5 155.4 229.5 155.5 230.0 155.6 229.6 155.7 230.2 155.8 230.7 156.0 230.3 156.1 230.4 156.2 229.6 156.3 229.4 156.4 229.9 156.6 230.9 156.7 230.4 156.8 230.9 156.9 230.8 157.0 230.9 157.2 229.4 157.3 231.1 157.4 230.8 157.5 231.9 157.6 230.8 157.8 230.7 157.9 230.4 158.0 230.7 158.1 229.4 158.2 230.6 158.4 231.0 158.5 231.9 158.6 230.7 158.7 231.3 158.8 232.6 159.0 230.8 159.1 231.8 159.2 230.8 159.3 231.1 159.4 231.6 159.6 231.9 159.7 230.8 159.8 230.4 159.9 232.4 160.0 231.4 160.2 231.9 160.3 232.0 160.4 231.8 160.5 231.0 160.6 231.0 160.8 229.8 160.9 231.0 161.0 230.5 161.1 230.8 161.2 232.1 161.4 231.2 161.5 230.6 161.6 229.5 161.7 231.1 161.8 231.7 162.0 229.8 162.1 230.8 162.2 230.0 162.3 230.3 162.4 230.1 162.6 229.2 162.7 230.0 162.8 229.2 162.9 231.5 163.0 231.3 163.2 230.6 163.3 230.8 163.4 230.6 163.5 230.7 163.6 230.8 163.8 230.5 163.9 230.6 164.0 229.7 164.1 230.0 164.2 230.3 164.4 231.0 164.5 230.5 164.6 232.2 164.7 230.7 164.8 230.5 165.0 231.0 165.1 231.4 165.2 232.0 165.3 231.3 165.4 230.1 165.6 230.5 165.7 231.4 165.8 230.9 165.9 231.4 166.0 230.8 166.2 232.2 166.3 232.3 166.4 232.1 166.5 231.5 166.6 230.3 166.8 230.5 166.9 231.8 167.0 232.2 167.1 229.6 167.2 231.4 167.4 232.7 167.5 232.6 167.6 231.5 167.7 232.4 167.8 232.0 168.0 231.8 168.1 232.7 168.2 232.7 168.3 231.4 168.4 231.0 168.6 230.7 168.7 230.5 168.8 232.5 168.9 232.8 169.0 231.6 169.2 232.1 169.3 230.8 169.4 231.2 169.5 231.8 169.6 231.3 169.8 231.0 169.9 229.7 170.0 229.9 170.1 230.6 170.2 230.5 170.4 230.8 170.5 230.4 170.6 230.6 170.7 230.9 170.8 231.3 171.0 231.0 171.1 230.6 171.2 230.8 171.3 231.7 171.4 231.0 171.6 230.5 171.7 230.6 171.8 231.5 171.9 231.8 172.0 232.3 172.2 231.2 172.3 232.4 172.4 231.2 172.5 231.2 172.6 231.0 172.8 231.7 172.9 232.0 173.0 231.2 173.1 230.8 173.2 230.0 173.4 231.2 173.5 230.8 173.6 230.8 173.7 230.4 173.8 230.2 174.0 230.4 174.1 231.0 174.2 231.3 174.3 230.6 174.4 230.8 174.6 230.5 174.7 230.7 174.8 229.8 174.9 231.5 175.0 231.4 175.2 232.1 175.3 230.8 175.4 231.4 175.5 230.7 175.6 231.5 175.8 231.3 175.9 231.8 176.0 231.3 176.1 231.9 176.2 231.1 176.4 231.9 176.5 231.3 176.6 231.2 176.7 231.6 176.8 231.8 177.0 230.6 177.1 230.6 177.2 231.8 177.3 231.7 177.4 230.3 177.6 230.6 177.7 231.3 177.8 232.2 177.9 232.2 178.0 232.8 178.2 232.9 178.3 233.9 178.4 231.2 178.5 232.3 178.6 233.1 178.8 231.5 178.9 231.4 179.0 232.5 179.1 233.1 179.2 233.2 179.4 231.0 179.5 231.4 179.6 232.1 179.7 231.8 179.8 232.3 180.0 232.2 180.1 233.2 180.2 231.9 180.3 232.0 180.4 231.9 180.6 232.5 180.7 231.0 180.8 232.1 180.9 231.3 181.0 230.8 181.2 232.7 181.3 232.3 181.4 232.9 181.5 232.3 181.6 232.6 181.8 232.4 181.9 232.8 182.0 232.3 182.1 233.8 182.2 232.1 182.4 233.9 182.5 232.7 182.6 233.4 182.7 232.9 182.8 233.1 183.0 233.8 183.1 232.8 183.2 232.0 183.3 232.8 183.4 233.0 183.6 230.8 183.7 233.1 183.8 233.1 183.9 231.1 184.0 232.2 184.2 232.9 184.3 231.5 184.4 232.0 184.5 232.1 184.6 232.7 184.8 233.1 184.9 232.3 185.0 232.3 185.1 232.9 185.2 232.6 185.4 232.1 185.5 233.0 185.6 231.1 185.7 232.1 185.8 231.6 186.0 231.5 186.1 232.0 186.2 231.8 186.3 233.4 186.4 232.2 186.6 232.0 186.7 233.0 186.8 232.7 186.9 230.8 187.0 232.3 187.2 232.9 187.3 232.1 187.4 232.9 187.5 232.5 187.6 233.1 187.8 231.8 187.9 231.7 188.0 232.7 188.1 233.2 188.2 234.0 188.4 232.9 188.5 232.5 188.6 233.6 188.7 233.0 188.8 234.1 189.0 232.8 189.1 231.6 189.2 232.4 189.3 232.3 189.4 232.1 189.6 232.5 189.7 232.6 189.8 232.9 189.9 232.8 190.0 233.4 190.2 233.4 190.3 233.3 190.4 233.3 190.5 231.8 190.6 232.0 190.8 232.5 190.9 233.3 191.0 232.1 191.1 232.8 191.2 233.2 191.4 234.5 191.5 233.3 191.6 232.8 191.7 233.9 191.8 233.4 192.0 233.0 192.1 234.0 192.2 232.6 192.3 233.3 192.4 233.3 192.6 233.8 192.7 232.4 192.8 232.3 192.9 232.9 193.0 233.0 193.2 233.2 193.3 232.9 193.4 233.5 193.5 233.8 193.6 233.5 193.8 232.7 193.9 234.2 194.0 232.6 194.1 233.6 194.2 234.4 194.4 233.5 194.5 234.9 194.6 235.4 194.7 235.3 194.8 234.6 195.0 235.0 195.1 234.1 195.2 234.8 195.3 234.8 195.4 234.6 195.6 234.7 195.7 234.5 195.8 233.3 195.9 234.9 196.0 234.8 196.2 236.0 196.3 235.0 196.4 234.6 196.5 235.1 196.6 234.9 196.8 234.3 196.9 234.1 197.0 233.3 197.1 234.3 197.2 235.3 197.4 232.9 197.5 233.4 197.6 234.6 197.7 234.1 197.8 234.2 198.0 232.6 198.1 233.4 198.2 234.2 198.3 234.2 198.4 233.9 198.6 233.1 198.7 234.0 198.8 232.9 198.9 233.1 199.0 233.0 199.2 234.8 199.3 233.5 199.4 233.9 199.5 232.4 199.6 234.6 199.8 234.2 199.9 232.8 200.0 232.9 200.1 235.1 200.2 233.4 200.4 235.2 200.5 233.7 200.6 232.4 200.7 234.7 200.8 234.3 201.0 234.5 201.1 233.7 201.2 233.8 201.3 234.6 201.4 233.4 201.6 232.6 201.7 234.5 201.8 233.6 201.9 234.8 202.0 233.7 202.2 233.7 202.3 233.9 202.4 232.5 202.5 234.8 202.6 233.7 202.8 234.1 202.9 235.2 203.0 234.4 203.1 234.9 203.2 234.5 203.4 234.8 203.5 234.6 203.6 235.2 203.7 234.3 203.8 234.8 204.0 234.1 204.1 235.3 204.2 233.1 204.3 234.7 204.4 234.9 204.6 234.9 204.7 234.7 204.8 235.6 204.9 236.1 205.0 234.3 205.2 233.5 205.3 234.0 205.4 234.2 205.5 234.6 205.6 234.7 205.8 235.4 205.9 234.4 206.0 234.6 206.1 234.7 206.2 234.1 206.4 234.4 206.5 236.4 206.6 234.5 206.7 234.0 206.8 233.1 207.0 235.2 207.1 234.4 207.2 234.2 207.3 236.3 207.4 235.7 207.6 233.7 207.7 234.7 207.8 235.6 207.9 235.5 208.0 234.3 208.2 236.3 208.3 236.4 208.4 234.6 208.5 234.2 208.6 234.5 208.8 235.9 208.9 236.2 209.0 235.7 209.1 235.3 209.2 235.7 209.4 236.2 209.5 235.0 209.6 234.8 209.7 235.9 209.8 236.8 210.0 236.1 210.1 236.2 210.2 235.6 210.3 236.6 210.4 234.9 210.6 236.0 210.7 235.6 210.8 235.9 210.9 235.3 211.0 236.4 211.2 235.8 211.3 235.4 211.4 236.0 211.5 235.7 211.6 235.4 211.8 235.3 211.9 236.1 212.0 235.0 212.1 235.4 212.2 235.3 212.4 235.7 212.5 235.3 212.6 236.8 212.7 234.3 212.8 235.7 213.0 235.3 213.1 236.0 213.2 234.3 213.3 236.1 213.4 234.5 213.6 235.9 213.7 235.8 213.8 235.5 213.9 235.1 214.0 235.1 214.2 235.7 214.3 235.3 214.4 234.6 214.5 234.7 214.6 236.4 214.8 236.5 214.9 236.3 215.0 236.1 215.1 236.3 215.2 236.4 215.4 236.3 215.5 235.7 215.6 235.8 215.7 235.6 215.8 236.3 216.0 235.6 216.1 236.1 216.2 237.0 216.3 235.9 216.4 236.7 216.6 237.0 216.7 234.8 216.8 235.0 216.9 236.1 217.0 235.2 217.2 235.9 217.3 236.0 217.4 235.3 217.5 236.1 217.6 236.6 217.8 236.2 217.9 235.1 218.0 235.6 218.1 235.4 218.2 236.7 218.4 235.6 218.5 235.3 218.6 235.8 218.7 236.1 218.8 235.6 219.0 236.0 219.1 236.0 219.2 236.5 219.3 236.6 219.4 236.2 219.6 235.8 219.7 236.3 219.8 235.5 219.9 236.7 220.0 236.2 220.2 236.2 220.3 234.5 220.4 237.4 220.5 236.8 220.6 236.7 220.8 236.0 220.9 236.3 221.0 237.7 221.1 235.5 221.2 236.4 221.4 236.3 221.5 236.0 221.6 236.2 221.7 235.4 221.8 236.4 222.0 235.2 222.1 237.1 222.2 236.6 222.3 235.6 222.4 234.9 222.6 236.2 222.7 236.5 222.8 235.6 222.9 237.2 223.0 236.4 223.2 236.0 223.3 235.5 223.4 236.3 223.5 236.3 223.6 236.8 223.8 237.1 223.9 236.5 224.0 236.8 224.1 237.5 224.2 237.1 224.4 236.6 224.5 237.2 224.6 236.5 224.7 237.2 224.8 237.0 225.0 236.3 225.1 237.3 225.2 237.0 225.3 237.4 225.4 236.1 225.6 237.6 225.7 237.6 225.8 236.7 225.9 236.8 226.0 236.9 226.2 236.9 226.3 237.4 226.4 236.4 226.5 236.2 226.6 236.7 226.8 238.0 226.9 236.6 227.0 236.3 227.1 236.4 227.2 237.0 227.4 237.6 227.5 236.5 227.6 237.0 227.7 237.1 227.8 237.2 228.0 237.0 228.1 237.5 228.2 237.3 228.3 236.6 228.4 238.4 228.6 236.2 228.7 236.3 228.8 237.7 228.9 237.2 229.0 237.0 229.2 237.3 229.3 237.6 229.4 237.0 229.5 236.9 229.6 236.6 229.8 236.7 229.9 236.7 230.0 237.8 230.1 237.3 230.2 237.4 230.4 236.7 230.5 237.6 230.6 236.1 230.7 237.2 230.8 237.4 231.0 236.6 231.1 236.4 231.2 237.3 231.3 236.6 231.4 236.5 231.6 237.0 231.7 236.4 231.8 237.0 231.9 238.2 232.0 236.8 232.2 237.6 232.3 236.4 232.4 237.1 232.5 236.9 232.6 236.9 232.8 237.5 232.9 238.3 233.0 237.1 233.1 238.0 233.2 237.4 233.4 237.7 233.5 237.1 233.6 237.0 233.7 237.3 233.8 237.0 234.0 237.5 234.1 237.0 234.2 237.6 234.3 237.8 234.4 238.7 234.6 238.7 234.7 238.0 234.8 237.4 234.9 238.1 235.0 238.2 235.2 237.6 235.3 237.1 235.4 236.6 235.5 237.6 235.6 238.6 235.8 237.4 235.9 237.7 236.0 237.6 236.1 237.6 236.2 237.8 236.4 236.2 236.5 237.2 236.6 237.5 236.7 237.3 236.8 238.1 237.0 237.2 237.1 238.0 237.2 238.6 237.3 237.6 237.4 237.8 237.6 237.7 237.7 238.3 237.8 236.8 237.9 237.2 238.0 237.9 238.2 238.6 238.3 238.5 238.4 237.7 238.5 239.1 238.6 238.2 238.8 237.8 238.9 238.5 239.0 238.9 239.1 238.1 239.2 237.3 239.4 237.8 239.5 238.1 239.6 238.6 239.7 237.5 239.8 238.3 240.0 237.5 240.1 238.2 240.2 237.5 240.3 238.0 240.4 237.4 240.6 237.7 240.7 237.4 240.8 237.2 240.9 238.9 241.0 238.9 241.2 238.6 241.3 238.1 241.4 239.2 241.5 238.2 241.6 238.6 241.8 239.0 241.9 238.5 242.0 239.2 242.1 238.3 242.2 238.3 242.4 238.4 242.5 237.7 242.6 237.7 242.7 238.7 242.8 237.3 243.0 238.8 243.1 238.3 243.2 238.8 243.3 238.6 243.4 238.5 243.6 239.2 243.7 238.2 243.8 238.2 243.9 238.9 244.0 238.0 244.2 239.0 244.3 238.8 244.4 238.2 244.5 237.8 244.6 237.4 244.8 239.5 244.9 237.7 245.0 237.8 245.1 238.9 245.2 238.7 245.4 238.5 245.5 238.4 245.6 238.1 245.7 237.7 245.8 237.8 246.0 238.5 246.1 238.7 246.2 238.8 246.3 238.1 246.4 236.9 246.6 238.3 246.7 238.0 246.8 236.6 246.9 238.8 247.0 238.2 247.2 238.0 247.3 238.2 247.4 238.2 247.5 238.2 247.6 238.2 247.8 238.1 247.9 238.4 248.0 238.3 248.1 239.4 248.2 238.1 248.4 237.7 248.5 237.6 248.6 238.1 248.7 238.0 248.8 238.1 249.0 237.8 249.1 237.8 249.2 238.4 249.3 238.7 249.4 238.2 249.6 238.0 249.7 237.6 249.8 237.6 249.9 238.3 250.0 238.2 250.2 238.4 250.3 237.9 250.4 238.4 250.5 237.6 250.6 238.0 250.8 238.3 250.9 239.1 251.0 238.5 251.1 238.4 251.2 239.0 251.4 238.9 251.5 239.5 251.6 239.2 251.7 239.1 251.8 238.9 252.0 239.3 252.1 238.6 252.2 238.1 252.3 239.3 252.4 238.6 252.6 238.8 252.7 239.1 252.8 239.2 252.9 237.2 253.0 238.1 253.2 239.3 253.3 237.8 253.4 238.9 253.5 238.5 253.6 238.2 253.8 238.6 253.9 237.8 254.0 238.8 254.1 239.2 254.2 237.9 254.4 238.2 254.5 239.2 254.6 238.7 254.7 238.3 254.8 239.2 255.0 237.7 255.1 238.4 255.2 238.6 255.3 238.4 255.4 239.0 255.6 237.7 255.7 238.5 255.8 238.1 255.9 239.1 256.0 239.0 256.2 238.1 256.3 237.9 256.4 238.4 256.5 238.0 256.6 238.1 256.8 238.6 256.9 238.1 257.0 239.3 257.1 238.4 257.2 238.1 257.4 237.8 257.5 238.2 257.6 239.0 257.7 238.8 257.8 239.2 258.0 239.2 258.1 238.9 258.2 238.2 258.3 238.5 258.4 238.6 258.6 237.8 258.7 238.8 258.8 238.1 258.9 238.5 259.0 238.3 259.2 238.8 259.3 239.8 259.4 237.9 259.5 238.5 259.6 239.5 259.8 238.0 259.9 238.4 260.0 238.4 260.1 238.7 260.2 237.8 260.4 238.7 260.5 238.9 260.6 239.9 260.7 238.7 260.8 238.6 261.0 239.0 261.1 237.7 261.2 239.2 261.3 239.9 261.4 239.1 261.6 239.2 261.7 239.1 261.8 239.3 261.9 238.7 262.0 240.0 262.2 239.0 262.3 239.0 262.4 240.0 262.5 239.2 262.6 238.9 262.8 239.9 262.9 239.1 263.0 239.4 263.1 238.6 263.2 238.0 263.4 238.8 263.5 239.3 263.6 238.3 263.7 238.6 263.8 238.7 264.0 238.4 264.1 238.3 264.2 238.5 264.3 238.2 264.4 237.8 264.6 238.6 264.7 238.5 264.8 238.3 264.9 238.5 265.0 236.9 265.2 238.4 265.3 238.4 265.4 237.5 265.5 239.5 265.6 238.8 265.8 238.5 265.9 238.5 266.0 238.9 266.1 238.8 266.2 238.1 266.4 238.7 266.5 239.2 266.6 239.3 266.7 239.4 266.8 238.5 267.0 238.7 267.1 239.1 267.2 238.7 267.3 239.0 267.4 238.5 267.6 239.1 267.7 238.8 267.8 239.0 267.9 238.7 268.0 238.3 268.2 238.1 268.3 238.6 268.4 238.3 268.5 237.9 268.6 238.3 268.8 238.9 268.9 239.1 269.0 238.8 269.1 239.1 269.2 238.3 269.4 238.4 269.5 238.0 269.6 238.1 269.7 239.3 269.8 238.8 270.0 238.9 270.1 239.9 270.2 239.7 270.3 238.4 270.4 239.4 270.6 238.7 270.7 239.6 270.8 238.3 270.9 238.8 271.0 238.9 271.2 240.3 271.3 238.6 271.4 239.9 271.5 239.9 271.6 239.5 271.8 239.8 271.9 240.6 272.0 239.4 272.1 239.1 272.2 239.8 272.4 239.5 272.5 238.5 272.6 239.1 272.7 239.1 272.8 238.4 273.0 238.5 273.1 238.6 273.2 238.3 273.3 239.1 273.4 239.0 273.6 237.8 273.7 238.7 273.8 239.0 273.9 238.3 274.0 238.8 274.2 239.1 274.3 238.2 274.4 238.8 274.5 237.9 274.6 239.4 274.8 238.7 274.9 238.4 275.0 238.2 275.1 238.3 275.2 239.6 275.4 238.7 275.5 238.8 275.6 238.8 275.7 238.3 275.8 239.3 276.0 237.9 276.1 239.4 276.2 238.6 276.3 238.9 276.4 239.1 276.6 239.3 276.7 238.3 276.8 239.2 276.9 238.9 277.0 238.9 277.2 238.8 277.3 239.5 277.4 239.3 277.5 239.7 277.6 239.6 277.8 238.3 277.9 239.3 278.0 239.8 278.1 239.0 278.2 238.7 278.4 238.5 278.5 240.5 278.6 239.1 278.7 239.6 278.8 239.1 279.0 239.7 279.1 240.3 279.2 238.9 279.3 239.5 279.4 239.1 279.6 238.6 279.7 239.0 279.8 239.4 279.9 239.9 280.0 239.8 280.2 239.3 280.3 238.5 280.4 239.5 280.5 239.1 280.6 239.1 280.8 238.6 280.9 239.0 281.0 239.9 281.1 239.6 281.2 239.5 281.4 239.2 281.5 238.7 281.6 238.9 281.7 239.0 281.8 239.0 282.0 238.7 282.1 238.5 282.2 239.3 282.3 238.6 282.4 239.2 282.6 238.8 282.7 239.1 282.8 239.1 282.9 239.2 283.0 239.2 283.2 238.4 283.3 238.3 283.4 238.9 283.5 239.7 283.6 238.6 283.8 238.7 283.9 240.1 284.0 238.5 284.1 239.0 284.2 239.1 284.4 239.0 284.5 239.1 284.6 239.9 284.7 239.5 284.8 239.6 285.0 238.8 285.1 239.9 285.2 239.7 285.3 239.7 285.4 240.0 285.6 239.8 285.7 239.7 285.8 239.9 285.9 239.4 286.0 239.3 286.2 239.2 286.3 240.1 286.4 239.4 286.5 239.8 286.6 240.2 286.8 240.4 286.9 239.5 287.0 239.7 287.1 239.6 287.2 239.0 287.4 239.4 287.5 240.7 287.6 239.4 287.7 240.2 287.8 239.8 288.0 240.2 288.1 240.0 288.2 239.5 288.3 238.9 288.4 240.1 288.6 239.7 288.7 239.7 288.8 239.8 288.9 239.2 289.0 239.6 289.2 239.6 289.3 239.0 289.4 239.2 289.5 239.7 289.6 238.8 289.8 240.1 289.9 240.2 290.0 239.9 290.1 240.1 290.2 239.2 290.4 240.1 290.5 240.3 290.6 240.3 290.7 240.5 290.8 240.1 291.0 240.9 291.1 240.3 291.2 240.5 291.3 240.6 291.4 239.8 291.6 239.7 291.7 240.4 291.8 239.6 291.9 239.8 292.0 240.5 292.2 239.6 292.3 239.6 292.4 239.5 292.5 239.6 292.6 240.7 292.8 240.1 292.9 240.3 293.0 239.1 293.1 238.9 293.2 239.4 293.4 240.3 293.5 240.4 293.6 239.2 293.7 239.3 293.8 240.4 294.0 240.3 294.1 240.5 294.2 240.7 294.3 240.1 294.4 240.6 294.6 240.5 294.7 241.2 294.8 240.6 294.9 240.0 295.0 241.3 295.2 241.5 295.3 241.2 295.4 240.7 295.5 240.4 295.6 241.2 295.8 240.5 295.9 240.9 296.0 241.0 296.1 240.6 296.2 239.8 296.4 240.7 296.5 240.1 296.6 239.8 296.7 240.4 296.8 240.5 297.0 240.4 297.1 240.6 297.2 239.6 297.3 240.6 297.4 241.0 297.6 240.3 297.7 240.1 297.8 240.2 297.9 240.8 298.0 240.2 298.2 239.9 298.3 239.5 298.4 240.8 298.5 240.8 298.6 240.2 298.8 241.0 298.9 240.0 299.0 240.5 299.1 239.7 299.2 239.8 299.4 240.2 299.5 240.5 299.6 240.6 299.7 240.0 299.8 240.2 300.0 240.4 300.1 240.3 300.2 240.3 300.3 240.8 300.4 240.9 300.6 239.7 300.7 240.9 300.8 240.5 300.9 240.5 301.0 240.5 301.2 240.8 301.3 240.7 301.4 239.9 301.5 240.9 301.6 240.1 301.8 240.8 301.9 240.7 302.0 240.1 302.1 240.7 302.2 240.6 302.4 240.4 302.5 241.5 302.6 240.7 302.7 240.4 302.8 241.2 303.0 240.5 303.1 240.5 303.2 239.7 303.3 240.7 303.4 240.9 303.6 241.3 303.7 240.2 303.8 241.0 303.9 241.2 304.0 241.0 304.2 240.8 304.3 240.2 304.4 240.9 304.5 240.7 304.6 240.3 304.8 241.3 304.9 241.0 305.0 240.9 305.1 241.9 305.2 240.9 305.4 240.3 305.5 240.2 305.6 241.2 305.7 240.9 305.8 240.7 306.0 240.1 306.1 240.6 306.2 240.4 306.3 240.8 306.4 240.5 306.6 240.4 306.7 240.7 306.8 240.4 306.9 240.8 307.0 239.3 307.2 240.2 307.3 241.1 307.4 240.7 307.5 240.2 307.6 240.6 307.8 240.5 307.9 240.6 308.0 241.3 308.1 240.6 308.2 240.8 308.4 240.5 308.5 240.5 308.6 240.2 308.7 240.5 308.8 240.6 309.0 240.6 309.1 240.8 309.2 240.8 309.3 241.1 309.4 240.7 309.6 241.4 309.7 241.1 309.8 241.4 309.9 240.9 310.0 241.4 310.2 240.9 310.3 240.3 310.4 240.9 310.5 240.8 310.6 240.3 310.8 240.5 310.9 240.7 311.0 241.8 311.1 241.0 311.2 241.6 311.4 241.3 311.5 241.3 311.6 241.2 311.7 240.3 311.8 241.3 312.0 240.5 312.1 241.0 312.2 240.8 312.3 241.4 312.4 241.3 312.6 241.5 312.7 241.0 312.8 240.8 312.9 241.1 313.0 241.7 313.2 240.9 313.3 240.7 313.4 240.2 313.5 240.4 313.6 240.6 313.8 240.9 313.9 240.9 314.0 240.6 314.1 240.7 314.2 241.3 314.4 241.4 314.5 241.1 314.6 241.2 314.7 241.1 314.8 241.4 315.0 240.2 315.1 240.5 315.2 240.9 315.3 241.0 315.4 241.4 315.6 240.2 315.7 241.0 315.8 241.1 315.9 240.7 316.0 241.0 316.2 241.4 316.3 241.2 316.4 241.0 316.5 241.1 316.6 241.0 316.8 241.4 316.9 240.9 317.0 241.4 317.1 240.8 317.2 241.0 317.4 240.5 317.5 240.9 317.6 241.3 317.7 240.6 317.8 240.9 318.0 241.1 318.1 241.0 318.2 241.5 318.3 240.7 318.4 241.5 318.6 241.7 318.7 241.9 318.8 241.2 318.9 241.0 319.0 240.7 319.2 241.5 319.3 241.5 319.4 241.3 319.5 241.3 319.6 241.4 319.8 241.0 319.9 240.5 320.0 240.5 320.1 240.8 320.2 240.7 320.4 240.4 320.5 240.8 320.6 240.6 320.7 241.3 320.8 241.0 321.0 241.3 321.1 240.5 321.2 240.5 321.3 240.4 321.4 241.1 321.6 242.1 321.7 241.0 321.8 240.7 321.9 241.0 322.0 240.9 322.2 241.3 322.3 240.9 322.4 240.6 322.5 240.2 322.6 241.0 322.8 241.3 322.9 241.0 323.0 240.6 323.1 240.8 323.2 240.8 323.4 241.2 323.5 240.9 323.6 241.4 323.7 240.8 323.8 240.6 324.0 241.6 324.1 240.4 324.2 240.5 324.3 241.6 324.4 240.9 324.6 241.4 324.7 239.7 324.8 241.1 324.9 240.6 325.0 240.7 325.2 240.8 325.3 239.5 325.4 240.3 325.5 240.8 325.6 241.9 325.8 240.4 325.9 241.7 326.0 241.0 326.1 241.3 326.2 240.6 326.4 241.2 326.5 240.7 326.6 240.6 326.7 241.6 326.8 240.9 327.0 241.0 327.1 241.5 327.2 240.9 327.3 240.8 327.4 241.4 327.6 241.4 327.7 241.9 327.8 240.9 327.9 241.5 328.0 241.5 328.2 241.1 328.3 241.2 328.4 241.3 328.5 240.9 328.6 240.8 328.8 241.6 328.9 240.9 329.0 240.9 329.1 241.6 329.2 241.0 329.4 241.1 329.5 240.7 329.6 240.8 329.7 240.8 329.8 240.8 330.0 241.9 330.1 241.0 330.2 240.5 330.3 241.0 330.4 241.7 330.6 240.9 330.7 241.4 330.8 241.0 330.9 240.6 331.0 241.1 331.2 240.9 331.3 241.3 331.4 241.6 331.5 241.2 331.6 242.3 331.8 240.9 331.9 241.9 332.0 241.5 332.1 241.9 332.2 241.6 332.4 240.5 332.5 241.3 332.6 241.8 332.7 241.4 332.8 240.9 333.0 241.2 333.1 241.5 333.2 241.8 333.3 241.1 333.4 241.3 333.6 240.9 333.7 240.7 333.8 241.0 333.9 241.7 334.0 241.4 334.2 241.0 334.3 241.1 334.4 241.3 334.5 241.0 334.6 240.9 334.8 241.0 334.9 241.4 335.0 241.0 335.1 241.5 335.2 240.5 335.4 241.0 335.5 241.1 335.6 241.6 335.7 241.0 335.8 241.2 336.0 241.6 336.1 241.4 336.2 241.3 336.3 241.4 336.4 241.2 336.6 241.9 336.7 241.8 336.8 241.9 336.9 242.5 337.0 242.1 337.2 241.8 337.3 241.6 337.4 242.6 337.5 241.9 337.6 241.7 337.8 242.3 337.9 242.0 338.0 241.7 338.1 242.0 338.2 242.6 338.4 241.9 338.5 242.0 338.6 241.5 338.7 241.6 338.8 242.1 339.0 241.7 339.1 241.8 339.2 242.1 339.3 241.5 339.4 242.3 339.6 241.4 339.7 241.4 339.8 241.3 339.9 241.1 340.0 241.9 340.2 241.7 340.3 242.2 340.4 241.4 340.5 242.0 340.6 242.3 340.8 241.6 340.9 241.7 341.0 240.7 341.1 242.4 341.2 241.6 341.4 241.9 341.5 241.4 341.6 241.7 341.7 241.1 341.8 241.8 342.0 241.5 342.1 241.4 342.2 241.7 342.3 240.8 342.4 241.6 342.6 241.4 342.7 242.1 342.8 241.9 342.9 241.6 343.0 241.5 343.2 242.8 343.3 241.3 343.4 242.4 343.5 242.0 343.6 241.9 343.8 240.9 343.9 241.9 344.0 241.4 344.1 241.2 344.2 241.8 344.4 241.3 344.5 241.8 344.6 241.3 344.7 241.9 344.8 241.9 345.0 241.4 345.1 241.4 345.2 241.6 345.3 241.7 345.4 241.7 345.6 242.7" stroke="#ff4d00"/>
</g>
<g stroke="#5a5a5a" stroke-width="1.3" fill="none">
<line x1="23" y1="0" x2="23" y2="253.6" stroke-width="1.5"/>
<line x1="22.4" y1="253" x2="346.4" y2="253"/>
<line x1="22.4" y1="0.6" x2="346.4" y2="0.6" stroke="#3a3a3a"/>
<line x1="345.6" y1="0" x2="345.6" y2="40" stroke="#959595"/>
<line x1="345.7" y1="40" x2="345.7" y2="253.6" stroke="#707070" stroke-width="1.6"/>
<line x1="23.00" y1="253" x2="23.00" y2="256.8"/>
<line x1="37.66" y1="253" x2="37.66" y2="255.0"/>
<line x1="52.33" y1="253" x2="52.33" y2="256.8"/>
<line x1="66.99" y1="253" x2="66.99" y2="255.0"/>
<line x1="81.65" y1="253" x2="81.65" y2="256.8"/>
<line x1="96.32" y1="253" x2="96.32" y2="255.0"/>
<line x1="110.98" y1="253" x2="110.98" y2="256.8"/>
<line x1="125.65" y1="253" x2="125.65" y2="255.0"/>
<line x1="140.31" y1="253" x2="140.31" y2="256.8"/>
<line x1="154.97" y1="253" x2="154.97" y2="255.0"/>
<line x1="169.64" y1="253" x2="169.64" y2="256.8"/>
<line x1="184.30" y1="253" x2="184.30" y2="255.0"/>
<line x1="198.96" y1="253" x2="198.96" y2="256.8"/>
<line x1="213.63" y1="253" x2="213.63" y2="255.0"/>
<line x1="228.29" y1="253" x2="228.29" y2="256.8"/>
<line x1="242.95" y1="253" x2="242.95" y2="255.0"/>
<line x1="257.62" y1="253" x2="257.62" y2="256.8"/>
<line x1="272.28" y1="253" x2="272.28" y2="255.0"/>
<line x1="286.95" y1="253" x2="286.95" y2="256.8"/>
<line x1="301.61" y1="253" x2="301.61" y2="255.0"/>
<line x1="316.27" y1="253" x2="316.27" y2="256.8"/>
<line x1="330.94" y1="253" x2="330.94" y2="255.0"/>
<line x1="345.60" y1="253" x2="345.60" y2="256.8"/>
</g>
<g font-family="Liberation Sans, sans-serif" font-size="9.2" fill="#222" stroke="#222" stroke-width="0.15" text-anchor="middle">
<text x="23.00" y="266.2">5</text>
<text x="52.33" y="266.2">10</text>
<text x="81.65" y="266.2">15</text>
<text x="110.98" y="266.2">20</text>
<text x="140.31" y="266.2">25</text>
<text x="169.64" y="266.2">30</text>
<text x="198.96" y="266.2">35</text>
<text x="228.29" y="266.2">40</text>
<text x="257.62" y="266.2">45</text>
<text x="286.95" y="266.2">50</text>
<text x="316.27" y="266.2">55</text>
<text x="345.60" y="266.2">60</text>
<text x="184.5" y="283.5" font-size="10" fill="#111" stroke="#111" stroke-width="0.2">2θ ( ° )</text>
</g>
<text class="lbl" x="315.5" y="44.8" font-size="10" text-anchor="middle">D</text>
<text class="lbl" x="315" y="93.6" font-size="10" text-anchor="middle">C</text>
<text class="lbl" x="316.6" y="141.6" font-size="10" text-anchor="middle">B</text>
<text class="lbl" x="319.3" y="190.2" font-size="10" text-anchor="middle">A</text>
<text class="lbl" x="320.2" y="234" font-size="10.4" text-anchor="middle">Control</text>
<text font-family="Liberation Sans, sans-serif" font-size="10.5" fill="#111" stroke="#111" stroke-width="0.2" text-anchor="middle" textLength="67.5" lengthAdjust="spacingAndGlyphs" transform="translate(9.4,127.6) rotate(-90)">Intensity (a.u)</text>
</svg>
</body></html>
